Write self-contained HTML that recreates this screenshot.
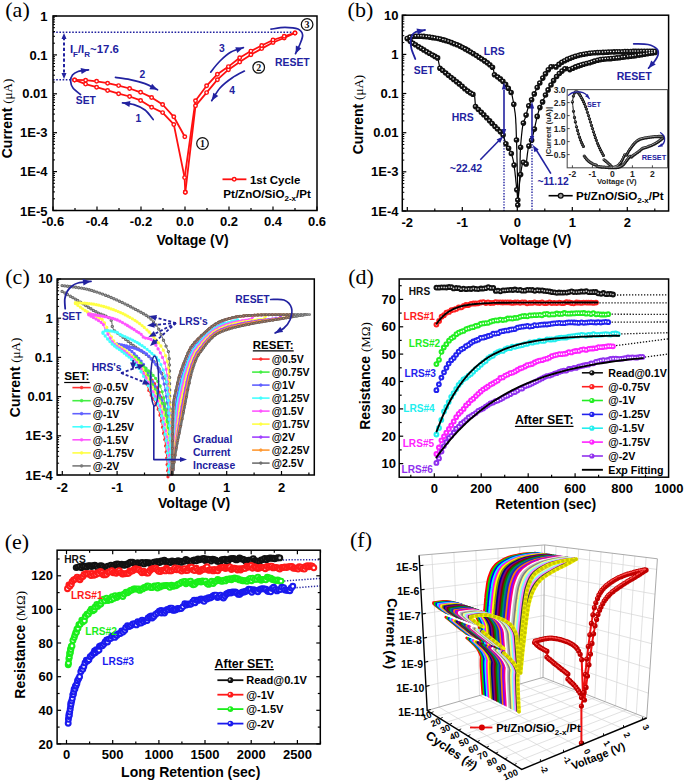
<!DOCTYPE html>
<html><head><meta charset="utf-8"><style>
html,body{margin:0;padding:0;background:#fff;width:685px;height:781px;overflow:hidden;}
svg{display:block;font-family:"Liberation Sans",sans-serif;}
</style></head><body>
<svg width="685" height="781" viewBox="0 0 685 781">
<rect x="0" y="0" width="685" height="781" fill="#fff"/>
<line x1="53" y1="32.3" x2="295" y2="32.3" stroke="#2222a0" stroke-width="1.5" stroke-dasharray="1.6,1.6"/>
<line x1="53" y1="79.7" x2="74" y2="79.7" stroke="#2222a0" stroke-width="1.5" stroke-dasharray="1.6,1.6"/>
<line x1="64" y1="37" x2="64" y2="75" stroke="#2222a0" stroke-width="2.0" stroke-dasharray="3.2,2.2"/>
<path d="M64,33 L66.5,39 L61.5,39 Z" fill="#2222a0"/>
<path d="M64,79 L61.5,73 L66.5,73 Z" fill="#2222a0"/>
<rect x="53" y="16" width="264" height="194.5" stroke="#000" stroke-width="1.5" fill="none"/>
<line x1="53" y1="210.5" x2="53" y2="206.5" stroke="#000" stroke-width="1.2"/>
<line x1="75" y1="210.5" x2="75" y2="208" stroke="#000" stroke-width="1.2"/>
<line x1="97" y1="210.5" x2="97" y2="206.5" stroke="#000" stroke-width="1.2"/>
<line x1="119" y1="210.5" x2="119" y2="208" stroke="#000" stroke-width="1.2"/>
<line x1="141" y1="210.5" x2="141" y2="206.5" stroke="#000" stroke-width="1.2"/>
<line x1="163" y1="210.5" x2="163" y2="208" stroke="#000" stroke-width="1.2"/>
<line x1="185" y1="210.5" x2="185" y2="206.5" stroke="#000" stroke-width="1.2"/>
<line x1="207" y1="210.5" x2="207" y2="208" stroke="#000" stroke-width="1.2"/>
<line x1="229" y1="210.5" x2="229" y2="206.5" stroke="#000" stroke-width="1.2"/>
<line x1="251" y1="210.5" x2="251" y2="208" stroke="#000" stroke-width="1.2"/>
<line x1="273" y1="210.5" x2="273" y2="206.5" stroke="#000" stroke-width="1.2"/>
<line x1="295" y1="210.5" x2="295" y2="208" stroke="#000" stroke-width="1.2"/>
<line x1="317" y1="210.5" x2="317" y2="206.5" stroke="#000" stroke-width="1.2"/>
<text x="53" y="226" style="font-family:'Liberation Sans'" font-size="13" font-weight="bold" fill="#000" text-anchor="middle">-0.6</text>
<text x="97" y="226" style="font-family:'Liberation Sans'" font-size="13" font-weight="bold" fill="#000" text-anchor="middle">-0.4</text>
<text x="141" y="226" style="font-family:'Liberation Sans'" font-size="13" font-weight="bold" fill="#000" text-anchor="middle">-0.2</text>
<text x="185" y="226" style="font-family:'Liberation Sans'" font-size="13" font-weight="bold" fill="#000" text-anchor="middle">0.0</text>
<text x="229" y="226" style="font-family:'Liberation Sans'" font-size="13" font-weight="bold" fill="#000" text-anchor="middle">0.2</text>
<text x="273" y="226" style="font-family:'Liberation Sans'" font-size="13" font-weight="bold" fill="#000" text-anchor="middle">0.4</text>
<text x="317" y="226" style="font-family:'Liberation Sans'" font-size="13" font-weight="bold" fill="#000" text-anchor="middle">0.6</text>
<line x1="53" y1="210.5" x2="57" y2="210.5" stroke="#000" stroke-width="1.2"/>
<line x1="53" y1="198.8" x2="55" y2="198.8" stroke="#000" stroke-width="1.0"/>
<line x1="53" y1="191.9" x2="55" y2="191.9" stroke="#000" stroke-width="1.0"/>
<line x1="53" y1="187.1" x2="55" y2="187.1" stroke="#000" stroke-width="1.0"/>
<line x1="53" y1="183.3" x2="55" y2="183.3" stroke="#000" stroke-width="1.0"/>
<line x1="53" y1="180.2" x2="55" y2="180.2" stroke="#000" stroke-width="1.0"/>
<line x1="53" y1="177.6" x2="55" y2="177.6" stroke="#000" stroke-width="1.0"/>
<line x1="53" y1="175.4" x2="55" y2="175.4" stroke="#000" stroke-width="1.0"/>
<line x1="53" y1="173.4" x2="55" y2="173.4" stroke="#000" stroke-width="1.0"/>
<line x1="53" y1="171.6" x2="57" y2="171.6" stroke="#000" stroke-width="1.2"/>
<line x1="53" y1="159.9" x2="55" y2="159.9" stroke="#000" stroke-width="1.0"/>
<line x1="53" y1="153" x2="55" y2="153" stroke="#000" stroke-width="1.0"/>
<line x1="53" y1="148.2" x2="55" y2="148.2" stroke="#000" stroke-width="1.0"/>
<line x1="53" y1="144.4" x2="55" y2="144.4" stroke="#000" stroke-width="1.0"/>
<line x1="53" y1="141.3" x2="55" y2="141.3" stroke="#000" stroke-width="1.0"/>
<line x1="53" y1="138.7" x2="55" y2="138.7" stroke="#000" stroke-width="1.0"/>
<line x1="53" y1="136.5" x2="55" y2="136.5" stroke="#000" stroke-width="1.0"/>
<line x1="53" y1="134.5" x2="55" y2="134.5" stroke="#000" stroke-width="1.0"/>
<line x1="53" y1="132.7" x2="57" y2="132.7" stroke="#000" stroke-width="1.2"/>
<line x1="53" y1="121" x2="55" y2="121" stroke="#000" stroke-width="1.0"/>
<line x1="53" y1="114.1" x2="55" y2="114.1" stroke="#000" stroke-width="1.0"/>
<line x1="53" y1="109.3" x2="55" y2="109.3" stroke="#000" stroke-width="1.0"/>
<line x1="53" y1="105.5" x2="55" y2="105.5" stroke="#000" stroke-width="1.0"/>
<line x1="53" y1="102.4" x2="55" y2="102.4" stroke="#000" stroke-width="1.0"/>
<line x1="53" y1="99.8" x2="55" y2="99.8" stroke="#000" stroke-width="1.0"/>
<line x1="53" y1="97.6" x2="55" y2="97.6" stroke="#000" stroke-width="1.0"/>
<line x1="53" y1="95.6" x2="55" y2="95.6" stroke="#000" stroke-width="1.0"/>
<line x1="53" y1="93.8" x2="57" y2="93.8" stroke="#000" stroke-width="1.2"/>
<line x1="53" y1="82.1" x2="55" y2="82.1" stroke="#000" stroke-width="1.0"/>
<line x1="53" y1="75.2" x2="55" y2="75.2" stroke="#000" stroke-width="1.0"/>
<line x1="53" y1="70.4" x2="55" y2="70.4" stroke="#000" stroke-width="1.0"/>
<line x1="53" y1="66.6" x2="55" y2="66.6" stroke="#000" stroke-width="1.0"/>
<line x1="53" y1="63.5" x2="55" y2="63.5" stroke="#000" stroke-width="1.0"/>
<line x1="53" y1="60.9" x2="55" y2="60.9" stroke="#000" stroke-width="1.0"/>
<line x1="53" y1="58.7" x2="55" y2="58.7" stroke="#000" stroke-width="1.0"/>
<line x1="53" y1="56.7" x2="55" y2="56.7" stroke="#000" stroke-width="1.0"/>
<line x1="53" y1="54.9" x2="57" y2="54.9" stroke="#000" stroke-width="1.2"/>
<line x1="53" y1="43.2" x2="55" y2="43.2" stroke="#000" stroke-width="1.0"/>
<line x1="53" y1="36.3" x2="55" y2="36.3" stroke="#000" stroke-width="1.0"/>
<line x1="53" y1="31.5" x2="55" y2="31.5" stroke="#000" stroke-width="1.0"/>
<line x1="53" y1="27.7" x2="55" y2="27.7" stroke="#000" stroke-width="1.0"/>
<line x1="53" y1="24.6" x2="55" y2="24.6" stroke="#000" stroke-width="1.0"/>
<line x1="53" y1="22" x2="55" y2="22" stroke="#000" stroke-width="1.0"/>
<line x1="53" y1="19.8" x2="55" y2="19.8" stroke="#000" stroke-width="1.0"/>
<line x1="53" y1="17.8" x2="55" y2="17.8" stroke="#000" stroke-width="1.0"/>
<line x1="53" y1="16" x2="57" y2="16" stroke="#000" stroke-width="1.2"/>
<text x="47.5" y="20.6" style="font-family:'Liberation Sans'" font-size="13" font-weight="bold" fill="#000" text-anchor="end">1</text>
<text x="47.5" y="59.5" style="font-family:'Liberation Sans'" font-size="13" font-weight="bold" fill="#000" text-anchor="end">0.1</text>
<text x="47.5" y="98.4" style="font-family:'Liberation Sans'" font-size="13" font-weight="bold" fill="#000" text-anchor="end">0.01</text>
<text x="47.5" y="137.3" style="font-family:'Liberation Sans'" font-size="13" font-weight="bold" fill="#000" text-anchor="end">1E-3</text>
<text x="47.5" y="176.2" style="font-family:'Liberation Sans'" font-size="13" font-weight="bold" fill="#000" text-anchor="end">1E-4</text>
<text x="47.5" y="216.3" style="font-family:'Liberation Sans'" font-size="13" font-weight="bold" fill="#000" text-anchor="end">1E-5</text>
<text x="192.6" y="244.5" style="font-family:'Liberation Sans'" font-size="14" font-weight="bold" fill="#000" text-anchor="middle">Voltage (V)</text>
<text x="11.6" y="118.5" font-family="Liberation Sans" font-size="14" font-weight="bold" text-anchor="middle" transform="rotate(-90 11.6 118.5)">Current <tspan font-family="Liberation Serif" font-weight="normal" font-size="13">(μA)</tspan></text>
<text x="5.3" y="17" style="font-family:'Liberation Serif'" font-size="22" font-weight="normal" fill="#000" text-anchor="start">(a)</text>
<path d="M74.6,79.9 L85.6,80.2 L96.6,81.3 L107.6,83.2 L118.6,85.6 L129.6,88.5 L140.6,92.3 L151.6,97.4 L162.6,104.5 L173.8,116.8 L184.8,136.8" stroke="#ff1010" stroke-width="1.8" fill="none" stroke-linejoin="round" stroke-linecap="round"/>
<path d="M74.6,79.9 L85.6,84.1 L96.6,87.2 L107.6,90.4 L118.6,93.7 L129.6,96.5 L140.6,100.4 L151.6,107.2 L162.6,112.6 L173.8,124.4 L184.6,177.6 L185.3,192.3" stroke="#ff1010" stroke-width="1.8" fill="none" stroke-linejoin="round" stroke-linecap="round"/>
<path d="M185.3,192.3 L195.5,105.8 L206.6,92.6 L217.4,79.7 L228.4,69.7 L239.7,61.9 L250.9,54.7 L261.7,48.6 L273,42.5 L284.2,38 L295,32.9" stroke="#ff1010" stroke-width="1.8" fill="none" stroke-linejoin="round" stroke-linecap="round"/>
<path d="M295,32.9 L284.2,36.3 L273,40 L261.7,45.5 L250.9,51.1 L239.7,57.8 L228.4,66.6 L217.4,74.2 L206.6,85.8 L195.5,100.7 L184.6,177.6" stroke="#ff1010" stroke-width="1.8" fill="none" stroke-linejoin="round" stroke-linecap="round"/>
<circle cx="74.6" cy="79.9" r="1.75" stroke="#ff1010" stroke-width="1.45" fill="#fff"/>
<circle cx="85.6" cy="80.2" r="1.75" stroke="#ff1010" stroke-width="1.45" fill="#fff"/>
<circle cx="96.6" cy="81.3" r="1.75" stroke="#ff1010" stroke-width="1.45" fill="#fff"/>
<circle cx="107.6" cy="83.2" r="1.75" stroke="#ff1010" stroke-width="1.45" fill="#fff"/>
<circle cx="118.6" cy="85.6" r="1.75" stroke="#ff1010" stroke-width="1.45" fill="#fff"/>
<circle cx="129.6" cy="88.5" r="1.75" stroke="#ff1010" stroke-width="1.45" fill="#fff"/>
<circle cx="140.6" cy="92.3" r="1.75" stroke="#ff1010" stroke-width="1.45" fill="#fff"/>
<circle cx="151.6" cy="97.4" r="1.75" stroke="#ff1010" stroke-width="1.45" fill="#fff"/>
<circle cx="162.6" cy="104.5" r="1.75" stroke="#ff1010" stroke-width="1.45" fill="#fff"/>
<circle cx="173.8" cy="116.8" r="1.75" stroke="#ff1010" stroke-width="1.45" fill="#fff"/>
<circle cx="184.8" cy="136.8" r="1.75" stroke="#ff1010" stroke-width="1.45" fill="#fff"/>
<circle cx="74.6" cy="79.9" r="1.75" stroke="#ff1010" stroke-width="1.45" fill="#fff"/>
<circle cx="85.6" cy="84.1" r="1.75" stroke="#ff1010" stroke-width="1.45" fill="#fff"/>
<circle cx="96.6" cy="87.2" r="1.75" stroke="#ff1010" stroke-width="1.45" fill="#fff"/>
<circle cx="107.6" cy="90.4" r="1.75" stroke="#ff1010" stroke-width="1.45" fill="#fff"/>
<circle cx="118.6" cy="93.7" r="1.75" stroke="#ff1010" stroke-width="1.45" fill="#fff"/>
<circle cx="129.6" cy="96.5" r="1.75" stroke="#ff1010" stroke-width="1.45" fill="#fff"/>
<circle cx="140.6" cy="100.4" r="1.75" stroke="#ff1010" stroke-width="1.45" fill="#fff"/>
<circle cx="151.6" cy="107.2" r="1.75" stroke="#ff1010" stroke-width="1.45" fill="#fff"/>
<circle cx="162.6" cy="112.6" r="1.75" stroke="#ff1010" stroke-width="1.45" fill="#fff"/>
<circle cx="173.8" cy="124.4" r="1.75" stroke="#ff1010" stroke-width="1.45" fill="#fff"/>
<circle cx="184.6" cy="177.6" r="1.75" stroke="#ff1010" stroke-width="1.45" fill="#fff"/>
<circle cx="185.3" cy="192.3" r="1.75" stroke="#ff1010" stroke-width="1.45" fill="#fff"/>
<circle cx="185.3" cy="192.3" r="1.75" stroke="#ff1010" stroke-width="1.45" fill="#fff"/>
<circle cx="195.5" cy="105.8" r="1.75" stroke="#ff1010" stroke-width="1.45" fill="#fff"/>
<circle cx="206.6" cy="92.6" r="1.75" stroke="#ff1010" stroke-width="1.45" fill="#fff"/>
<circle cx="217.4" cy="79.7" r="1.75" stroke="#ff1010" stroke-width="1.45" fill="#fff"/>
<circle cx="228.4" cy="69.7" r="1.75" stroke="#ff1010" stroke-width="1.45" fill="#fff"/>
<circle cx="239.7" cy="61.9" r="1.75" stroke="#ff1010" stroke-width="1.45" fill="#fff"/>
<circle cx="250.9" cy="54.7" r="1.75" stroke="#ff1010" stroke-width="1.45" fill="#fff"/>
<circle cx="261.7" cy="48.6" r="1.75" stroke="#ff1010" stroke-width="1.45" fill="#fff"/>
<circle cx="273" cy="42.5" r="1.75" stroke="#ff1010" stroke-width="1.45" fill="#fff"/>
<circle cx="284.2" cy="38" r="1.75" stroke="#ff1010" stroke-width="1.45" fill="#fff"/>
<circle cx="295" cy="32.9" r="1.75" stroke="#ff1010" stroke-width="1.45" fill="#fff"/>
<circle cx="295" cy="32.9" r="1.75" stroke="#ff1010" stroke-width="1.45" fill="#fff"/>
<circle cx="284.2" cy="36.3" r="1.75" stroke="#ff1010" stroke-width="1.45" fill="#fff"/>
<circle cx="273" cy="40" r="1.75" stroke="#ff1010" stroke-width="1.45" fill="#fff"/>
<circle cx="261.7" cy="45.5" r="1.75" stroke="#ff1010" stroke-width="1.45" fill="#fff"/>
<circle cx="250.9" cy="51.1" r="1.75" stroke="#ff1010" stroke-width="1.45" fill="#fff"/>
<circle cx="239.7" cy="57.8" r="1.75" stroke="#ff1010" stroke-width="1.45" fill="#fff"/>
<circle cx="228.4" cy="66.6" r="1.75" stroke="#ff1010" stroke-width="1.45" fill="#fff"/>
<circle cx="217.4" cy="74.2" r="1.75" stroke="#ff1010" stroke-width="1.45" fill="#fff"/>
<circle cx="206.6" cy="85.8" r="1.75" stroke="#ff1010" stroke-width="1.45" fill="#fff"/>
<circle cx="195.5" cy="100.7" r="1.75" stroke="#ff1010" stroke-width="1.45" fill="#fff"/>
<path d="M80.5,94.5 C79.2,93.4 74.7,90.2 73,88 C71.3,85.8 70.7,83.2 70.6,81 C70.5,78.8 71.3,76.6 72.5,75 C73.7,73.4 75.3,72.4 78,71.5 C80.7,70.6 86.8,70.1 88.5,69.8" stroke="#2222a0" stroke-width="1.7" fill="none" stroke-linejoin="round" stroke-linecap="round"/>
<path d="M88.5,69.8 L81.6,74 L80.6,68 Z" fill="#2222a0"/>
<text x="85.8" y="103.8" style="font-family:'Liberation Sans'" font-size="10.3" font-weight="bold" fill="#2222a0" text-anchor="middle">SET</text>
<path d="M115.5,77.4 C117.9,77.8 125.1,78.6 130,79.6 C134.9,80.6 140.4,81.9 145,83.6 C149.6,85.3 155.4,88.8 157.5,89.8" stroke="#2222a0" stroke-width="1.7" fill="none" stroke-linejoin="round" stroke-linecap="round"/>
<path d="M157.5,89.8 L149.4,89.2 L152.1,83.8 Z" fill="#2222a0"/>
<text x="142.4" y="78.4" style="font-family:'Liberation Sans'" font-size="10.3" font-weight="bold" fill="#2222a0" text-anchor="middle">2</text>
<path d="M153.2,119.5 C151.8,117.9 148.2,112.5 145,110 C141.8,107.5 137.8,105.8 134,104.6 C130.2,103.4 124.4,103.1 122.5,102.8" stroke="#2222a0" stroke-width="1.7" fill="none" stroke-linejoin="round" stroke-linecap="round"/>
<path d="M122.5,102.8 L130.4,101 L129.4,106.9 Z" fill="#2222a0"/>
<text x="138.3" y="121.9" style="font-family:'Liberation Sans'" font-size="10.3" font-weight="bold" fill="#2222a0" text-anchor="middle">1</text>
<path d="M210.7,72.1 C212.2,70.2 216.6,64.3 220,61 C223.4,57.6 227.1,54.2 231,52 C234.9,49.8 241.3,48.3 243.4,47.6" stroke="#2222a0" stroke-width="1.7" fill="none" stroke-linejoin="round" stroke-linecap="round"/>
<path d="M243.4,47.6 L237.3,52.9 L235.3,47.3 Z" fill="#2222a0"/>
<text x="221.9" y="52.3" style="font-family:'Liberation Sans'" font-size="10.3" font-weight="bold" fill="#2222a0" text-anchor="middle">3</text>
<path d="M244.4,71.1 C242.3,72.2 236.1,75.2 232,78 C227.9,80.8 223.4,84.2 220,88 C216.6,91.8 213.1,98.6 211.7,100.7" stroke="#2222a0" stroke-width="1.7" fill="none" stroke-linejoin="round" stroke-linecap="round"/>
<path d="M211.7,100.7 L213.3,92.8 L218.3,96.1 Z" fill="#2222a0"/>
<text x="232.1" y="94.2" style="font-family:'Liberation Sans'" font-size="10.3" font-weight="bold" fill="#2222a0" text-anchor="middle">4</text>
<path d="M271,29.2 C273.3,28.9 280.5,27.3 285,27.3 C289.5,27.3 295.1,27.7 298,29 C300.9,30.3 302.3,32.5 302.6,35 C302.9,37.5 301.2,40.9 300,44 C298.8,47.1 296.2,52.1 295.5,53.7" stroke="#2222a0" stroke-width="1.7" fill="none" stroke-linejoin="round" stroke-linecap="round"/>
<path d="M295.5,53.7 L295.9,45.6 L301.4,48.2 Z" fill="#2222a0"/>
<text x="292.4" y="65.6" style="font-family:'Liberation Sans'" font-size="10.4" font-weight="bold" fill="#2222a0" text-anchor="middle">RESET</text>
<text x="69.9" y="53" font-family="Liberation Sans" font-size="11.4" font-weight="bold" fill="#2222a0">I<tspan font-size="8" dy="3.5">F</tspan><tspan dy="-3.5">/I</tspan><tspan font-size="8" dy="3.5">R</tspan><tspan dy="-3.5">~17.6</tspan></text>
<circle cx="307.1" cy="24.5" r="5.8" stroke="#111" stroke-width="1.25" fill="none"/>
<text x="307.1" y="28" style="font-family:'Liberation Serif'" font-size="10" font-weight="bold" fill="#111" text-anchor="middle">3</text>
<circle cx="258.7" cy="67.4" r="5.8" stroke="#111" stroke-width="1.25" fill="none"/>
<text x="258.7" y="70.9" style="font-family:'Liberation Serif'" font-size="10" font-weight="bold" fill="#111" text-anchor="middle">2</text>
<circle cx="202.5" cy="143.5" r="5.8" stroke="#111" stroke-width="1.25" fill="none"/>
<text x="202.5" y="147" style="font-family:'Liberation Serif'" font-size="10" font-weight="bold" fill="#111" text-anchor="middle">1</text>
<line x1="222.5" y1="179.3" x2="246.4" y2="179.3" stroke="#ff1010" stroke-width="1.8"/>
<circle cx="234.2" cy="179.3" r="1.75" stroke="#ff1010" stroke-width="1.45" fill="#fff"/>
<text x="249.9" y="183.5" style="font-family:'Liberation Sans'" font-size="11.5" font-weight="bold" fill="#000" text-anchor="start">1st Cycle</text>
<text x="223.3" y="198" font-family="Liberation Sans" font-size="11.6" font-weight="bold">Pt/ZnO/SiO<tspan font-size="8" dy="3">2-x</tspan><tspan dy="-3">/Pt</tspan></text>
<line x1="504" y1="137" x2="504" y2="211" stroke="#2222a0" stroke-width="1.4" stroke-dasharray="1.4,1.4"/>
<line x1="532" y1="144" x2="532" y2="211" stroke="#2222a0" stroke-width="1.4" stroke-dasharray="1.4,1.4"/>
<path d="M493,67.6 L494.5,74.8" stroke="#000" stroke-width="1.2" fill="none" stroke-linejoin="round" stroke-linecap="round"/>
<path d="M437.8,58 L439.9,68.2" stroke="#000" stroke-width="1.2" fill="none" stroke-linejoin="round" stroke-linecap="round"/>
<path d="M474.6,95.2 L475.5,106.6" stroke="#000" stroke-width="1.2" fill="none" stroke-linejoin="round" stroke-linecap="round"/>
<path d="M553.4,65 L556,66.9" stroke="#000" stroke-width="1.2" fill="none" stroke-linejoin="round" stroke-linecap="round"/>
<path d="M567.2,66.9 L569.8,69.6" stroke="#000" stroke-width="1.2" fill="none" stroke-linejoin="round" stroke-linecap="round"/>
<path d="M407.2,38.6 L409.6,37.4 L412.9,36.5 L415.9,36.2 L419.3,36.2 L422.3,36.3 L425.3,36.6 L428.4,37 L431.4,37.4 L434.4,37.9 L437.4,38.4 L440.4,39.1 L443.4,39.9 L446.2,40.7 L449.1,41.7 L451.9,42.8 L454.7,43.9 L457.6,45.1 L460.4,46.3 L463.1,47.7 L465.7,49.1 L468.4,50.7 L471.1,52.2 L473.7,53.8 L476.4,55.5 L479,57.2 L481.3,58.8 L484.1,60.6 L486.5,62.3 L488.9,64.1 L491.5,66.3 L493,67.6" stroke="#000" stroke-width="1.2" fill="none" stroke-linejoin="round" stroke-linecap="round"/>
<path d="M494.5,74.8 L496.7,76.3 L499.5,78.3 L501.8,80.2 L504,82.5 L505.9,84.9 L507.8,87.5 L509.5,90 L511.1,92.5 L512,94.8 L512.7,98.5 L513.2,100.9 L513.7,103.7 L514.2,106.9 L514.7,110.3 L515.2,113.7 L515.5,116.7 L515.7,119.3 L515.8,122.1 L516,124.9 L516.1,127.9 L516.2,131.1 L516.3,134.5 L516.4,137.8 L516.5,140.5 L516.6,143.3 L516.7,146.2 L516.8,149.3 L516.9,152.4 L516.9,155.6 L517,158.7 L517.1,161.9 L517.2,165 L517.2,168.1 L517.3,171 L517.4,174.2 L517.4,177.7 L517.5,181.1 L517.5,184.6 L517.6,188.1 L517.6,191.3 L517.7,194.4 L517.7,197.2 L517.8,199.5 L517.8,201.5 L517.8,202" stroke="#000" stroke-width="1.2" fill="none" stroke-linejoin="round" stroke-linecap="round"/>
<path d="M407.2,38.6 L409,40.2 L411.8,42.3 L414.2,44 L416.8,45.6 L419.5,47.3 L422.1,48.8 L424.7,50.4 L427.3,52 L429.9,53.5 L432.9,55.3 L435.8,56.9 L437.8,58" stroke="#000" stroke-width="1.2" fill="none" stroke-linejoin="round" stroke-linecap="round"/>
<path d="M439.9,68.2 L441.5,69.6 L443.9,71.5 L446.6,73.7 L449.2,75.8 L451.6,77.8 L454.1,79.8 L456.6,81.7 L458.9,83.6 L461.3,85.6 L463.6,87.7 L465.9,89.7 L468,91.4 L471.1,93.3 L473.7,94.7 L474.6,95.2" stroke="#000" stroke-width="1.2" fill="none" stroke-linejoin="round" stroke-linecap="round"/>
<path d="M475.5,106.6 L477,108.1 L479.2,110.2 L481.7,112.7 L484.2,115.2 L486.4,117.4 L488.5,119.7 L490.7,122 L492.8,124.2 L494.7,126.2 L497.1,128.6 L499.4,130.8 L501.3,132.7 L503.1,135.1 L504,137.7 L504.9,140.5 L505.9,143.7 L507.2,146.4 L508.9,148.7 L510.3,151.2 L511.5,154 L512.3,156.7 L512.9,158.8 L513.5,161.6 L514.2,166 L514.5,168.8 L514.9,171.5 L515.2,174.6 L515.6,177.9 L515.9,181.4 L516.3,185 L516.6,188.5 L517,191.9 L517.3,195 L517.5,197.7 L517.7,199.9 L518,204.8 L517.8,205.2" stroke="#000" stroke-width="1.2" fill="none" stroke-linejoin="round" stroke-linecap="round"/>
<path d="M517.8,205 L517.9,203.2 L518.1,200.8 L518.3,198 L518.6,194.9 L518.8,191.6 L519.1,188.1 L519.3,184.6 L519.5,181.2 L519.7,178 L519.8,174.9 L520,171.8 L520,168.7 L520.1,165.6 L520.1,162.6 L520.1,159.6 L520.2,156.7 L520.2,153.8 L520.4,150.9 L520.5,147.8 L520.7,144.5 L521,141.2 L521.3,138 L521.6,135 L521.9,132.1 L522.2,129.4 L522.6,126.7 L523.4,123.1 L524.3,120.3 L525.3,117.9 L526.1,115.1 L526.9,112 L527.7,109.1 L528.6,106.4 L529.9,103.5 L531.2,100.7 L532.5,97.8 L533.9,94.8 L535.2,91.8 L536.5,88.9 L537.9,86.1 L539.6,83.4 L541.2,80.8 L542.8,78.1 L544.4,75.4 L546.1,72.8 L547.9,70.2 L549.8,67.9 L552.4,65.7 L553.4,65" stroke="#000" stroke-width="1.2" fill="none" stroke-linejoin="round" stroke-linecap="round"/>
<path d="M556,66.9 L558.1,65.1 L560.7,63.2 L563.2,61.5 L566,60 L568.7,58.8 L571.6,57.6 L574.5,56.6 L577.4,55.8 L580.3,55 L583.3,54.3 L586.4,53.8 L589.5,53.3 L592.5,53 L595.2,52.8 L598.1,52.6 L601.2,52.4 L603.9,52.3 L606.8,52.2 L610,52.1 L613.5,51.9 L616.5,51.8 L619.3,51.8 L622.3,51.7 L625.4,51.6 L628.6,51.5 L631.7,51.5 L634.8,51.4 L637.9,51.4 L641.4,51.3 L644.9,51.3 L648.3,51.3 L651.5,51.3 L654.1,51.3 L656,51.3" stroke="#000" stroke-width="1.2" fill="none" stroke-linejoin="round" stroke-linecap="round"/>
<path d="M517.8,200 L518,198.1 L518.3,195.4 L518.6,192.3 L518.9,188.8 L519.3,185.3 L519.7,181.8 L520.1,178.7 L520.4,176 L521,172 L521.5,168.5 L522,165.5 L522.6,163.4 L524.4,163.7 L526.1,163.5 L526.6,160.9 L527,157.5 L527.4,153.9 L527.9,150.5 L528.3,148 L529.6,145.3 L530.9,142.7 L531.6,140.2 L532.5,137.1 L533.3,133.7 L534.1,130.5 L534.8,127.5 L535.4,124.3 L536.1,121.3 L536.7,118.4 L537.5,115.3 L538.4,112.2 L539.2,109.4 L540.3,106.6 L541.7,104 L542.8,101.4 L544,98.4 L545.3,95.5 L546.6,92.7 L548.1,89.9 L549.6,87.2 L551.2,84.6 L552.9,82 L554.4,79.3 L556.2,76.9 L558.2,74.6 L560.4,72.4 L562.8,70.5 L565.4,68.4 L567.2,66.9" stroke="#000" stroke-width="1.2" fill="none" stroke-linejoin="round" stroke-linecap="round"/>
<path d="M569.8,69.6 L572.3,68.4 L575.7,66.9 L578.5,65.9 L581.6,64.9 L584.6,64 L587.5,63.2 L590.5,62.4 L593.3,61.5 L596,60.6 L599.3,59.8 L602.1,59.4 L604.8,59.1 L607.9,58.9 L611.1,58.6 L614.7,58.2 L617.4,57.9 L620.3,57.6 L623.3,57.2 L626.5,56.8 L629.7,56.4 L632.8,56 L635.8,55.6 L639.1,55.1 L642.6,54.6 L646.1,54 L649.4,53.4 L652.4,52.9 L654.8,52.5 L656,52.3" stroke="#000" stroke-width="1.2" fill="none" stroke-linejoin="round" stroke-linecap="round"/>
<path d="M407.2,38.6h0M410.1,37.1h0M412.9,36.5h0M415.9,36.2h0M418.7,36.2h0M421.4,36.2h0M423.8,36.4h0M426.8,36.8h0M429.5,37.1h0M432.4,37.6h0M434.9,38h0M437.9,38.5h0M440.4,39.1h0M443.4,39.9h0M445.7,40.6h0M448.6,41.5h0M451.5,42.6h0M454.3,43.7h0M457.1,44.8h0M459.9,46.1h0M462.6,47.5h0M465.3,48.9h0M468,50.4h0M470.6,52h0M473.2,53.6h0M476.4,55.5h0M479,57.2h0M481.7,59h0M484.6,60.9h0M487.3,62.8h0M489.8,64.8h0M492.5,67.2h0M494.5,74.8h0M497.7,77h0M500.3,78.9h0M502.9,81.3h0M505.6,84.4h0M508.3,88.3h0M511.1,92.5h0M513.8,104.2h0M516.5,140h0M407.2,38.6h0M410.3,41.2h0M413,43.2h0M415.5,44.8h0M418.6,46.7h0M421.2,48.3h0M423.8,49.9h0M426.8,51.7h0M429.4,53.3h0M432.4,55h0M434.9,56.4h0M437.6,57.9h0M439.9,68.2h0M442.7,70.5h0M445.7,73h0M448.4,75.2h0M451.2,77.5h0M453.7,79.4h0M456.6,81.7h0M459.3,83.9h0M462.1,86.3h0M464.8,88.7h0M467.7,91.1h0M470.5,93h0M472.9,94.3h0M475.5,106.6h0M478.4,109.5h0M481.3,112.3h0M483.8,114.8h0M486.7,117.8h0M489.6,120.8h0M492.1,123.5h0M495,126.5h0M497.5,129h0M500.4,131.8h0M503.1,135.1h0M505.9,143.7h0M508.6,148.3h0M511.3,153.5h0M514.1,165.1h0M516.8,189.7h0M517.8,205h0M520.6,147.3h0M523.4,123.1h0M526.1,115.1h0M528.8,105.8h0M531.6,99.7h0M534.3,93.9h0M537.2,87.5h0M539.8,83h0M542.8,78.1h0M545.5,73.7h0M548.3,69.8h0M551.1,66.7h0M556,66.9h0M559,64.4h0M561.9,62.3h0M564.7,60.7h0M567.3,59.4h0M570.1,58.2h0M572.6,57.3h0M575.4,56.3h0M578.4,55.5h0M580.8,54.8h0M583.8,54.2h0M586.4,53.8h0M589.5,53.3h0M592,53h0M594.7,52.8h0M597.6,52.6h0M600,52.5h0M603,52.4h0M605.8,52.2h0M608.4,52.1h0M611.1,52h0M614.1,51.9h0M616.9,51.8h0M619.3,51.8h0M622.3,51.7h0M624.9,51.6h0M627.5,51.6h0M630.7,51.5h0M633.3,51.4h0M635.8,51.4h0M638.5,51.4h0M641.4,51.3h0M644.3,51.3h0M647.2,51.3h0M649.9,51.3h0M652.4,51.3h0M655.1,51.3h0M517.8,200h0M520.6,174.6h0M523.4,162.2h0M526.1,163.9h0M528.9,146.1h0M531.6,140.2h0M534.4,129.1h0M537.2,116.4h0M539.9,107.6h0M542.6,101.9h0M545.5,95h0M548.1,89.9h0M551,85h0M553.6,80.6h0M556.6,76.5h0M559.3,73.5h0M562,71.1h0M564.9,68.8h0M569.8,69.6h0M572.8,68.2h0M575.7,66.9h0M578.5,65.9h0M581.1,65.1h0M583.6,64.3h0M586.5,63.5h0M589.5,62.7h0M592,62h0M594.6,61.1h0M597.6,60.2h0M600.4,59.6h0M603,59.3h0M605.8,59h0M608.4,58.8h0M611.1,58.6h0M614.1,58.3h0M616.9,57.9h0M619.3,57.7h0M622.3,57.3h0M624.9,57h0M628.1,56.6h0M630.7,56.3h0M633.3,55.9h0M635.8,55.6h0M639.1,55.1h0M641.4,54.7h0M644.3,54.3h0M647.2,53.8h0M649.9,53.3h0M652.4,52.9h0M655.1,52.4h0" fill="none" stroke="#111" stroke-width="5.6" stroke-linecap="round"/>
<path d="M406.7,38.1h0M409.6,36.6h0M412.4,36h0M415.4,35.7h0M418.2,35.7h0M420.9,35.7h0M423.3,35.9h0M426.3,36.3h0M429,36.6h0M431.9,37.1h0M434.4,37.5h0M437.4,38h0M439.9,38.6h0M442.9,39.4h0M445.2,40.1h0M448.1,41h0M451,42.1h0M453.8,43.2h0M456.6,44.3h0M459.4,45.6h0M462.1,47h0M464.8,48.4h0M467.5,49.9h0M470.1,51.5h0M472.7,53.1h0M475.9,55h0M478.5,56.7h0M481.2,58.5h0M484.1,60.4h0M486.8,62.3h0M489.3,64.3h0M492,66.7h0M494,74.3h0M497.2,76.5h0M499.8,78.4h0M502.4,80.8h0M505.1,83.9h0M507.8,87.8h0M510.6,92h0M513.3,103.7h0M516,139.5h0M406.7,38.1h0M409.8,40.7h0M412.5,42.7h0M415,44.3h0M418.1,46.2h0M420.7,47.8h0M423.3,49.4h0M426.3,51.2h0M428.9,52.8h0M431.9,54.5h0M434.4,55.9h0M437.1,57.4h0M439.4,67.7h0M442.2,70h0M445.2,72.5h0M447.9,74.7h0M450.7,77h0M453.2,78.9h0M456.1,81.2h0M458.8,83.4h0M461.6,85.8h0M464.3,88.2h0M467.2,90.6h0M470,92.5h0M472.4,93.8h0M475,106.1h0M477.9,109h0M480.8,111.8h0M483.3,114.3h0M486.2,117.3h0M489.1,120.3h0M491.6,123h0M494.5,126h0M497,128.5h0M499.9,131.3h0M502.6,134.6h0M505.4,143.2h0M508.1,147.8h0M510.8,153h0M513.6,164.6h0M516.3,189.2h0M517.3,204.5h0M520.1,146.8h0M522.9,122.6h0M525.6,114.6h0M528.3,105.3h0M531.1,99.2h0M533.8,93.4h0M536.7,87h0M539.3,82.5h0M542.3,77.6h0M545,73.2h0M547.8,69.3h0M550.6,66.2h0M555.5,66.4h0M558.5,63.9h0M561.4,61.8h0M564.2,60.2h0M566.8,58.9h0M569.6,57.7h0M572.1,56.8h0M574.9,55.8h0M577.9,55h0M580.3,54.3h0M583.3,53.7h0M585.9,53.3h0M589,52.8h0M591.5,52.5h0M594.2,52.3h0M597.1,52.1h0M599.5,52h0M602.5,51.9h0M605.3,51.7h0M607.9,51.6h0M610.6,51.5h0M613.6,51.4h0M616.4,51.3h0M618.8,51.3h0M621.8,51.2h0M624.4,51.1h0M627,51.1h0M630.2,51h0M632.8,50.9h0M635.3,50.9h0M638,50.9h0M640.9,50.8h0M643.8,50.8h0M646.7,50.8h0M649.4,50.8h0M651.9,50.8h0M654.6,50.8h0M517.3,199.5h0M520.1,174.1h0M522.9,161.7h0M525.6,163.4h0M528.4,145.6h0M531.1,139.7h0M533.9,128.6h0M536.7,115.9h0M539.4,107.1h0M542.1,101.4h0M545,94.5h0M547.6,89.4h0M550.5,84.5h0M553.1,80.1h0M556.1,76h0M558.8,73h0M561.5,70.6h0M564.4,68.3h0M569.3,69.1h0M572.3,67.7h0M575.2,66.4h0M578,65.4h0M580.6,64.6h0M583.1,63.8h0M586,63h0M589,62.2h0M591.5,61.5h0M594.1,60.6h0M597.1,59.7h0M599.9,59.1h0M602.5,58.8h0M605.3,58.5h0M607.9,58.3h0M610.6,58.1h0M613.6,57.8h0M616.4,57.4h0M618.8,57.2h0M621.8,56.8h0M624.4,56.5h0M627.6,56.1h0M630.2,55.8h0M632.8,55.4h0M635.3,55.1h0M638.6,54.6h0M640.9,54.2h0M643.8,53.8h0M646.7,53.3h0M649.4,52.8h0M651.9,52.4h0M654.6,51.9h0" fill="none" stroke="#fff" stroke-width="1.5" stroke-linecap="round"/>
<rect x="402.3" y="15.2" width="266.3" height="195.8" stroke="#000" stroke-width="1.5" fill="none"/>
<line x1="407.3" y1="211" x2="407.3" y2="207" stroke="#000" stroke-width="1.2"/>
<line x1="434.8" y1="211" x2="434.8" y2="208.5" stroke="#000" stroke-width="1.2"/>
<line x1="462.3" y1="211" x2="462.3" y2="207" stroke="#000" stroke-width="1.2"/>
<line x1="489.8" y1="211" x2="489.8" y2="208.5" stroke="#000" stroke-width="1.2"/>
<line x1="517.3" y1="211" x2="517.3" y2="207" stroke="#000" stroke-width="1.2"/>
<line x1="544.8" y1="211" x2="544.8" y2="208.5" stroke="#000" stroke-width="1.2"/>
<line x1="572.3" y1="211" x2="572.3" y2="207" stroke="#000" stroke-width="1.2"/>
<line x1="599.8" y1="211" x2="599.8" y2="208.5" stroke="#000" stroke-width="1.2"/>
<line x1="627.3" y1="211" x2="627.3" y2="207" stroke="#000" stroke-width="1.2"/>
<line x1="654.8" y1="211" x2="654.8" y2="208.5" stroke="#000" stroke-width="1.2"/>
<text x="407.3" y="227" style="font-family:'Liberation Sans'" font-size="13" font-weight="bold" fill="#000" text-anchor="middle">-2</text>
<text x="462.3" y="227" style="font-family:'Liberation Sans'" font-size="13" font-weight="bold" fill="#000" text-anchor="middle">-1</text>
<text x="517.3" y="227" style="font-family:'Liberation Sans'" font-size="13" font-weight="bold" fill="#000" text-anchor="middle">0</text>
<text x="572.3" y="227" style="font-family:'Liberation Sans'" font-size="13" font-weight="bold" fill="#000" text-anchor="middle">1</text>
<text x="627.3" y="227" style="font-family:'Liberation Sans'" font-size="13" font-weight="bold" fill="#000" text-anchor="middle">2</text>
<line x1="402.3" y1="211" x2="406.3" y2="211" stroke="#000" stroke-width="1.2"/>
<line x1="402.3" y1="199.2" x2="404.3" y2="199.2" stroke="#000" stroke-width="1.0"/>
<line x1="402.3" y1="192.3" x2="404.3" y2="192.3" stroke="#000" stroke-width="1.0"/>
<line x1="402.3" y1="187.4" x2="404.3" y2="187.4" stroke="#000" stroke-width="1.0"/>
<line x1="402.3" y1="183.6" x2="404.3" y2="183.6" stroke="#000" stroke-width="1.0"/>
<line x1="402.3" y1="180.5" x2="404.3" y2="180.5" stroke="#000" stroke-width="1.0"/>
<line x1="402.3" y1="177.9" x2="404.3" y2="177.9" stroke="#000" stroke-width="1.0"/>
<line x1="402.3" y1="175.6" x2="404.3" y2="175.6" stroke="#000" stroke-width="1.0"/>
<line x1="402.3" y1="173.6" x2="404.3" y2="173.6" stroke="#000" stroke-width="1.0"/>
<line x1="402.3" y1="171.8" x2="406.3" y2="171.8" stroke="#000" stroke-width="1.2"/>
<line x1="402.3" y1="160.1" x2="404.3" y2="160.1" stroke="#000" stroke-width="1.0"/>
<line x1="402.3" y1="153.2" x2="404.3" y2="153.2" stroke="#000" stroke-width="1.0"/>
<line x1="402.3" y1="148.3" x2="404.3" y2="148.3" stroke="#000" stroke-width="1.0"/>
<line x1="402.3" y1="144.5" x2="404.3" y2="144.5" stroke="#000" stroke-width="1.0"/>
<line x1="402.3" y1="141.4" x2="404.3" y2="141.4" stroke="#000" stroke-width="1.0"/>
<line x1="402.3" y1="138.7" x2="404.3" y2="138.7" stroke="#000" stroke-width="1.0"/>
<line x1="402.3" y1="136.5" x2="404.3" y2="136.5" stroke="#000" stroke-width="1.0"/>
<line x1="402.3" y1="134.5" x2="404.3" y2="134.5" stroke="#000" stroke-width="1.0"/>
<line x1="402.3" y1="132.7" x2="406.3" y2="132.7" stroke="#000" stroke-width="1.2"/>
<line x1="402.3" y1="120.9" x2="404.3" y2="120.9" stroke="#000" stroke-width="1.0"/>
<line x1="402.3" y1="114" x2="404.3" y2="114" stroke="#000" stroke-width="1.0"/>
<line x1="402.3" y1="109.1" x2="404.3" y2="109.1" stroke="#000" stroke-width="1.0"/>
<line x1="402.3" y1="105.3" x2="404.3" y2="105.3" stroke="#000" stroke-width="1.0"/>
<line x1="402.3" y1="102.2" x2="404.3" y2="102.2" stroke="#000" stroke-width="1.0"/>
<line x1="402.3" y1="99.6" x2="404.3" y2="99.6" stroke="#000" stroke-width="1.0"/>
<line x1="402.3" y1="97.3" x2="404.3" y2="97.3" stroke="#000" stroke-width="1.0"/>
<line x1="402.3" y1="95.3" x2="404.3" y2="95.3" stroke="#000" stroke-width="1.0"/>
<line x1="402.3" y1="93.5" x2="406.3" y2="93.5" stroke="#000" stroke-width="1.2"/>
<line x1="402.3" y1="81.7" x2="404.3" y2="81.7" stroke="#000" stroke-width="1.0"/>
<line x1="402.3" y1="74.8" x2="404.3" y2="74.8" stroke="#000" stroke-width="1.0"/>
<line x1="402.3" y1="69.9" x2="404.3" y2="69.9" stroke="#000" stroke-width="1.0"/>
<line x1="402.3" y1="66.1" x2="404.3" y2="66.1" stroke="#000" stroke-width="1.0"/>
<line x1="402.3" y1="63" x2="404.3" y2="63" stroke="#000" stroke-width="1.0"/>
<line x1="402.3" y1="60.4" x2="404.3" y2="60.4" stroke="#000" stroke-width="1.0"/>
<line x1="402.3" y1="58.2" x2="404.3" y2="58.2" stroke="#000" stroke-width="1.0"/>
<line x1="402.3" y1="56.2" x2="404.3" y2="56.2" stroke="#000" stroke-width="1.0"/>
<line x1="402.3" y1="54.4" x2="406.3" y2="54.4" stroke="#000" stroke-width="1.2"/>
<line x1="402.3" y1="42.6" x2="404.3" y2="42.6" stroke="#000" stroke-width="1.0"/>
<line x1="402.3" y1="35.7" x2="404.3" y2="35.7" stroke="#000" stroke-width="1.0"/>
<line x1="402.3" y1="30.8" x2="404.3" y2="30.8" stroke="#000" stroke-width="1.0"/>
<line x1="402.3" y1="27" x2="404.3" y2="27" stroke="#000" stroke-width="1.0"/>
<line x1="402.3" y1="23.9" x2="404.3" y2="23.9" stroke="#000" stroke-width="1.0"/>
<line x1="402.3" y1="21.3" x2="404.3" y2="21.3" stroke="#000" stroke-width="1.0"/>
<line x1="402.3" y1="19" x2="404.3" y2="19" stroke="#000" stroke-width="1.0"/>
<line x1="402.3" y1="17" x2="404.3" y2="17" stroke="#000" stroke-width="1.0"/>
<line x1="402.3" y1="15.2" x2="406.3" y2="15.2" stroke="#000" stroke-width="1.2"/>
<text x="398.5" y="19.8" style="font-family:'Liberation Sans'" font-size="13" font-weight="bold" fill="#000" text-anchor="end">10</text>
<text x="398.5" y="59" style="font-family:'Liberation Sans'" font-size="13" font-weight="bold" fill="#000" text-anchor="end">1</text>
<text x="398.5" y="98.1" style="font-family:'Liberation Sans'" font-size="13" font-weight="bold" fill="#000" text-anchor="end">0.1</text>
<text x="398.5" y="137.3" style="font-family:'Liberation Sans'" font-size="13" font-weight="bold" fill="#000" text-anchor="end">0.01</text>
<text x="398.5" y="176.4" style="font-family:'Liberation Sans'" font-size="13" font-weight="bold" fill="#000" text-anchor="end">1E-3</text>
<text x="398.5" y="215.6" style="font-family:'Liberation Sans'" font-size="13" font-weight="bold" fill="#000" text-anchor="end">1E-4</text>
<text x="535.5" y="245" style="font-family:'Liberation Sans'" font-size="14" font-weight="bold" fill="#000" text-anchor="middle">Voltage (V)</text>
<text x="362.9" y="114.6" font-size="14" font-weight="bold" text-anchor="middle" transform="rotate(-90 362.9 114.6)">Current <tspan style="font-family:'Liberation Serif'" font-weight="normal" font-size="13">(μA)</tspan></text>
<text x="347.6" y="17" style="font-family:'Liberation Serif'" font-size="22" font-weight="normal" fill="#000" text-anchor="start">(b)</text>
<path d="M415.3,59 C414.7,57.3 412.3,52 411.5,49 C410.7,46 410.5,43.3 410.6,41 C410.7,38.7 411.4,36.5 412.3,35 C413.2,33.5 413.9,32.6 416,31.8 C418.1,31 423.5,30.3 425,30" stroke="#2222a0" stroke-width="1.8" fill="none" stroke-linejoin="round" stroke-linecap="round"/>
<path d="M425,30 L417.8,34.8 L416.5,28.4 Z" fill="#2222a0"/>
<text x="423.8" y="73.6" style="font-family:'Liberation Sans'" font-size="10.3" font-weight="bold" fill="#2222a0" text-anchor="middle">SET</text>
<text x="494.2" y="54.6" style="font-family:'Liberation Sans'" font-size="10.4" font-weight="bold" fill="#2222a0" text-anchor="middle">LRS</text>
<text x="462.8" y="120.8" style="font-family:'Liberation Sans'" font-size="10.4" font-weight="bold" fill="#2222a0" text-anchor="middle">HRS</text>
<text x="634.3" y="79.8" style="font-family:'Liberation Sans'" font-size="10.5" font-weight="bold" fill="#2222a0" text-anchor="middle">RESET</text>
<path d="M633.7,43.9 C636.1,44 644.1,43.6 648,44.5 C651.9,45.4 655.3,47.2 657,49 C658.7,50.8 658.5,52.8 658,55 C657.5,57.2 655.6,59.8 654,62 C652.4,64.2 649.4,67.2 648.5,68.2" stroke="#2222a0" stroke-width="1.7" fill="none" stroke-linejoin="round" stroke-linecap="round"/>
<path d="M648.5,68.2 L651.2,60.6 L655.7,64.6 Z" fill="#2222a0"/>
<line x1="504" y1="90" x2="504" y2="129" stroke="#2222a0" stroke-width="1.6"/>
<path d="M504,82.5 L506.2,89.5 L501.8,89.5 Z" fill="#2222a0"/>
<path d="M504,136 L501.8,129 L506.2,129 Z" fill="#2222a0"/>
<line x1="532" y1="108" x2="532" y2="136" stroke="#2222a0" stroke-width="1.6"/>
<path d="M532,101.5 L534.2,108.5 L529.8,108.5 Z" fill="#2222a0"/>
<path d="M532,143 L529.8,136 L534.2,136 Z" fill="#2222a0"/>
<line x1="480.3" y1="159.7" x2="499" y2="140.5" stroke="#2222a0" stroke-width="1.6"/>
<path d="M503.3,136.3 L500.2,143 L496.6,139.5 Z" fill="#2222a0"/>
<line x1="550.9" y1="173.6" x2="536" y2="149.5" stroke="#2222a0" stroke-width="1.6"/>
<path d="M532.8,145 L538.7,149.6 L534.4,152.3 Z" fill="#2222a0"/>
<text x="466" y="171.6" style="font-family:'Liberation Sans'" font-size="10.5" font-weight="bold" fill="#2222a0" text-anchor="middle">~22.42</text>
<text x="553" y="184.6" style="font-family:'Liberation Sans'" font-size="10.3" font-weight="bold" fill="#2222a0" text-anchor="middle">~11.12</text>
<line x1="548.6" y1="195.7" x2="572.7" y2="195.7" stroke="#000" stroke-width="1.6"/>
<circle cx="560.7" cy="195.7" r="2.4" stroke="#111" stroke-width="1.3" fill="#999"/>
<text x="576" y="200" font-size="11.6" font-weight="bold">Pt/ZnO/SiO<tspan font-size="8" dy="3">2-x</tspan><tspan dy="-3">/Pt</tspan></text>
<rect x="567.2" y="89.6" width="100.39999999999998" height="78.20000000000002" fill="#fff" stroke="#555" stroke-width="1.1"/>
<path d="M572.4,101.9 L572.9,99 L573.6,95.1 L574.4,93.1 L575.1,92.3 L575.9,91.9 L576.8,91.8 L577.5,92.2 L578.2,92.8 L578.9,93.6 L579.7,94.7 L580.5,96 L581.2,97.2 L581.9,98.4 L582.6,99.8 L583.4,101.3 L584.1,102.9 L584.8,104.7 L585.5,106.6 L586.2,108.6 L586.9,110.7 L587.6,112.9 L588.3,115.1 L589,117.2 L589.6,119.4 L590.3,121.6 L591,123.8 L591.7,126 L592.4,128.1 L593,130.2 L593.7,132.3 L594.3,134.3 L594.9,136.3 L595.6,138.1 L596.2,139.9 L596.9,141.7 L597.5,143.3 L598.2,144.9 L598.8,146.3 L599.3,147.5 L600,149 L600.6,150.2 L601.2,151.3 L601.7,152.3 L602.4,153.6 L603,154.7 L603.5,155.5 L603.6,155.7" stroke="#111" stroke-width="1.0" fill="none" stroke-linejoin="round" stroke-linecap="round"/>
<path d="M604.1,159.8 L604.6,160.2 L605.3,160.7 L605.9,161.2 L606.5,161.7 L607,162.1 L607.6,162.6 L608,163.1 L608.5,163.5 L608.9,163.9 L609.3,164.2 L609.8,164.6 L610.1,164.8 L610.4,165.1 L610.6,165.3 L610.7,165.7 L610.8,165.8 L611,166 L611.1,166.2 L611.2,166.3 L611.3,166.5 L611.5,166.6 L611.6,166.8 L611.7,166.9 L611.7,166.9 L611.8,167 L611.8,167.1 L611.9,167.1 L611.9,167.2 L611.9,167.2 L612,167.3 L612,167.3 L612,167.3 L612,167.4 L612.1,167.4 L612.1,167.4 L612.1,167.4 L612.1,167.5 L612.2,167.5 L612.2,167.5 L612.2,167.5 L612.2,167.5 L612.2,167.5 L612.3,167.5 L612.3,167.5 L612.3,167.5 L612.3,167.6 L612.3,167.6 L612.4,167.6 L612.4,167.6 L612.4,167.6 L612.4,167.6 L612.4,167.6 L612.4,167.6 L612.4,167.6 L612.5,167.6 L612.5,167.6 L612.5,167.6 L612.5,167.6 L612.5,167.6 L612.5,167.6 L612.5,167.6 L612.5,167.6 L612.6,167.6 L612.6,167.6 L612.6,167.6 L612.6,167.6 L612.6,167.6" stroke="#111" stroke-width="1.0" fill="none" stroke-linejoin="round" stroke-linecap="round"/>
<path d="M572.4,101.9 L572.8,105.4 L573.3,110.1 L574,114.9 L574.6,118.2 L575.2,121.2 L575.9,124.1 L576.5,126.8 L577.2,129.4 L577.8,131.6 L578.4,133.8 L579,135.8 L579.7,137.7 L580.3,139.4 L581,141.2 L581.7,142.9 L582.4,144.5 L583.1,145.8 L583.5,146.6" stroke="#111" stroke-width="1.0" fill="none" stroke-linejoin="round" stroke-linecap="round"/>
<path d="M584.3,156.1 L584.6,156.6 L585.1,157.3 L585.7,158.1 L586.4,158.9 L587,159.6 L587.6,160.3 L588.2,160.8 L588.8,161.3 L589.4,161.8 L590,162.2 L590.6,162.6 L591.2,162.9 L591.7,163.3 L592.3,163.6 L592.9,163.9 L593.4,164.2 L594,164.5 L594.5,164.7 L595.2,164.9 L595.9,165.1 L596.6,165.2 L596.9,165.2" stroke="#111" stroke-width="1.0" fill="none" stroke-linejoin="round" stroke-linecap="round"/>
<path d="M597.2,166.4 L597.5,166.5 L598,166.5 L598.6,166.6 L599.2,166.7 L599.8,166.8 L600.4,166.9 L600.9,166.9 L601.4,167 L601.9,167 L602.5,167.1 L603,167.1 L603.5,167.2 L604,167.2 L604.4,167.2 L605.1,167.3 L605.6,167.3 L606.2,167.3 L606.6,167.3 L607,167.4 L607.3,167.4 L607.6,167.4 L607.8,167.4 L608,167.4 L608.2,167.5 L608.5,167.5 L608.9,167.5 L609.4,167.5 L609.7,167.5 L610,167.5 L610.3,167.5 L610.5,167.5 L610.7,167.5 L610.8,167.5 L610.9,167.5 L611.1,167.6 L611.3,167.6 L611.4,167.6 L611.4,167.6 L611.5,167.6 L611.6,167.6 L611.7,167.6 L611.8,167.6 L611.9,167.6 L611.9,167.6 L612,167.6 L612.1,167.6 L612.2,167.6 L612.3,167.6 L612.4,167.6 L612.4,167.6 L612.5,167.6 L612.5,167.6 L612.6,167.6 L612.7,167.6 L612.6,167.6 L612.6,167.6" stroke="#111" stroke-width="1.0" fill="none" stroke-linejoin="round" stroke-linecap="round"/>
<path d="M612.6,167.6 L612.6,167.6 L612.6,167.6 L612.7,167.6 L612.7,167.6 L612.8,167.6 L612.9,167.6 L612.9,167.6 L613,167.6 L613,167.6 L613.1,167.6 L613.2,167.6 L613.2,167.6 L613.3,167.6 L613.3,167.6 L613.3,167.6 L613.4,167.6 L613.4,167.6 L613.4,167.6 L613.4,167.6 L613.4,167.6 L613.4,167.6 L613.4,167.5 L613.4,167.5 L613.4,167.5 L613.5,167.5 L613.5,167.5 L613.5,167.5 L613.5,167.5 L613.6,167.5 L613.7,167.5 L613.7,167.5 L613.8,167.4 L613.8,167.4 L613.9,167.4 L614,167.4 L614.1,167.3 L614.1,167.3 L614.2,167.3 L614.3,167.2 L614.5,167.2 L614.7,167.1 L615,167.1 L615.2,167 L615.4,166.9 L615.6,166.9 L615.8,166.8 L616,166.7 L616.2,166.6 L616.4,166.5 L616.7,166.3 L617,166.2 L617.3,166 L617.6,165.8 L617.9,165.6 L618.3,165.3 L618.6,165.1 L618.9,164.7 L619.2,164.4 L619.5,164 L619.9,163.6 L620.3,163.1 L620.7,162.6 L621.1,162.1 L621.5,161.5 L621.9,160.8 L622.3,160.1 L622.7,159.3 L623.1,158.4 L623.5,157.4 L624,156.4 L624.5,155.3 L625.2,154.2 L625.5,153.7" stroke="#111" stroke-width="1.0" fill="none" stroke-linejoin="round" stroke-linecap="round"/>
<path d="M626.5,155.2 L626.9,154.4 L627.6,153.2 L628.2,152.1 L628.8,151.1 L629.4,150 L630.1,148.9 L630.7,148 L631.4,147.1 L632.1,146.2 L632.9,145.3 L633.5,144.5 L634.2,143.6 L635,142.9 L635.7,142.1 L636.4,141.5 L637.2,140.9 L637.9,140.4 L638.7,140 L639.4,139.6 L640.1,139.3 L640.7,139 L641.4,138.9 L642.2,138.7 L642.9,138.5 L643.6,138.3 L644.2,138.2 L645,138 L645.7,137.9 L646.5,137.8 L647.4,137.6 L648.1,137.5 L648.8,137.4 L649.5,137.3 L650.2,137.2 L651,137.1 L651.7,137 L652.5,136.9 L653.3,136.9 L654,136.8 L654.8,136.7 L655.5,136.7 L656.3,136.6 L657.1,136.6 L657.9,136.5 L658.8,136.5 L659.6,136.5 L660.4,136.5 L661.2,136.5 L661.8,136.5 L662.4,136.5 L662.8,136.5" stroke="#111" stroke-width="1.0" fill="none" stroke-linejoin="round" stroke-linecap="round"/>
<path d="M612.6,167.6 L612.6,167.6 L612.7,167.6 L612.8,167.6 L612.8,167.6 L612.9,167.6 L613,167.6 L613.1,167.6 L613.2,167.6 L613.3,167.6 L613.4,167.6 L613.4,167.6 L613.5,167.6 L613.7,167.6 L613.8,167.6 L613.9,167.6 L614.1,167.6 L614.2,167.6 L614.3,167.6 L614.6,167.6 L615.4,167.6 L615.6,167.6 L615.7,167.6 L615.8,167.5 L615.9,167.5 L616,167.5 L616.1,167.5 L616.2,167.5 L616.3,167.5 L616.6,167.5 L616.9,167.5 L617.2,167.5 L617.4,167.4 L617.6,167.4 L617.8,167.4 L618,167.4 L618.2,167.4 L618.4,167.3 L618.6,167.3 L618.8,167.2 L618.9,167.2 L619.1,167.1 L619.2,167.1 L619.4,167 L619.5,167 L619.7,166.9 L620,166.8 L620.2,166.7 L620.4,166.6 L620.6,166.5 L620.9,166.3 L621.3,166.2 L621.5,166.1 L621.8,165.9 L622.1,165.6 L622.4,165.4 L622.7,165.1 L623.1,164.9 L623.4,164.6 L623.8,164.2 L624.2,163.8 L624.6,163.4 L624.9,163 L625.3,162.5 L625.7,161.9 L626.1,161.3 L626.6,160.7 L627,160 L627.5,159.3 L628.1,158.6 L628.7,157.9 L629.2,157.2 L629.9,156.2 L630.5,155.3 L630.5,155.2" stroke="#111" stroke-width="1.0" fill="none" stroke-linejoin="round" stroke-linecap="round"/>
<path d="M631.5,157 L632,156.5 L632.8,155.9 L633.6,155.2 L634.3,154.7 L635,154.1 L635.8,153.6 L636.5,153.1 L637.2,152.6 L637.9,152.1 L638.6,151.6 L639.4,151.1 L640,150.5 L640.7,149.9 L641.4,149.3 L642.2,148.7 L642.9,148.4 L643.6,148.2 L644.2,147.9 L645,147.7 L645.7,147.5 L646.5,147.3 L647.4,147 L648.1,146.7 L648.8,146.5 L649.5,146.2 L650.2,145.9 L651,145.6 L651.7,145.3 L652.5,144.9 L653.3,144.6 L654,144.2 L654.8,143.8 L655.5,143.4 L656.3,143 L657.1,142.5 L657.9,141.9 L658.8,141.3 L659.6,140.7 L660.4,140.1 L661.2,139.6 L661.8,139 L662.4,138.6 L662.8,138.3" stroke="#111" stroke-width="1.0" fill="none" stroke-linejoin="round" stroke-linecap="round"/>
<path d="M572.4,101.9h0M573.4,96.1h0M574.4,93.1h0M575.5,92h0M576.5,91.8h0M577.5,92.2h0M578.4,93h0M579.5,94.4h0M580.5,96h0M581.5,97.8h0M582.4,99.5h0M583.5,101.7h0M584.4,103.8h0M585.5,106.6h0M586.4,109.1h0M587.4,112.3h0M588.5,115.6h0M589.5,118.8h0M590.5,122.1h0M591.5,125.4h0M592.5,128.6h0M593.5,131.8h0M594.5,134.8h0M595.4,137.7h0M596.4,140.3h0M597.5,143.3h0M598.5,145.6h0M599.5,147.8h0M600.5,149.9h0M601.5,151.8h0M602.4,153.6h0M603.4,155.4h0M604.1,159.8h0M605.3,160.7h0M606.2,161.5h0M607.2,162.3h0M608.1,163.2h0M609.1,164.1h0M610.1,164.8h0M611.1,166.2h0M612.1,167.4h0M572.4,101.9h0M573.5,111.3h0M574.5,117.5h0M575.4,121.9h0M576.5,126.8h0M577.5,130.5h0M578.4,133.8h0M579.5,137.2h0M580.5,139.9h0M581.5,142.5h0M582.4,144.5h0M583.4,146.4h0M584.3,156.1h0M585.3,157.5h0M586.4,158.9h0M587.3,159.9h0M588.4,160.9h0M589.3,161.7h0M590.3,162.4h0M591.3,163h0M592.3,163.6h0M593.3,164.2h0M594.3,164.6h0M595.4,164.9h0M596.3,165.1h0M597.2,166.4h0M598.3,166.6h0M599.3,166.7h0M600.2,166.9h0M601.3,167h0M602.3,167.1h0M603.2,167.2h0M604.3,167.2h0M605.2,167.3h0M606.3,167.3h0M607.2,167.4h0M608.2,167.5h0M609.3,167.5h0M610.2,167.5h0M611.2,167.6h0M612.2,167.6h0M612.6,167.6h0M613.6,167.5h0M614.6,167.1h0M615.6,166.9h0M616.6,166.3h0M617.6,165.8h0M618.6,165.1h0M619.6,163.9h0M620.6,162.8h0M621.7,161.2h0M622.7,159.3h0M623.7,157.1h0M624.7,155h0M626.5,155.2h0M627.6,153.2h0M628.6,151.3h0M629.6,149.7h0M630.6,148.3h0M631.6,146.9h0M632.5,145.7h0M633.5,144.5h0M634.6,143.2h0M635.5,142.3h0M636.6,141.3h0M637.5,140.7h0M638.7,140h0M639.6,139.5h0M640.6,139.1h0M641.6,138.8h0M642.5,138.6h0M643.6,138.3h0M644.6,138.1h0M645.5,137.9h0M646.5,137.8h0M647.6,137.6h0M648.6,137.4h0M649.5,137.3h0M650.6,137.2h0M651.5,137.1h0M652.5,136.9h0M653.6,136.8h0M654.6,136.7h0M655.5,136.7h0M656.5,136.6h0M657.5,136.6h0M658.6,136.5h0M659.6,136.5h0M660.6,136.5h0M661.5,136.5h0M662.5,136.5h0M612.6,167.6h0M613.6,167.6h0M614.6,167.6h0M615.6,167.6h0M616.6,167.5h0M617.6,167.4h0M618.6,167.3h0M619.6,166.9h0M620.6,166.5h0M621.6,166h0M622.7,165.2h0M623.6,164.4h0M624.6,163.3h0M625.6,162.1h0M626.7,160.5h0M627.7,159.2h0M628.7,157.9h0M629.7,156.5h0M631.5,157h0M632.6,156h0M633.6,155.2h0M634.7,154.4h0M635.6,153.8h0M636.5,153.1h0M637.6,152.4h0M638.6,151.6h0M639.6,151h0M640.5,150.1h0M641.6,149.2h0M642.6,148.5h0M643.6,148.2h0M644.6,147.8h0M645.5,147.6h0M646.5,147.3h0M647.6,146.9h0M648.6,146.5h0M649.5,146.2h0M650.6,145.8h0M651.5,145.4h0M652.7,144.8h0M653.6,144.4h0M654.6,143.9h0M655.5,143.4h0M656.7,142.7h0M657.5,142.2h0M658.6,141.5h0M659.6,140.7h0M660.6,140h0M661.5,139.3h0M662.5,138.5h0" fill="none" stroke="#1a1a1a" stroke-width="3.3" stroke-linecap="round"/>
<path d="M572.1,101.6h0M573.1,95.8h0M574.1,92.8h0M575.2,91.7h0M576.2,91.5h0M577.2,91.9h0M578.1,92.7h0M579.2,94.1h0M580.2,95.7h0M581.2,97.5h0M582.1,99.2h0M583.2,101.4h0M584.1,103.5h0M585.2,106.3h0M586.1,108.8h0M587.1,112h0M588.2,115.3h0M589.2,118.5h0M590.2,121.8h0M591.2,125.1h0M592.2,128.3h0M593.2,131.5h0M594.2,134.5h0M595.1,137.4h0M596.1,140h0M597.2,143h0M598.2,145.3h0M599.2,147.5h0M600.2,149.6h0M601.2,151.5h0M602.1,153.3h0M603.1,155.1h0M603.8,159.5h0M605,160.4h0M605.9,161.2h0M606.9,162h0M607.8,162.9h0M608.8,163.8h0M609.8,164.5h0M610.8,165.9h0M611.8,167.1h0M572.1,101.6h0M573.2,111h0M574.2,117.2h0M575.1,121.6h0M576.2,126.5h0M577.2,130.2h0M578.1,133.5h0M579.2,136.9h0M580.2,139.6h0M581.2,142.2h0M582.1,144.2h0M583.1,146.1h0M584,155.8h0M585,157.2h0M586.1,158.6h0M587,159.6h0M588.1,160.6h0M589,161.4h0M590,162.1h0M591,162.7h0M592,163.3h0M593,163.9h0M594,164.3h0M595.1,164.6h0M596,164.8h0M596.9,166.1h0M598,166.3h0M599,166.4h0M599.9,166.6h0M601,166.7h0M602,166.8h0M602.9,166.9h0M604,166.9h0M604.9,167h0M606,167h0M606.9,167.1h0M607.9,167.2h0M609,167.2h0M609.9,167.2h0M610.9,167.3h0M611.9,167.3h0M612.3,167.3h0M613.3,167.2h0M614.3,166.8h0M615.3,166.6h0M616.3,166h0M617.3,165.5h0M618.3,164.8h0M619.3,163.6h0M620.3,162.5h0M621.4,160.9h0M622.4,159h0M623.4,156.8h0M624.4,154.7h0M626.2,154.9h0M627.3,152.9h0M628.3,151h0M629.3,149.4h0M630.3,148h0M631.3,146.6h0M632.2,145.4h0M633.2,144.2h0M634.3,142.9h0M635.2,142h0M636.3,141h0M637.2,140.4h0M638.4,139.7h0M639.3,139.2h0M640.3,138.8h0M641.3,138.5h0M642.2,138.3h0M643.3,138h0M644.3,137.8h0M645.2,137.6h0M646.2,137.5h0M647.3,137.3h0M648.3,137.1h0M649.2,137h0M650.3,136.9h0M651.2,136.8h0M652.2,136.6h0M653.3,136.5h0M654.3,136.4h0M655.2,136.4h0M656.2,136.3h0M657.2,136.3h0M658.3,136.2h0M659.3,136.2h0M660.3,136.2h0M661.2,136.2h0M662.2,136.2h0M612.3,167.3h0M613.3,167.3h0M614.3,167.3h0M615.3,167.3h0M616.3,167.2h0M617.3,167.1h0M618.3,167h0M619.3,166.6h0M620.3,166.2h0M621.3,165.7h0M622.4,164.9h0M623.3,164.1h0M624.3,163h0M625.3,161.8h0M626.4,160.2h0M627.4,158.9h0M628.4,157.6h0M629.4,156.2h0M631.2,156.7h0M632.3,155.7h0M633.3,154.9h0M634.4,154.1h0M635.3,153.5h0M636.2,152.8h0M637.3,152.1h0M638.3,151.3h0M639.3,150.7h0M640.2,149.8h0M641.3,148.9h0M642.3,148.2h0M643.3,147.9h0M644.3,147.5h0M645.2,147.3h0M646.2,147h0M647.3,146.6h0M648.3,146.2h0M649.2,145.9h0M650.3,145.5h0M651.2,145.1h0M652.4,144.5h0M653.3,144.1h0M654.3,143.6h0M655.2,143.1h0M656.4,142.4h0M657.2,141.9h0M658.3,141.2h0M659.3,140.4h0M660.3,139.7h0M661.2,139h0M662.2,138.2h0" fill="none" stroke="#bbb" stroke-width="1.0" stroke-linecap="round"/>
<line x1="572.4" y1="167.8" x2="572.4" y2="165.3" stroke="#333" stroke-width="0.9"/>
<text x="572.4" y="176.5" style="font-family:'Liberation Sans'" font-size="8.5" font-weight="bold" fill="#222" text-anchor="middle">-2</text>
<line x1="592.4" y1="167.8" x2="592.4" y2="165.3" stroke="#333" stroke-width="0.9"/>
<text x="592.4" y="176.5" style="font-family:'Liberation Sans'" font-size="8.5" font-weight="bold" fill="#222" text-anchor="middle">-1</text>
<line x1="612.4" y1="167.8" x2="612.4" y2="165.3" stroke="#333" stroke-width="0.9"/>
<text x="612.4" y="176.5" style="font-family:'Liberation Sans'" font-size="8.5" font-weight="bold" fill="#222" text-anchor="middle">0</text>
<line x1="632.4" y1="167.8" x2="632.4" y2="165.3" stroke="#333" stroke-width="0.9"/>
<text x="632.4" y="176.5" style="font-family:'Liberation Sans'" font-size="8.5" font-weight="bold" fill="#222" text-anchor="middle">1</text>
<line x1="652.4" y1="167.8" x2="652.4" y2="165.3" stroke="#333" stroke-width="0.9"/>
<text x="652.4" y="176.5" style="font-family:'Liberation Sans'" font-size="8.5" font-weight="bold" fill="#222" text-anchor="middle">2</text>
<line x1="567.2" y1="154.6" x2="569.7" y2="154.6" stroke="#333" stroke-width="0.9"/>
<text x="565.5" y="157.7" style="font-family:'Liberation Sans'" font-size="8.5" font-weight="bold" fill="#222" text-anchor="end">0.5</text>
<line x1="567.2" y1="141.6" x2="569.7" y2="141.6" stroke="#333" stroke-width="0.9"/>
<text x="565.5" y="144.7" style="font-family:'Liberation Sans'" font-size="8.5" font-weight="bold" fill="#222" text-anchor="end">1.0</text>
<line x1="567.2" y1="128.6" x2="569.7" y2="128.6" stroke="#333" stroke-width="0.9"/>
<text x="565.5" y="131.7" style="font-family:'Liberation Sans'" font-size="8.5" font-weight="bold" fill="#222" text-anchor="end">1.5</text>
<line x1="567.2" y1="115.6" x2="569.7" y2="115.6" stroke="#333" stroke-width="0.9"/>
<text x="565.5" y="118.7" style="font-family:'Liberation Sans'" font-size="8.5" font-weight="bold" fill="#222" text-anchor="end">2.0</text>
<line x1="567.2" y1="102.6" x2="569.7" y2="102.6" stroke="#333" stroke-width="0.9"/>
<text x="565.5" y="105.7" style="font-family:'Liberation Sans'" font-size="8.5" font-weight="bold" fill="#222" text-anchor="end">2.5</text>
<text x="565.5" y="92.7" style="font-family:'Liberation Sans'" font-size="8.5" font-weight="bold" fill="#222" text-anchor="end">3.0</text>
<text x="616.8" y="184.3" style="font-family:'Liberation Sans'" font-size="7.7" font-weight="bold" fill="#222" text-anchor="middle">Voltage (V)</text>
<text x="551.5" y="131.7" style="font-family:'Liberation Sans'" font-size="7.7" font-weight="bold" fill="#222" text-anchor="middle" transform="rotate(-90 551.5 131.7)">|Current (uA)|</text>
<path d="M568.6,95.3 C569.3,94.8 571.1,93 573,92.5 C574.9,92 577.9,91.8 580,92 C582.1,92.2 584,92.9 585.5,94 C587,95.1 588.7,97.8 589.3,98.6" stroke="#2222a0" stroke-width="1.3" fill="none" stroke-linejoin="round" stroke-linecap="round"/>
<path d="M589.3,98.6 L585,96.3 L587.9,93.9 Z" fill="#2222a0"/>
<text x="594" y="106.8" style="font-family:'Liberation Sans'" font-size="7.2" font-weight="bold" fill="#2222a0" text-anchor="middle">SET</text>
<path d="M660.5,132.6 C661.1,133.2 663.3,134.6 664,136 C664.7,137.4 664.8,139.5 664.5,141 C664.2,142.5 663,144.1 662,145 C661,145.9 659.1,146.2 658.5,146.5" stroke="#2222a0" stroke-width="1.3" fill="none" stroke-linejoin="round" stroke-linecap="round"/>
<path d="M658.5,146.5 L661.5,143.3 L662.9,146.5 Z" fill="#2222a0"/>
<text x="654" y="159.9" style="font-family:'Liberation Sans'" font-size="7.4" font-weight="bold" fill="#2222a0" text-anchor="middle">RESET</text>
<path d="M144.5,372 L144.9,374 L145.5,376.9 L146.1,380.3 L146.9,383.7 L147.6,386.9 L148.6,389.9 L149.9,392.9 L151.4,395.6 L152.8,398 L154.2,400.7 L155.7,403.4 L156.9,406.1 L158,408.9 L158.9,411.6 L159.8,414.7 L160.7,418 L161.3,420.8 L161.8,423.7 L162.4,426.8 L162.9,429.9 L163.5,433 L164,435.8 L164.5,438.3 L165,441 L165.4,444.1 L165.9,448 L166.1,450.6 L166.4,453.6 L166.6,456.9 L166.9,460.5 L167.1,464 L167.3,467.5 L167.6,470.7 L167.7,473.6 L167.9,475.9 L168,477" stroke="#ff3030" stroke-width="1.0" fill="none" stroke-linejoin="round" stroke-linecap="round"/>
<path d="M144.5,372h0M145.7,378h0M147,384.3h0M148.8,390.4h0M151.2,395.2h0M153.5,399.2h0M155.9,403.8h0M158.2,409.3h0M160,415.2h0M161.4,421.2h0M162.5,427.3h0M163.6,433.5h0M164.7,439.6h0M165.6,445.9h0M166.2,452h0M166.7,458.1h0M167.1,464.6h0M167.6,470.7h0M168,476.8h0" fill="none" stroke="#ff3030" stroke-width="3.3" stroke-linecap="round"/>
<path d="M144.5,372 L146.3,373.7 L148.8,376.1 L150.9,378.6 L152.7,381 L154.6,383.7 L156.2,386.4 L157.7,389 L159,391.6 L160.2,394.5 L161.3,397.3 L162.2,399.8 L163,402.5 L163.8,405.5 L164.6,409 L165.1,411.4 L165.5,413.7 L166,416.2 L166.4,419 L166.9,422.1 L167.3,425.7 L167.8,430 L168,432.4 L168.3,435.2 L168.6,438.2 L168.8,441.5 L169.1,445 L169.4,448.5 L169.7,452.1 L169.9,455.7 L170.2,459.1 L170.4,462.5 L170.7,465.6 L170.9,468.4 L171.1,470.8 L171.2,472.9 L171.3,474" stroke="#ff3030" stroke-width="1.0" fill="none" stroke-linejoin="round" stroke-linecap="round"/>
<path d="M144.5,372h0M147.1,374.4h0M149.6,377h0M152.1,380.2h0M154.6,383.7h0M157,387.7h0M159.2,392.1h0M161.4,397.7h0M163.3,403.5h0M164.7,409.4h0M165.8,415.4h0M166.8,421.5h0M167.6,427.8h0M168.2,433.8h0M168.7,439.9h0M169.2,446.2h0M169.7,452.7h0M170.2,459.1h0M170.7,465.6h0M171.1,471.6h0" fill="none" stroke="#ff3030" stroke-width="3.3" stroke-linecap="round"/>
<path d="M62.1,291.4 L63.8,292.4 L66.1,293.7 L68.8,295.3 L71.8,297 L74.8,298.8 L77.7,300.5 L80.4,302.1 L83.1,303.8 L85.7,305.5 L88.3,307.2 L90.9,308.8 L93.4,310.4 L95.9,311.8 L99,313.3 L102.1,314.6 L105.1,315.9 L107.8,317.1 L109.9,318.6 L111.6,321.2 L112.1,324.3 L112.5,327.4 L113.8,330 L115.8,331.9 L118.3,333.6 L121.3,335.8 L123.4,337.5 L125.7,339.4 L128.2,341.4 L130.7,343.4 L133.2,345.4 L135.7,347.2 L138.3,349 L140.9,350.8 L143.5,352.5 L145.8,354.1 L148.1,355.9 L150.5,358 L152.6,360 L154.4,362.2 L156.3,364.6 L158.1,367.2 L159.7,369.9 L161.3,372.6 L162.8,375.3 L164.3,377.7 L165.6,380.3 L166.7,383.5 L167.3,385.9 L167.8,388.4 L168.2,391.2 L168.6,394.4 L169,398 L169.3,401.2 L169.5,403.7 L169.7,406.3 L169.8,409 L170,411.8 L170.1,414.8 L170.2,417.9 L170.3,421.2 L170.4,424.6 L170.5,428.2 L170.6,431.3 L170.7,434.1 L170.8,437.2 L170.8,440.5 L170.9,443.9 L170.9,447.4 L171,450.9 L171,454.5 L171.1,457.9 L171.1,461.2 L171.2,464.3 L171.2,467.2 L171.2,469.7 L171.3,471.9 L171.3,473.7 L171.3,474" stroke="#666" stroke-width="1.0" fill="none" stroke-linejoin="round" stroke-linecap="round"/>
<path d="M62.1,291.4h0M64.9,293h0M67.4,294.5h0M70.3,296.2h0M72.8,297.6h0M75.3,299.1h0M77.7,300.5h0M80.4,302.1h0M83.1,303.8h0M85.7,305.5h0M88.3,307.2h0M90.9,308.8h0M93.4,310.4h0M95.9,311.8h0M98.4,313.1h0M101.1,314.2h0M103.6,315.2h0M106,316.3h0M108.6,317.6h0M111.2,320.2h0M112.3,326.4h0M114.7,331h0M117.5,333.1h0M120.3,335h0M123,337.2h0M125.7,339.4h0M128.2,341.4h0M130.7,343.4h0M133.2,345.4h0M135.7,347.2h0M138.3,349h0M140.9,350.8h0M143.5,352.5h0M146.2,354.4h0M148.9,356.6h0M151.6,359h0M154.1,361.8h0M156.6,365h0M159.2,369h0M161.8,373.5h0M164.3,377.7h0M166.7,383.5h0M168,389.8h0M168.8,396.1h0M169.4,402.4h0M169.8,408.5h0M170.1,414.8h0M170.3,421.2h0M170.5,427.6h0M170.7,433.6h0M170.8,439.9h0M170.9,446.2h0M171,452.7h0M171.1,459h0M171.2,465.3h0M171.3,471.6h0" fill="none" stroke="#6a6a6a" stroke-width="3.4" stroke-linecap="round"/>
<path d="M62.1,291.4h0M64.9,293h0M67.4,294.5h0M70.3,296.2h0M72.8,297.6h0M75.3,299.1h0M77.7,300.5h0M80.4,302.1h0M83.1,303.8h0M85.7,305.5h0M88.3,307.2h0M90.9,308.8h0M93.4,310.4h0M95.9,311.8h0M98.4,313.1h0M101.1,314.2h0M103.6,315.2h0M106,316.3h0M108.6,317.6h0M111.2,320.2h0M112.3,326.4h0M114.7,331h0M117.5,333.1h0M120.3,335h0M123,337.2h0M125.7,339.4h0M128.2,341.4h0M130.7,343.4h0M133.2,345.4h0M135.7,347.2h0M138.3,349h0M140.9,350.8h0M143.5,352.5h0M146.2,354.4h0M148.9,356.6h0M151.6,359h0M154.1,361.8h0M156.6,365h0M159.2,369h0M161.8,373.5h0M164.3,377.7h0M166.7,383.5h0M168,389.8h0M168.8,396.1h0M169.4,402.4h0M169.8,408.5h0M170.1,414.8h0M170.3,421.2h0M170.5,427.6h0M170.7,433.6h0M170.8,439.9h0M170.9,446.2h0M171,452.7h0M171.1,459h0M171.2,465.3h0M171.3,471.6h0" fill="none" stroke="#b0b0b0" stroke-width="1.3" stroke-linecap="round"/>
<path d="M62.1,285.6 L64,285.8 L66.5,286.1 L69.5,286.5 L72.9,286.9 L76.3,287.3 L79.8,287.8 L83.1,288.4 L86.1,289 L89.2,289.8 L92.1,290.6 L95,291.5 L97.9,292.4 L100.7,293.4 L103.6,294.5 L106.5,295.6 L109.2,296.7 L112,297.9 L114.8,299.1 L117.6,300.3 L120.4,301.6 L123.1,303 L125.9,304.4 L128.7,305.8 L131.6,307.3 L134.6,308.9 L137.6,310.5 L140.5,312.1 L143.1,313.6 L145.4,314.9 L147.8,316.4 L150.7,318.7 L152.2,320.6 L154.2,322.7 L156.1,325 L158.1,327.9 L159.4,330.5 L160.7,333.5 L162,336.5 L163.1,339.3 L164.4,342.2 L165.6,344.7 L166.6,347.6 L167.4,349.3 L168.2,350.8 L168.9,354.3 L169.2,359.4 L169.3,361.4 L169.4,363.7 L169.4,366.1 L169.5,368.7 L169.5,371.5 L169.6,374.4 L169.6,377.4 L169.6,380.6 L169.6,383.8 L169.7,387.1 L169.7,390.5 L169.7,393.9 L169.7,397.4 L169.8,400.8 L169.8,404.3 L169.9,407.7 L169.9,410.9 L170,413.8 L170,416.8 L170.1,419.9 L170.2,423.2 L170.2,426.6 L170.3,430 L170.4,433.5 L170.5,437 L170.5,440.6 L170.6,444 L170.7,447.5 L170.8,450.9 L170.8,454.1 L170.9,457.3 L171,460.3 L171.1,463.1 L171.1,465.8 L171.2,468.2 L171.2,470.4 L171.3,472.3 L171.3,474" stroke="#666" stroke-width="1.0" fill="none" stroke-linejoin="round" stroke-linecap="round"/>
<path d="M62.1,285.6h0M64.8,285.9h0M67.5,286.2h0M70.1,286.5h0M72.9,286.9h0M75.8,287.3h0M78.7,287.7h0M81.5,288.1h0M84.1,288.6h0M86.6,289.1h0M89.2,289.8h0M91.7,290.4h0M94.1,291.2h0M96.9,292.1h0M99.8,293.1h0M102.6,294.1h0M105.5,295.2h0M108.3,296.3h0M111.1,297.5h0M113.9,298.7h0M116.7,299.9h0M119.4,301.2h0M122.2,302.5h0M125,303.9h0M127.8,305.3h0M130.6,306.8h0M133.1,308.1h0M135.6,309.4h0M138.1,310.8h0M140.9,312.3h0M143.5,313.8h0M146.1,315.3h0M148.5,316.9h0M151,319h0M153.5,322h0M156.1,325h0M158.7,329.1h0M161.1,334.5h0M163.5,340.3h0M166.1,346.1h0M168.4,351.6h0M169.2,358.8h0M169.4,364.9h0M169.5,371h0M169.6,377.4h0M169.6,383.8h0M169.7,389.9h0M169.7,396.2h0M169.8,402.6h0M169.9,408.9h0M170,415.3h0M170.1,421.6h0M170.3,427.7h0M170.4,434.1h0M170.5,440.6h0M170.7,446.9h0M170.8,453h0M171,459.3h0M171.1,465.4h0M171.2,471.4h0" fill="none" stroke="#6a6a6a" stroke-width="3.4" stroke-linecap="round"/>
<path d="M62.1,285.6h0M64.8,285.9h0M67.5,286.2h0M70.1,286.5h0M72.9,286.9h0M75.8,287.3h0M78.7,287.7h0M81.5,288.1h0M84.1,288.6h0M86.6,289.1h0M89.2,289.8h0M91.7,290.4h0M94.1,291.2h0M96.9,292.1h0M99.8,293.1h0M102.6,294.1h0M105.5,295.2h0M108.3,296.3h0M111.1,297.5h0M113.9,298.7h0M116.7,299.9h0M119.4,301.2h0M122.2,302.5h0M125,303.9h0M127.8,305.3h0M130.6,306.8h0M133.1,308.1h0M135.6,309.4h0M138.1,310.8h0M140.9,312.3h0M143.5,313.8h0M146.1,315.3h0M148.5,316.9h0M151,319h0M153.5,322h0M156.1,325h0M158.7,329.1h0M161.1,334.5h0M163.5,340.3h0M166.1,346.1h0M168.4,351.6h0M169.2,358.8h0M169.4,364.9h0M169.5,371h0M169.6,377.4h0M169.6,383.8h0M169.7,389.9h0M169.7,396.2h0M169.8,402.6h0M169.9,408.9h0M170,415.3h0M170.1,421.6h0M170.3,427.7h0M170.4,434.1h0M170.5,440.6h0M170.7,446.9h0M170.8,453h0M171,459.3h0M171.1,465.4h0M171.2,471.4h0" fill="none" stroke="#b0b0b0" stroke-width="1.3" stroke-linecap="round"/>
<path d="M117,344.3 L119.1,345 L122.2,345.9 L125.5,347.2 L128.2,348.7 L130.7,350.5 L133,352.6 L135.3,354.7 L137.4,356.9 L139.5,359.2 L141.4,361.5 L143.2,364 L144.8,366.5 L146.3,369.1 L147.7,371.8 L149.1,374.5 L150.5,377.2 L151.9,380 L153.3,382.8 L154.7,385.5 L156.1,388.4 L157.5,391.2 L158.8,393.8 L160.3,396.6 L161.6,399.2 L162.9,402.1 L163.9,404.7 L164.8,407.6 L165.7,410.7 L166.4,413.9 L167,416.7 L167.6,419.7 L168.1,422.8 L168.7,426 L169.2,429 L169.7,431.6 L170.2,434.2 L170.7,437 L171.1,440.3 L171.5,443.8 L171.7,446.5 L172,449.7 L172.2,453.1 L172.5,456.6 L172.7,460.2 L173,463.6 L173.2,466.7 L173.3,469.4 L173.5,471.4 L173.5,472" stroke="#6060ff" stroke-width="1.0" fill="none" stroke-linejoin="round" stroke-linecap="round"/>
<path d="M117,344.3h0M119.6,345.1h0M122.2,345.9h0M124.4,346.7h0M127,347.9h0M129.5,349.6h0M131.9,351.5h0M134.2,353.7h0M136.6,356.1h0M138.8,358.4h0M141.1,361.1h0M143.5,364.4h0M145.8,368.2h0M148.2,372.7h0M150.5,377.2h0M152.8,381.8h0M155.1,386.5h0M157.5,391.2h0M159.8,395.7h0M162.1,400.1h0M164.3,406.1h0M166.1,412.4h0M167.4,418.7h0M168.5,424.9h0M169.6,431.2h0M170.7,437.5h0M171.5,443.8h0M172,450.2h0M172.5,456.6h0M172.9,463h0M173.3,469.4h0" fill="none" stroke="#6060ff" stroke-width="3.3" stroke-linecap="round"/>
<path d="M117,344 L119.3,344.3 L123,345.1 L125.6,345.7 L128.7,346.5 L131.9,347.4 L134.9,348.4 L137.9,349.4 L140.9,350.6 L143.6,352 L146.1,353.7 L148.4,355.7 L150.5,358 L152.5,360.3 L154.4,362.7 L156.4,365.1 L158.1,367.7 L159.6,370.3 L160.9,372.8 L161.9,375.4 L162.8,378.5 L163.6,381.6 L164.2,384.1 L164.7,386.8 L165.3,389.7 L165.8,392.9 L166.3,396.3 L166.8,400 L167.1,402.5 L167.4,405.1 L167.7,407.8 L168,410.6 L168.3,413.5 L168.5,416.5 L168.8,419.6 L169,422.9 L169.3,426.4 L169.5,430 L169.7,432.7 L169.8,435.6 L170,438.8 L170.1,442.2 L170.2,445.6 L170.4,449.2 L170.5,452.7 L170.7,456.2 L170.8,459.6 L170.9,462.8 L171,465.8 L171.1,468.5 L171.2,470.9 L171.3,472.9 L171.3,474" stroke="#6060ff" stroke-width="1.0" fill="none" stroke-linejoin="round" stroke-linecap="round"/>
<path d="M117,344h0M119.3,344.3h0M121.8,344.8h0M124.2,345.4h0M126.6,346h0M129.3,346.7h0M131.9,347.4h0M134.4,348.2h0M136.9,349.1h0M139.4,350h0M141.8,351h0M144,352.3h0M146.5,354h0M148.7,356.1h0M151.1,358.8h0M153.5,361.5h0M155.7,364.3h0M158.1,367.7h0M160.5,372h0M162.7,377.9h0M164.2,384.1h0M165.4,390.2h0M166.3,396.3h0M167.1,402.5h0M167.8,408.7h0M168.4,415h0M168.9,421.3h0M169.3,427.6h0M169.7,433.6h0M170,439.9h0M170.3,446.2h0M170.5,452.7h0M170.8,459h0M171,465.3h0M171.2,471.6h0" fill="none" stroke="#6060ff" stroke-width="3.3" stroke-linecap="round"/>
<path d="M131,356.5 L133.7,356.3 L136.4,357.9 L138.4,360.1 L140.5,362.8 L142.4,365.4 L143.9,367.9 L145.4,370.5 L146.8,373.3 L148.2,375.9 L149.6,378.7 L151,381.5 L152.4,384.2 L153.8,387 L155.2,389.9 L156.6,392.6 L157.9,395.2 L159.4,398.1 L160.7,400.6 L162,403.5 L162.9,406.2 L163.8,409.1 L164.7,412.3 L165.4,415.3 L166,418.2 L166.6,421.2 L167.1,424.4 L167.6,427.5 L168.2,430.4 L168.7,433.1 L169.2,435.6 L169.6,438.5 L170.1,441.9 L170.4,445.2 L170.7,448 L170.9,451.2 L171.2,454.7 L171.4,458.2 L171.7,461.8 L171.9,465.1 L172.1,468.2 L172.3,470.8 L172.4,472.7 L172.4,473" stroke="#44ee44" stroke-width="1.0" fill="none" stroke-linejoin="round" stroke-linecap="round"/>
<path d="M131,356.5h0M133.7,356.3h0M136.1,357.6h0M138.4,360.1h0M140.8,363.2h0M143.2,366.6h0M145.6,371h0M148,375.5h0M150.3,380.1h0M152.6,384.7h0M155,389.4h0M157.3,394h0M159.6,398.5h0M162,403.5h0M164,409.6h0M165.5,415.8h0M166.7,421.8h0M167.7,428h0M168.8,433.9h0M169.9,440.1h0M170.5,446.1h0M171,452.4h0M171.5,458.8h0M171.9,465.1h0M172.3,471.1h0" fill="none" stroke="#44ee44" stroke-width="3.3" stroke-linecap="round"/>
<path d="M131,357 L133.1,357.7 L136.3,359.9 L138.4,361.6 L140.9,363.8 L143.5,366.1 L145.9,368.3 L148.1,370.4 L150.6,372.7 L152.5,374.7 L154.4,376.9 L156.2,379.1 L157.8,381.4 L159.4,384.4 L160.4,386.8 L161.4,389.4 L162.3,392.3 L163.2,395.6 L164,398.8 L164.5,401.1 L164.9,403.3 L165.4,405.6 L165.8,408.3 L166.2,411.5 L166.7,415.3 L167.2,420 L167.4,422.3 L167.6,424.9 L167.9,427.8 L168.1,430.9 L168.4,434.2 L168.7,437.6 L168.9,441.2 L169.2,444.8 L169.5,448.4 L169.7,451.9 L170,455.4 L170.2,458.8 L170.4,462 L170.7,465 L170.8,467.8 L171,470.2 L171.2,472.3 L171.3,474" stroke="#44ee44" stroke-width="1.0" fill="none" stroke-linejoin="round" stroke-linecap="round"/>
<path d="M131,357h0M133.6,358h0M136,359.6h0M138.4,361.6h0M140.9,363.8h0M143.5,366.1h0M145.9,368.3h0M148.6,370.8h0M150.9,373h0M153.1,375.4h0M155.6,378.3h0M157.8,381.4h0M160.1,386h0M162.2,391.8h0M163.8,398h0M165.1,404h0M166.1,410.3h0M166.9,416.8h0M167.5,423.1h0M168,429.3h0M168.5,435.3h0M169,441.8h0M169.4,447.8h0M169.9,454.3h0M170.3,460.4h0M170.8,466.9h0M171.2,472.9h0" fill="none" stroke="#44ee44" stroke-width="3.3" stroke-linecap="round"/>
<path d="M75.4,303.6 L77.1,304.8 L79.5,306.5 L82.2,308.5 L85.1,310.5 L87.9,312.3 L90.7,313.9 L93.7,315.4 L96.7,316.8 L99.3,318 L101.8,319.3 L103.3,320.8 L104.9,323.6 L106.1,326 L107.5,329 L109,332.1 L110.6,335.3 L112.2,338.3 L113.7,340.9 L115.5,343.3 L118,345.6 L120.5,347.3 L122.9,348.6 L125.2,350.2 L127.7,352.2 L130,354.2 L132.3,356.1 L134.4,358.1 L136.6,360.4 L138.6,362.7 L140.4,365.2 L142.1,367.7 L143.6,370.2 L145,372.9 L146.4,375.6 L147.8,378.3 L149.2,381.1 L150.6,383.9 L152,386.6 L153.4,389.5 L154.8,392.3 L156.2,395 L157.6,397.7 L159,400.3 L160.3,403 L161.3,405.8 L162.3,408.6 L163.2,411.7 L164,415 L164.6,417.7 L165.2,420.7 L165.7,423.8 L166.3,426.9 L166.8,430 L167.3,432.8 L167.8,435.3 L168.3,438 L168.7,441.1 L169.2,445 L169.4,447.6 L169.7,450.6 L169.9,453.9 L170.2,457.5 L170.4,461 L170.7,464.5 L170.9,467.7 L171.1,470.5 L171.2,472.8 L171.3,474" stroke="#ffff44" stroke-width="1.0" fill="none" stroke-linejoin="round" stroke-linecap="round"/>
<path d="M75.4,303.6h0M77.8,305.3h0M80.4,307.2h0M82.7,308.8h0M85.1,310.5h0M87.4,312h0M89.7,313.4h0M92.2,314.7h0M94.7,315.9h0M97.2,317h0M99.7,318.2h0M102.2,319.5h0M104.5,322.9h0M106.8,327.5h0M109,332.1h0M111.4,336.8h0M113.7,340.9h0M116.3,344.2h0M118.8,346.2h0M121.3,347.7h0M123.7,349.1h0M126,350.9h0M128.5,352.8h0M130.8,354.8h0M133,356.8h0M135.5,359.3h0M137.9,362h0M140.4,365.2h0M142.8,368.9h0M145.2,373.3h0M147.6,377.8h0M149.9,382.5h0M152.2,387.1h0M154.6,391.8h0M156.8,396.2h0M159.2,400.8h0M161.5,406.3h0M163.3,412.2h0M164.7,418.2h0M165.8,424.3h0M166.9,430.5h0M168,436.6h0M169,442.9h0M169.6,449h0M170,455.1h0M170.5,461.6h0M170.9,467.7h0M171.3,473.7h0" fill="none" stroke="#ffff44" stroke-width="3.3" stroke-linecap="round"/>
<path d="M75.4,302.6 L77.3,302.7 L79.9,302.9 L83,303.1 L86.4,303.4 L89.9,303.7 L93.3,304.1 L96.4,304.7 L99.3,305.4 L102.3,306.1 L105.3,307 L108.2,307.9 L111.1,308.9 L114,309.9 L116.8,311 L119.7,312.2 L122.5,313.5 L125.3,314.9 L128.1,316.3 L130.7,317.8 L133.2,319.3 L135.8,320.9 L138.4,322.7 L140.9,324.6 L143.2,326.5 L145.4,328.5 L147.6,330.5 L149.9,332.8 L152.1,335.2 L154.2,337.6 L156.1,339.9 L157.8,342 L160,344.7 L161.7,347.2 L163.1,349.7 L164.3,352.4 L165.4,355.2 L166.3,358.3 L167,360.9 L167.5,362.6 L167.9,364.9 L168.3,368.6 L168.6,373.3 L168.8,375.4 L168.9,377.8 L169,380.3 L169.1,383.1 L169.2,386 L169.3,389 L169.5,392.1 L169.6,395.4 L169.7,398.7 L169.8,402.1 L169.9,405.5 L170,408.9 L170.1,412.3 L170.2,415.6 L170.3,418.9 L170.3,421.9 L170.4,425 L170.5,428.2 L170.6,431.5 L170.6,434.9 L170.7,438.3 L170.8,441.8 L170.8,445.3 L170.9,448.8 L170.9,452.2 L171,455.5 L171.1,458.7 L171.1,461.8 L171.1,464.6 L171.2,467.2 L171.2,469.6 L171.3,471.7 L171.3,473.5 L171.3,474" stroke="#ffff44" stroke-width="1.0" fill="none" stroke-linejoin="round" stroke-linecap="round"/>
<path d="M75.4,302.6h0M77.7,302.8h0M79.9,302.9h0M82.4,303.1h0M84.7,303.2h0M87,303.4h0M89.3,303.6h0M91.6,303.9h0M93.8,304.2h0M96.4,304.7h0M98.8,305.2h0M101.3,305.8h0M103.8,306.5h0M106.2,307.2h0M108.7,308h0M111.1,308.9h0M113.5,309.7h0M115.8,310.6h0M118.2,311.6h0M120.6,312.6h0M123,313.7h0M125.3,314.9h0M127.6,316.1h0M129.8,317.3h0M132.4,318.8h0M134.9,320.3h0M137.1,321.8h0M139.7,323.7h0M142.1,325.6h0M144.3,327.5h0M146.9,329.8h0M149.1,332h0M151.4,334.3h0M153.9,337.2h0M156.1,339.9h0M158.5,342.8h0M160.9,346h0M163.3,350.2h0M165.6,355.7h0M167.2,361.5h0M168.3,367.9h0M168.7,373.9h0M169,380.3h0M169.2,386.4h0M169.5,392.7h0M169.7,398.7h0M169.9,404.9h0M170.1,411.1h0M170.2,417.3h0M170.4,423.4h0M170.5,429.8h0M170.7,436h0M170.8,442.4h0M170.9,448.8h0M171,455h0M171.1,461.3h0M171.2,467.6h0M171.3,473.7h0" fill="none" stroke="#ffff44" stroke-width="3.3" stroke-linecap="round"/>
<path d="M88.7,314.8 L90.6,315.9 L93.4,317.5 L96.5,319.4 L99.5,321.2 L101.7,322.8 L103.5,324.9 L104.5,328 L105.7,330.1 L107.1,332.8 L108.7,335.7 L110.4,338.7 L112.2,341.4 L114,343.7 L116.3,346 L118.8,347.7 L121.3,349.3 L123.7,350.9 L126.1,352.9 L128.5,354.8 L130.8,356.8 L133,358.8 L135.2,361 L137.2,363.4 L139,365.7 L140.7,368.2 L142.2,370.8 L143.6,373.4 L145.1,376.2 L146.5,378.9 L147.8,381.6 L149.2,384.4 L150.6,387.2 L152,390 L153.5,392.8 L154.9,395.5 L156.2,398.2 L157.7,400.9 L159,403.6 L160.1,406.4 L161,409.1 L161.9,412.1 L162.8,415.4 L163.4,418.3 L164,421.2 L164.5,424.3 L165.1,427.4 L165.6,430.5 L166.1,433.3 L166.6,435.9 L167.1,438.5 L167.6,441.5 L168,445.3 L168.3,448.1 L168.5,451.1 L168.8,454.4 L169,457.9 L169.3,461.4 L169.5,464.9 L169.7,468.2 L169.9,471.1 L170.1,473.5 L170.2,475" stroke="#ff55ff" stroke-width="1.0" fill="none" stroke-linejoin="round" stroke-linecap="round"/>
<path d="M88.7,314.8h0M91,316.2h0M93.4,317.5h0M96,319.1h0M98.5,320.6h0M101.1,322.3h0M103.4,324.6h0M105.7,330.1h0M107.9,334.2h0M110.1,338.2h0M112.4,341.8h0M114.7,344.6h0M117.2,346.6h0M119.7,348.2h0M122.1,349.8h0M124.5,351.5h0M126.9,353.5h0M129.3,355.5h0M131.6,357.5h0M134.1,359.9h0M136.5,362.6h0M139,365.7h0M141.2,369.1h0M143.6,373.4h0M146,378h0M148.3,382.5h0M150.6,387.2h0M153,391.9h0M155.3,396.4h0M157.7,400.9h0M159.9,406h0M161.9,412.1h0M163.4,418.3h0M164.5,424.3h0M165.6,430.5h0M166.8,436.8h0M167.7,442.7h0M168.4,449h0M168.9,455.5h0M169.3,462h0M169.7,468.2h0M170.2,474.5h0" fill="none" stroke="#ff55ff" stroke-width="3.3" stroke-linecap="round"/>
<path d="M88.7,313.8 L90.7,314.1 L93.6,314.6 L96.9,315.2 L100.4,315.8 L103.7,316.4 L106.6,317 L109.9,317.7 L112.7,318.4 L115.4,319.3 L118.2,320.4 L120.7,321.6 L123.4,323.1 L126,324.7 L128.7,326.3 L131.4,327.9 L134.2,329.7 L137.1,331.6 L139.7,333.3 L141.8,334.7 L143.1,337.3 L145.6,338.1 L148.9,338.6 L151.8,340 L153.7,342 L155.6,344.7 L157.3,347.5 L158.9,350.2 L160.3,352.8 L161.7,355.5 L162.9,358.4 L163.9,361 L164.7,363 L165.4,365.4 L166.1,368.6 L166.6,372.9 L166.9,375.1 L167.1,377.4 L167.4,379.8 L167.6,382.4 L167.8,385.2 L168,388.1 L168.2,391.2 L168.5,394.5 L168.7,397.9 L168.9,401.5 L169.1,405.3 L169.3,409.3 L169.4,412.1 L169.5,414.8 L169.6,417.7 L169.7,420.7 L169.8,424 L170,427.3 L170.1,430.8 L170.2,434.3 L170.3,437.8 L170.4,441.4 L170.5,444.9 L170.6,448.4 L170.7,451.8 L170.8,455.2 L170.9,458.4 L170.9,461.4 L171,464.2 L171.1,466.9 L171.2,469.3 L171.2,471.4 L171.3,473.2 L171.3,474" stroke="#ff55ff" stroke-width="1.0" fill="none" stroke-linejoin="round" stroke-linecap="round"/>
<path d="M88.7,313.8h0M91.1,314.2h0M93.6,314.6h0M95.8,315h0M98.1,315.4h0M100.4,315.8h0M102.6,316.2h0M105.1,316.7h0M107.8,317.3h0M110.4,317.8h0M112.7,318.4h0M114.9,319.1h0M117.3,320h0M119.9,321.2h0M122.5,322.6h0M125.1,324.1h0M127.4,325.5h0M129.6,326.8h0M131.8,328.2h0M134.2,329.7h0M136.6,331.3h0M138.9,332.7h0M141.2,334.3h0M143.2,337h0M145.6,338.1h0M148.3,338.4h0M151,339.4h0M153.4,341.7h0M155.9,345.2h0M158.1,348.9h0M160.3,352.8h0M162.5,357.4h0M164.7,363h0M166.2,369.3h0M166.9,375.5h0M167.5,381.6h0M168,387.6h0M168.4,393.9h0M168.8,400.3h0M169.1,406.6h0M169.4,412.9h0M169.7,419.2h0M169.9,425.6h0M170.1,431.9h0M170.3,438.4h0M170.5,444.9h0M170.7,451.3h0M170.8,457.3h0M171,463.3h0M171.2,469.6h0" fill="none" stroke="#ff55ff" stroke-width="3.3" stroke-linecap="round"/>
<path d="M103,333.3 L104.3,334.9 L106.2,337.2 L108.4,339.9 L110.7,342.5 L112.9,344.7 L115.3,346.7 L117.7,348.5 L120.2,350.2 L122.6,351.9 L125,353.9 L127.4,355.8 L129.7,357.8 L131.8,359.8 L134,362.1 L136.1,364.4 L137.9,366.8 L139.6,369.2 L141.1,371.8 L142.5,374.4 L144,377.2 L145.4,379.9 L146.7,382.6 L148.1,385.4 L149.5,388.2 L150.9,391 L152.4,393.8 L153.7,396.5 L155.1,399.2 L156.5,401.9 L157.8,404.6 L159,407.4 L159.9,410.2 L160.8,413.1 L161.6,416.4 L162.3,419.3 L162.9,422.2 L163.4,425.3 L164,428.4 L164.5,431.5 L165,434.3 L165.5,436.9 L166,439.5 L166.4,442.5 L166.9,446.3 L167.2,449.1 L167.4,452.1 L167.7,455.4 L167.9,458.9 L168.2,462.4 L168.4,465.9 L168.6,469.2 L168.8,472.1 L169,474.5 L169.1,476" stroke="#44ffff" stroke-width="1.0" fill="none" stroke-linejoin="round" stroke-linecap="round"/>
<path d="M103,333.3h0M105.2,336h0M107.6,339h0M109.9,341.6h0M112.1,344h0M114.5,346h0M116.9,347.9h0M119.4,349.6h0M121.8,351.3h0M124.2,353.2h0M126.6,355.2h0M129,357.1h0M131.5,359.5h0M134,362.1h0M136.4,364.8h0M138.8,368h0M141.1,371.8h0M143.5,376.3h0M145.8,380.8h0M148.1,385.4h0M150.5,390h0M152.8,394.8h0M155.1,399.2h0M157.4,403.6h0M159.7,409.7h0M161.5,415.9h0M162.9,422.2h0M164,428.4h0M165,434.3h0M166.1,440.5h0M167,447h0M167.5,453.1h0M168,459.5h0M168.4,465.9h0M168.8,472.1h0" fill="none" stroke="#44ffff" stroke-width="3.3" stroke-linecap="round"/>
<path d="M103,332.2 L105.4,330.7 L108.5,330.6 L111.8,331.1 L115,331.8 L117.8,332.8 L120,334.4 L122.8,335.8 L125.5,337 L128.5,338.3 L131.6,339.6 L134.4,341 L137.3,342.6 L140,344.3 L142.5,345.9 L144.9,347.6 L147.5,349.6 L150,351.7 L152.1,353.6 L154.5,355.7 L156.8,357.8 L158.6,360.2 L160,362.7 L161.3,365.6 L162.5,368.5 L163.5,370.6 L164.6,373.1 L165.6,376.7 L166.2,380.1 L166.5,382.3 L166.8,384.5 L167,386.9 L167.3,389.5 L167.6,392.2 L167.8,395.3 L168.1,398.6 L168.3,402.3 L168.6,406.3 L168.8,410.4 L168.9,412.8 L169.1,415.4 L169.2,418.3 L169.3,421.4 L169.5,424.6 L169.6,428 L169.8,431.4 L169.9,435 L170,438.6 L170.2,442.1 L170.3,445.7 L170.4,449.2 L170.5,452.7 L170.7,456 L170.8,459.2 L170.9,462.2 L171,465 L171.1,467.6 L171.1,470 L171.2,472 L171.3,473.7 L171.3,474" stroke="#44ffff" stroke-width="1.0" fill="none" stroke-linejoin="round" stroke-linecap="round"/>
<path d="M103,332.2h0M105.4,330.7h0M107.6,330.5h0M110.1,330.8h0M112.3,331.2h0M115,331.8h0M117.4,332.6h0M120,334.4h0M122.4,335.6h0M125,336.7h0M127.5,337.8h0M130.1,338.9h0M132.6,340.1h0M134.9,341.3h0M137.3,342.6h0M139.5,344h0M142.1,345.7h0M144.5,347.3h0M147.1,349.3h0M149.6,351.3h0M151.8,353.3h0M154.1,355.4h0M156.4,357.4h0M158.6,360.2h0M160.9,364.6h0M163.2,369.9h0M165.4,376h0M166.4,381.9h0M167.2,388.2h0M167.8,394.2h0M168.2,400.4h0M168.6,407h0M169,413.2h0M169.3,419.3h0M169.5,425.7h0M169.8,432h0M170,438.6h0M170.3,445.1h0M170.5,451.5h0M170.7,457.6h0M170.9,463.7h0M171.1,470h0" fill="none" stroke="#44ffff" stroke-width="3.3" stroke-linecap="round"/>
<path d="M171.8,474 L171.9,470.4 L172,467.5 L172.1,464.7 L172.2,461.1 L172.3,457.4 L172.4,454.6 L172.5,451.8 L172.6,448.1 L172.7,444.5 L172.8,441.7 L172.8,438.9 L172.9,435.2 L173,431.6 L173.1,428.8 L173.1,425.9 L173.2,422.3 L173.3,418.7 L173.4,415.8 L173.5,413 L173.6,409.4 L173.8,405.7 L174.1,402.9 L174.5,400.1 L175.1,396.5 L176,393 L176.6,390.3 L177.2,387.5 L178,383.9 L178.8,380.4 L179.6,377.7 L180.3,374.9 L181.4,371.5 L182.6,368 L183.6,365.4 L184.6,362.7 L185.9,359.3 L187.3,356 L188.4,353.4 L189.6,350.8 L191.4,347.6 L193.5,344.7 L195.4,342.6 L196.9,341" stroke="#ff3030" stroke-width="2.4" fill="none" stroke-linejoin="round" stroke-linecap="round"/>
<path d="M171.8,474h0M172,467.5h0M172.2,461.3h0M172.4,454.6h0M172.6,448.3h0M172.8,441.7h0M172.9,435.4h0M173.1,428.8h0M173.2,422.5h0M173.4,415.8h0M173.6,409.6h0M174.1,402.9h0M175.1,396.7h0M176.6,390.3h0M178,384.1h0M179.6,377.7h0M181.4,371.6h0M183.6,365.4h0M185.8,359.5h0M188.4,353.4h0M191.3,347.8h0M194.9,343.2h0" fill="none" stroke="#ff3030" stroke-width="2.8" stroke-linecap="round"/>
<path d="M171.9,474 L172,470.4 L172.1,467.6 L172.2,464.7 L172.3,461.1 L172.4,457.5 L172.5,454.7 L172.6,451.8 L172.7,448.2 L172.8,444.6 L172.9,441.8 L173,438.9 L173.2,435.3 L173.3,431.7 L173.4,428.9 L173.4,426.1 L173.5,422.4 L173.6,418.8 L173.7,416 L173.8,413.2 L174,409.5 L174.3,405.9 L174.6,403.1 L174.9,400.3 L175.6,396.8 L176.5,393.2 L177.1,390.5 L177.7,387.7 L178.4,384.2 L179.3,380.6 L180,377.9 L180.7,375.2 L181.8,371.7 L183,368.3 L184,365.6 L184.9,363 L186.3,359.6 L187.6,356.2 L188.8,353.6 L189.9,351.1 L191.7,347.9 L193.8,345 L195.7,342.9 L196.9,341" stroke="#ff3030" stroke-width="2.4" fill="none" stroke-linejoin="round" stroke-linecap="round"/>
<path d="M171.9,474h0M172.1,467.6h0M172.3,461.3h0M172.5,454.7h0M172.7,448.4h0M172.9,441.8h0M173.2,435.5h0M173.4,428.9h0M173.5,422.6h0M173.7,416h0M174,409.7h0M174.6,403.1h0M175.5,396.9h0M177.1,390.5h0M178.4,384.3h0M180,377.9h0M181.8,371.9h0M184,365.6h0M186.2,359.8h0M188.8,353.6h0M191.6,348.1h0M195.2,343.4h0" fill="none" stroke="#ff3030" stroke-width="2.8" stroke-linecap="round"/>
<path d="M171.8,474 L171.9,470.4 L172,467.5 L172.1,464.7 L172.2,461.1 L172.3,457.4 L172.4,454.6 L172.4,451.8 L172.5,448.1 L172.6,444.5 L172.7,441.7 L172.8,438.8 L172.9,435.2 L173,431.6 L173,428.7 L173.1,425.9 L173.1,422.3 L173.2,418.6 L173.3,415.8 L173.4,413 L173.5,409.3 L173.8,405.7 L174,402.9 L174.4,400.1 L175,396.5 L175.9,393 L176.6,390.2 L177.2,387.4 L177.9,383.9 L178.8,380.3 L179.5,377.6 L180.3,374.9 L181.4,371.4 L182.6,368 L183.5,365.3 L184.5,362.7 L185.9,359.3 L187.2,355.9 L188.4,353.3 L189.6,350.8 L191.3,347.6 L193.5,344.6 L195.4,342.5 L197.3,340.5 L199.8,337.9 L202.5,335.3 L204.5,333.4 L206.6,331.5 L209.3,329.1 L212.2,326.8 L212.7,326.4" stroke="#44ee44" stroke-width="2.4" fill="none" stroke-linejoin="round" stroke-linecap="round"/>
<path d="M171.8,474h0M172,467.5h0M172.2,461.2h0M172.4,454.6h0M172.5,448.3h0M172.7,441.7h0M172.9,435.4h0M173,428.7h0M173.1,422.5h0M173.3,415.8h0M173.5,409.5h0M174,402.9h0M175,396.7h0M176.6,390.2h0M177.9,384.1h0M179.5,377.6h0M181.3,371.6h0M183.5,365.3h0M185.8,359.4h0M188.4,353.3h0M191.2,347.7h0M194.8,343.1h0M198.3,339.4h0M202,335.8h0M205.6,332.4h0M208.8,329.5h0M212.2,326.8h0" fill="none" stroke="#44ee44" stroke-width="2.8" stroke-linecap="round"/>
<path d="M171.9,474 L172,470.4 L172.1,467.6 L172.3,464.8 L172.4,461.1 L172.5,457.5 L172.6,454.7 L172.7,451.9 L172.9,448.3 L173,444.7 L173.2,441.9 L173.3,439.1 L173.5,435.4 L173.6,431.8 L173.7,429 L173.8,426.2 L173.9,422.6 L174.1,419 L174.2,416.2 L174.3,413.4 L174.5,409.8 L174.8,406.2 L175.1,403.4 L175.5,400.6 L176.1,397 L177,393.5 L177.6,390.8 L178.2,388 L179,384.5 L179.8,380.9 L180.5,378.2 L181.2,375.5 L182.3,372 L183.5,368.6 L184.4,365.9 L185.4,363.3 L186.7,359.9 L188,356.6 L189.2,354 L190.3,351.4 L192.1,348.3 L194.2,345.4 L196.1,343.2 L198,341.2 L200.5,338.5 L203.1,336 L205.1,334.1 L207.2,332.2 L209.9,329.7 L212.3,326.9 L212.7,326.4" stroke="#44ee44" stroke-width="2.4" fill="none" stroke-linejoin="round" stroke-linecap="round"/>
<path d="M171.9,474h0M172.1,467.6h0M172.4,461.3h0M172.6,454.7h0M172.9,448.5h0M173.2,441.9h0M173.4,435.6h0M173.7,429h0M173.9,422.8h0M174.2,416.2h0M174.5,410h0M175.1,403.4h0M176.1,397.2h0M177.6,390.8h0M178.9,384.6h0M180.5,378.2h0M182.2,372.2h0M184.4,365.9h0M186.6,360.1h0M189.2,354h0M192,348.4h0M195.5,343.8h0M199,340.1h0M202.6,336.5h0M206.2,333.1h0M209.7,329.9h0" fill="none" stroke="#44ee44" stroke-width="2.8" stroke-linecap="round"/>
<path d="M171.8,474 L171.9,470.4 L172,467.5 L172.1,464.7 L172.2,461.1 L172.3,457.4 L172.3,454.6 L172.4,451.8 L172.5,448.1 L172.6,444.5 L172.7,441.6 L172.8,438.8 L172.8,435.2 L172.9,431.5 L173,428.7 L173,425.9 L173.1,422.2 L173.2,418.6 L173.2,415.8 L173.3,412.9 L173.5,409.3 L173.7,405.7 L174,402.9 L174.3,400 L175,396.5 L175.9,392.9 L176.5,390.2 L177.1,387.4 L177.8,383.8 L178.7,380.3 L179.4,377.6 L180.2,374.8 L181.3,371.4 L182.5,367.9 L183.5,365.3 L184.5,362.6 L185.8,359.2 L187.2,355.9 L188.3,353.3 L189.5,350.7 L191.2,347.5 L193.4,344.6 L195.3,342.5 L197.2,340.4 L199.8,337.8 L202.4,335.3 L204.5,333.4 L206.6,331.5 L209.3,329 L212.1,326.7 L214.5,325.2 L216.9,323.7 L220.1,322 L223.5,320.6 L224.1,320.4" stroke="#6060ff" stroke-width="2.4" fill="none" stroke-linejoin="round" stroke-linecap="round"/>
<path d="M171.8,474h0M172,467.5h0M172.2,461.2h0M172.3,454.6h0M172.5,448.3h0M172.7,441.6h0M172.8,435.4h0M173,428.7h0M173.1,422.4h0M173.2,415.8h0M173.4,409.5h0M174,402.9h0M174.9,396.6h0M176.5,390.2h0M177.8,384h0M179.4,377.6h0M181.2,371.5h0M183.5,365.3h0M185.7,359.4h0M188.3,353.3h0M191.2,347.7h0M194.8,343h0M198.3,339.4h0M201.9,335.8h0M205.6,332.4h0M208.8,329.5h0M212.1,326.7h0M215.7,324.4h0M219.5,322.3h0M222.8,320.9h0" fill="none" stroke="#6060ff" stroke-width="2.8" stroke-linecap="round"/>
<path d="M172,474 L172.1,470.4 L172.2,467.6 L172.4,464.8 L172.5,461.2 L172.7,457.6 L172.8,454.8 L173,452 L173.2,448.4 L173.3,444.8 L173.5,442 L173.7,439.2 L173.9,435.6 L174.1,432 L174.2,429.2 L174.3,426.4 L174.5,422.9 L174.7,419.3 L174.8,416.5 L175,413.7 L175.2,410.1 L175.6,406.5 L175.9,403.7 L176.3,400.9 L176.9,397.4 L177.8,393.9 L178.4,391.1 L179,388.4 L179.7,384.9 L180.5,381.3 L181.2,378.6 L181.9,375.9 L183,372.5 L184.1,369 L185,366.4 L186,363.8 L187.3,360.4 L188.6,357 L189.7,354.5 L190.9,351.9 L192.6,348.8 L194.8,345.9 L196.6,343.7 L198.5,341.7 L200.9,339 L203.5,336.5 L205.5,334.6 L207.6,332.6 L210.3,330.2 L213.1,328 L215.4,326.5 L217.9,325.1 L221.1,323.5 L224.4,322.2 L224.1,320.4" stroke="#6060ff" stroke-width="2.4" fill="none" stroke-linejoin="round" stroke-linecap="round"/>
<path d="M172,474h0M172.2,467.6h0M172.5,461.4h0M172.8,454.8h0M173.1,448.6h0M173.5,442h0M173.9,435.8h0M174.2,429.2h0M174.5,423h0M174.8,416.5h0M175.2,410.3h0M175.9,403.7h0M176.9,397.6h0M178.4,391.1h0M179.7,385h0M181.2,378.6h0M182.9,372.6h0M185,366.4h0M187.2,360.6h0M189.7,354.5h0M192.5,348.9h0M196.1,344.3h0M199.5,340.6h0M203,337h0M206.6,333.6h0M210.1,330.4h0M213.5,327.7h0M216.7,325.7h0M220.5,323.8h0M223.8,322.4h0" fill="none" stroke="#6060ff" stroke-width="2.8" stroke-linecap="round"/>
<path d="M171.8,474 L171.9,470.4 L172,467.5 L172.1,464.7 L172.1,461.1 L172.2,457.4 L172.3,454.6 L172.4,451.7 L172.5,448.1 L172.6,444.5 L172.6,441.6 L172.7,438.8 L172.8,435.2 L172.9,431.5 L172.9,428.7 L173,425.9 L173,422.2 L173.1,418.6 L173.2,415.7 L173.2,412.9 L173.4,409.3 L173.6,405.6 L173.9,402.8 L174.2,400 L174.9,396.4 L175.8,392.9 L176.4,390.1 L177,387.4 L177.8,383.8 L178.6,380.3 L179.3,377.5 L180.1,374.8 L181.2,371.3 L182.4,367.9 L183.4,365.2 L184.4,362.6 L185.7,359.2 L187.1,355.8 L188.2,353.2 L189.5,350.6 L191.2,347.4 L193.4,344.5 L195.2,342.4 L197.2,340.4 L199.7,337.8 L202.4,335.2 L204.5,333.3 L206.6,331.4 L209.3,329 L212.1,326.7 L214.4,325.1 L216.8,323.6 L220.1,321.9 L223.4,320.5 L226.1,319.7 L228.9,318.9 L232.4,318 L235.9,317.2 L236.6,317.1" stroke="#44ffff" stroke-width="2.4" fill="none" stroke-linejoin="round" stroke-linecap="round"/>
<path d="M171.8,474h0M172,467.5h0M172.1,461.2h0M172.3,454.6h0M172.5,448.3h0M172.6,441.6h0M172.8,435.3h0M172.9,428.7h0M173,422.4h0M173.2,415.7h0M173.4,409.5h0M173.9,402.8h0M174.8,396.6h0M176.4,390.1h0M177.7,384h0M179.3,377.5h0M181.2,371.5h0M183.4,365.2h0M185.7,359.3h0M188.2,353.2h0M191.1,347.6h0M194.7,343h0M198.2,339.3h0M201.9,335.7h0M205.6,332.3h0M208.8,329.4h0M212.1,326.7h0M215.7,324.3h0M219.5,322.3h0M222.8,320.8h0M226.1,319.7h0M229.5,318.7h0M233.1,317.9h0M236.4,317.1h0" fill="none" stroke="#44ffff" stroke-width="2.8" stroke-linecap="round"/>
<path d="M172.1,474 L172.3,470.4 L172.4,467.7 L172.6,464.9 L172.8,461.3 L173.1,457.7 L173.2,455 L173.4,452.2 L173.7,448.6 L173.9,445.1 L174.2,442.3 L174.4,439.5 L174.7,436 L175,432.4 L175.2,429.7 L175.4,426.9 L175.6,423.3 L175.9,419.8 L176.1,417 L176.4,414.3 L176.7,410.7 L177,407.1 L177.4,404.4 L177.8,401.6 L178.5,398.1 L179.3,394.6 L179.9,391.9 L180.4,389.2 L181.2,385.7 L182,382.2 L182.6,379.5 L183.3,376.8 L184.3,373.4 L185.4,369.9 L186.3,367.3 L187.2,364.7 L188.4,361.3 L189.8,358 L190.9,355.4 L192,352.9 L193.7,349.8 L195.9,346.9 L197.7,344.8 L199.5,342.7 L201.8,340 L204.3,337.4 L206.3,335.5 L208.4,333.6 L211,331.2 L213.9,329 L216.2,327.6 L218.7,326.2 L221.9,324.7 L225.2,323.4 L227.9,322.6 L230.5,321.8 L234,321 L237.5,320.2 L237,317.8 L236.6,317.1" stroke="#44ffff" stroke-width="2.4" fill="none" stroke-linejoin="round" stroke-linecap="round"/>
<path d="M172.1,474h0M172.4,467.7h0M172.8,461.5h0M173.2,455h0M173.7,448.8h0M174.2,442.3h0M174.7,436.2h0M175.2,429.7h0M175.6,423.5h0M176.1,417h0M176.7,410.9h0M177.4,404.4h0M178.4,398.3h0M179.9,391.9h0M181.1,385.9h0M182.6,379.5h0M184.3,373.5h0M186.3,367.3h0M188.4,361.5h0M190.9,355.4h0M193.6,349.9h0M197.1,345.4h0M200.4,341.6h0M203.9,337.9h0M207.4,334.5h0M210.9,331.3h0M214.2,328.7h0M217.5,326.8h0M221.3,325h0M224.6,323.7h0M227.9,322.6h0M231.2,321.7h0M234.7,320.8h0M238,320.1h0" fill="none" stroke="#44ffff" stroke-width="2.8" stroke-linecap="round"/>
<path d="M171.8,474 L171.9,470.4 L172,467.5 L172,464.7 L172.1,461 L172.2,457.4 L172.3,454.6 L172.4,451.7 L172.4,448.1 L172.5,444.4 L172.6,441.6 L172.7,438.8 L172.8,435.1 L172.8,431.5 L172.9,428.7 L172.9,425.8 L173,422.2 L173,418.5 L173.1,415.7 L173.2,412.9 L173.3,409.2 L173.5,405.6 L173.8,402.8 L174.1,400 L174.8,396.4 L175.7,392.9 L176.3,390.1 L176.9,387.3 L177.7,383.8 L178.5,380.2 L179.3,377.5 L180,374.7 L181.1,371.3 L182.3,367.8 L183.3,365.2 L184.3,362.5 L185.7,359.1 L187,355.8 L188.2,353.2 L189.4,350.6 L191.1,347.4 L193.3,344.5 L195.2,342.4 L197.1,340.3 L199.7,337.7 L202.3,335.2 L204.4,333.3 L206.5,331.4 L209.2,328.9 L212.1,326.6 L214.4,325 L216.8,323.6 L220,321.9 L223.4,320.5 L226.1,319.6 L228.8,318.8 L232.4,318 L235.9,317.1 L238.7,316.7 L241.5,316.4 L245.1,316 L248.8,315.7 L251.6,315.5 L253.8,315.4" stroke="#ff55ff" stroke-width="2.4" fill="none" stroke-linejoin="round" stroke-linecap="round"/>
<path d="M171.8,474h0M172,467.5h0M172.1,461.2h0M172.3,454.6h0M172.4,448.3h0M172.6,441.6h0M172.8,435.3h0M172.9,428.7h0M173,422.4h0M173.1,415.7h0M173.3,409.4h0M173.8,402.8h0M174.8,396.6h0M176.3,390.1h0M177.6,383.9h0M179.3,377.5h0M181.1,371.4h0M183.3,365.2h0M185.6,359.3h0M188.2,353.2h0M191,347.6h0M194.6,342.9h0M198.2,339.2h0M201.8,335.7h0M205.5,332.3h0M208.7,329.4h0M212.1,326.6h0M215.6,324.2h0M219.4,322.2h0M222.8,320.7h0M226.1,319.6h0M229.5,318.7h0M233,317.8h0M236.4,317h0M240.2,316.5h0M243.8,316.1h0M247.3,315.8h0M250.8,315.6h0" fill="none" stroke="#ff55ff" stroke-width="2.8" stroke-linecap="round"/>
<path d="M172.2,474 L172.4,470.5 L172.6,467.7 L172.9,465 L173.1,461.4 L173.4,457.9 L173.6,455.1 L173.9,452.4 L174.2,448.9 L174.5,445.3 L174.8,442.6 L175.1,439.9 L175.5,436.3 L175.9,432.8 L176.2,430.1 L176.4,427.4 L176.8,423.8 L177.1,420.3 L177.4,417.6 L177.7,414.8 L178.1,411.3 L178.5,407.8 L178.9,405.1 L179.4,402.3 L180,398.9 L180.8,395.4 L181.4,392.7 L181.9,390 L182.7,386.5 L183.4,383 L184.1,380.3 L184.7,377.7 L185.7,374.2 L186.7,370.8 L187.6,368.2 L188.4,365.6 L189.6,362.3 L190.9,358.9 L192,356.4 L193.1,353.9 L194.8,350.8 L197,347.9 L198.7,345.8 L200.5,343.7 L202.8,341 L205.2,338.4 L207.1,336.4 L209.1,334.5 L211.8,332.2 L214.6,330 L217,328.6 L219.4,327.4 L222.7,325.9 L226,324.6 L228.6,323.8 L231.3,323.1 L234.7,322.2 L238.2,321.5 L240.9,321 L243.6,320.5 L247.1,320 L250.7,319.5 L252.3,317.7 L253.8,315.4" stroke="#ff55ff" stroke-width="2.4" fill="none" stroke-linejoin="round" stroke-linecap="round"/>
<path d="M172.2,474h0M172.6,467.7h0M173.1,461.6h0M173.6,455.1h0M174.2,449h0M174.8,442.6h0M175.5,436.5h0M176.2,430.1h0M176.8,424h0M177.4,417.6h0M178.1,411.5h0M178.9,405.1h0M180,399h0M181.4,392.7h0M182.6,386.7h0M184.1,380.3h0M185.6,374.4h0M187.6,368.2h0M189.6,362.4h0M192,356.4h0M194.7,350.9h0M198.2,346.4h0M201.9,342h0M205.2,338.4h0M208.5,335.1h0M211.8,332.2h0M215,329.8h0M218.3,327.9h0M222.1,326.2h0M225.4,324.9h0M228.6,323.8h0M231.9,322.9h0M235.4,322.1h0M238.7,321.3h0M242.3,320.7h0M245.8,320.2h0M249.2,319.7h0M252.7,317.1h0" fill="none" stroke="#ff55ff" stroke-width="2.8" stroke-linecap="round"/>
<path d="M171.8,474 L171.9,470.4 L172,467.5 L172,464.7 L172.1,461 L172.2,457.4 L172.3,454.6 L172.3,451.7 L172.4,448.1 L172.5,444.4 L172.6,441.6 L172.6,438.8 L172.7,435.1 L172.8,431.5 L172.8,428.6 L172.8,425.8 L172.9,422.2 L173,418.5 L173,415.7 L173.1,412.8 L173.2,409.2 L173.4,405.6 L173.7,402.7 L174.1,399.9 L174.7,396.3 L175.6,392.8 L176.2,390 L176.8,387.3 L177.6,383.7 L178.4,380.2 L179.2,377.4 L180,374.7 L181.1,371.2 L182.3,367.8 L183.3,365.1 L184.3,362.5 L185.6,359.1 L187,355.7 L188.1,353.1 L189.3,350.5 L191.1,347.3 L193.2,344.4 L195.1,342.3 L197.1,340.3 L199.6,337.6 L202.3,335.1 L204.4,333.2 L206.5,331.3 L209.2,328.9 L212,326.6 L214.4,325 L216.8,323.5 L220,321.8 L223.4,320.4 L226.1,319.6 L228.8,318.8 L232.3,317.9 L235.9,317.1 L238.7,316.6 L241.5,316.3 L245.1,315.9 L248.8,315.6 L251.6,315.5 L254.4,315.3 L258.1,315.1 L261.7,315 L264.5,315 L266.7,315" stroke="#ffff44" stroke-width="2.4" fill="none" stroke-linejoin="round" stroke-linecap="round"/>
<path d="M171.8,474h0M172,467.5h0M172.1,461.2h0M172.3,454.6h0M172.4,448.3h0M172.6,441.6h0M172.7,435.3h0M172.8,428.6h0M172.9,422.3h0M173,415.7h0M173.2,409.4h0M173.7,402.7h0M174.7,396.5h0M176.2,390h0M177.6,383.9h0M179.2,377.4h0M181,371.4h0M183.3,365.1h0M185.5,359.2h0M188.1,353.1h0M191,347.5h0M194.6,342.9h0M198.1,339.2h0M201.8,335.6h0M205.5,332.2h0M208.7,329.3h0M212,326.6h0M215.6,324.2h0M219.4,322.1h0M222.7,320.7h0M226.1,319.6h0M229.5,318.6h0M233,317.7h0M236.4,317h0M240.1,316.4h0M243.8,316.1h0M247.3,315.8h0M250.8,315.5h0M254.4,315.3h0M257.9,315.1h0M261.7,315h0M265.3,315h0" fill="none" stroke="#ffff44" stroke-width="2.8" stroke-linecap="round"/>
<path d="M172.2,474 L172.6,470.5 L172.8,467.8 L173.1,465 L173.4,461.5 L173.8,458 L174.1,455.3 L174.3,452.6 L174.7,449.1 L175.1,445.6 L175.5,442.9 L175.8,440.2 L176.3,436.7 L176.8,433.2 L177.1,430.5 L177.5,427.8 L177.9,424.3 L178.4,420.8 L178.7,418.1 L179.1,415.4 L179.5,411.9 L180,408.5 L180.5,405.8 L180.9,403.1 L181.6,399.6 L182.3,396.1 L182.9,393.5 L183.4,390.8 L184.1,387.3 L184.9,383.9 L185.5,381.2 L186.1,378.5 L187,375.1 L188,371.7 L188.8,369.1 L189.7,366.5 L190.8,363.2 L192.1,359.9 L193.1,357.4 L194.3,354.9 L195.9,351.8 L198,349 L199.7,346.8 L201.5,344.7 L203.7,341.9 L206,339.3 L208,337.4 L209.9,335.5 L212.5,333.1 L215.4,331.1 L217.8,329.7 L220.2,328.5 L223.5,327.1 L226.8,325.9 L229.4,325.1 L232,324.3 L235.4,323.5 L238.9,322.7 L241.6,322.2 L244.3,321.7 L247.7,321.2 L251.2,320.6 L253.9,320.3 L256.6,319.9 L260.1,319.5 L263.6,319.1 L265.3,317.3 L266.7,315" stroke="#ffff44" stroke-width="2.4" fill="none" stroke-linejoin="round" stroke-linecap="round"/>
<path d="M172.2,474h0M172.8,467.8h0M173.4,461.7h0M174.1,455.3h0M174.7,449.3h0M175.5,442.9h0M176.3,436.9h0M177.1,430.5h0M177.9,424.5h0M178.7,418.1h0M179.5,412.1h0M180.5,405.8h0M181.6,399.8h0M182.9,393.5h0M184.1,387.5h0M185.5,381.2h0M187,375.3h0M188.8,369.1h0M190.8,363.4h0M193.1,357.4h0M195.9,351.9h0M199.3,347.4h0M202.8,343h0M206.4,339h0M209.6,335.8h0M213.1,332.7h0M216.5,330.4h0M219.8,328.7h0M223.3,327.2h0M226.8,325.9h0M230.1,324.9h0M233.4,324h0M236.7,323.2h0M240.2,322.5h0M243.4,321.9h0M247.1,321.3h0M250.6,320.7h0M253.9,320.3h0M257.3,319.8h0M260.8,319.4h0M264.1,319h0" fill="none" stroke="#ffff44" stroke-width="2.8" stroke-linecap="round"/>
<path d="M171.8,474 L171.9,470.4 L172,467.5 L172,464.7 L172.1,461 L172.2,457.4 L172.2,454.6 L172.3,451.7 L172.4,448.1 L172.5,444.4 L172.5,441.6 L172.6,438.7 L172.7,435.1 L172.7,431.5 L172.8,428.6 L172.8,425.8 L172.8,422.1 L172.9,418.5 L173,415.7 L173,412.8 L173.1,409.2 L173.4,405.5 L173.6,402.7 L174,399.9 L174.6,396.3 L175.5,392.8 L176.2,390 L176.8,387.2 L177.5,383.7 L178.4,380.1 L179.1,377.4 L179.9,374.6 L181,371.2 L182.2,367.7 L183.2,365.1 L184.2,362.4 L185.5,359 L186.9,355.7 L188.1,353.1 L189.3,350.5 L191,347.3 L193.2,344.4 L195.1,342.2 L197,340.2 L199.6,337.6 L202.2,335.1 L204.3,333.2 L206.4,331.3 L209.1,328.8 L212,326.5 L214.3,324.9 L216.7,323.4 L219.9,321.7 L223.3,320.3 L226,319.5 L228.7,318.7 L232.3,317.8 L235.8,317 L238.6,316.6 L241.5,316.2 L245.1,315.9 L248.7,315.6 L251.6,315.4 L254.4,315.2 L258,315.1 L261.7,315 L264.5,314.9 L267.3,314.9 L271,314.9 L274.6,314.9 L277.5,314.9 L279.6,314.8" stroke="#a040ff" stroke-width="2.4" fill="none" stroke-linejoin="round" stroke-linecap="round"/>
<path d="M171.8,474h0M172,467.5h0M172.1,461.2h0M172.2,454.6h0M172.4,448.3h0M172.5,441.6h0M172.7,435.3h0M172.8,428.6h0M172.8,422.3h0M173,415.7h0M173.1,409.4h0M173.6,402.7h0M174.6,396.5h0M176.2,390h0M177.5,383.8h0M179.1,377.4h0M180.9,371.4h0M183.2,365.1h0M185.5,359.2h0M188.1,353.1h0M190.9,347.4h0M194.5,342.8h0M198.1,339.1h0M201.7,335.6h0M205.4,332.2h0M208.6,329.3h0M212,326.5h0M215.6,324.1h0M219.4,322.1h0M222.7,320.6h0M226,319.5h0M229.4,318.5h0M232.9,317.7h0M236.3,316.9h0M240.1,316.4h0M243.7,316h0M247.2,315.7h0M250.8,315.4h0M254.4,315.2h0M257.8,315.1h0M261.7,315h0M265.3,314.9h0M268.8,314.9h0M272.4,314.9h0M276,314.9h0M279.5,314.8h0" fill="none" stroke="#a040ff" stroke-width="2.8" stroke-linecap="round"/>
<path d="M172.3,474 L172.7,470.5 L173,467.8 L173.3,465.1 L173.7,461.7 L174.1,458.2 L174.5,455.5 L174.8,452.8 L175.2,449.3 L175.7,445.9 L176.1,443.2 L176.6,440.5 L177.1,437.1 L177.7,433.6 L178.1,430.9 L178.5,428.3 L179.1,424.8 L179.6,421.4 L180,418.7 L180.4,416 L181,412.6 L181.5,409.1 L182,406.4 L182.5,403.8 L183.2,400.3 L183.9,396.9 L184.4,394.2 L184.9,391.6 L185.6,388.1 L186.3,384.7 L186.9,382.1 L187.5,379.4 L188.4,376 L189.3,372.6 L190.1,370 L190.9,367.4 L192,364.1 L193.2,360.8 L194.3,358.3 L195.4,355.9 L197,352.8 L199.1,350 L200.8,347.8 L202.5,345.7 L204.6,342.9 L206.9,340.3 L208.8,338.3 L210.7,336.4 L213.3,334.1 L216.2,332.1 L218.5,330.8 L221,329.6 L224.2,328.3 L227.5,327.1 L230.1,326.3 L232.7,325.6 L236.1,324.8 L239.6,324 L242.2,323.5 L244.9,323 L248.3,322.4 L251.8,321.8 L254.5,321.4 L257.2,320.9 L260.6,320.4 L264.1,320 L266.8,319.7 L269.5,319.4 L272.9,318.9 L276.4,318.5 L279.1,318.2 L280.8,317.1 L279.6,314.8" stroke="#a040ff" stroke-width="2.4" fill="none" stroke-linejoin="round" stroke-linecap="round"/>
<path d="M172.3,474h0M173,467.8h0M173.7,461.8h0M174.5,455.5h0M175.2,449.5h0M176.1,443.2h0M177.1,437.2h0M178.1,430.9h0M179,425h0M180,418.7h0M180.9,412.7h0M182,406.4h0M183.1,400.5h0M184.4,394.2h0M185.6,388.3h0M186.9,382.1h0M188.3,376.2h0M190.1,370h0M191.9,364.3h0M194.3,358.3h0M197,352.9h0M200.3,348.4h0M203.8,344h0M207.2,340h0M210.7,336.4h0M214.4,333.3h0M217.9,331.1h0M221.6,329.4h0M224.8,328.1h0M228.1,326.9h0M231.5,325.9h0M234.9,325.1h0M238.2,324.3h0M241.5,323.6h0M244.9,323h0M248.2,322.4h0M251.8,321.8h0M255.2,321.2h0M258.6,320.7h0M261.9,320.3h0M265.4,319.8h0M268.6,319.4h0M272.3,319h0M275.7,318.6h0M279.1,318.2h0M279.8,315.1h0" fill="none" stroke="#a040ff" stroke-width="2.8" stroke-linecap="round"/>
<path d="M171.8,474 L171.9,470.4 L171.9,467.5 L172,464.7 L172.1,461 L172.2,457.4 L172.2,454.5 L172.3,451.7 L172.4,448.1 L172.4,444.4 L172.5,441.6 L172.6,438.7 L172.6,435.1 L172.7,431.4 L172.7,428.6 L172.7,425.8 L172.8,422.1 L172.8,418.5 L172.9,415.6 L173,412.8 L173.1,409.1 L173.3,405.5 L173.5,402.7 L173.9,399.9 L174.5,396.3 L175.4,392.7 L176.1,390 L176.7,387.2 L177.4,383.6 L178.3,380.1 L179,377.3 L179.8,374.6 L180.9,371.1 L182.1,367.7 L183.1,365 L184.1,362.4 L185.5,359 L186.9,355.6 L188,353 L189.2,350.4 L191,347.2 L193.1,344.3 L195,342.2 L197,340.1 L199.5,337.5 L202.2,335 L204.3,333.1 L206.4,331.2 L209.1,328.8 L211.9,326.5 L214.3,324.9 L216.7,323.4 L219.9,321.7 L223.3,320.3 L226,319.4 L228.7,318.6 L232.2,317.8 L235.8,316.9 L238.6,316.5 L241.4,316.2 L245.1,315.8 L248.7,315.5 L251.5,315.3 L254.4,315.2 L258,315 L261.7,314.9 L264.5,314.9 L267.3,314.9 L271,314.9 L274.6,314.8 L277.5,314.8 L280.3,314.8 L284,314.8 L287.6,314.8 L290.4,314.7 L292.6,314.7" stroke="#ff9933" stroke-width="2.4" fill="none" stroke-linejoin="round" stroke-linecap="round"/>
<path d="M171.8,474h0M171.9,467.5h0M172.1,461.2h0M172.2,454.5h0M172.4,448.2h0M172.5,441.6h0M172.6,435.3h0M172.7,428.6h0M172.8,422.3h0M172.9,415.6h0M173.1,409.3h0M173.5,402.7h0M174.5,396.4h0M176.1,390h0M177.4,383.8h0M179,377.3h0M180.9,371.3h0M183.1,365h0M185.4,359.1h0M188,353h0M190.9,347.4h0M194.5,342.8h0M198,339.1h0M201.7,335.5h0M205.4,332.1h0M208.6,329.2h0M211.9,326.5h0M215.5,324.1h0M219.3,322h0M222.6,320.5h0M226,319.4h0M229.4,318.5h0M232.9,317.6h0M236.3,316.8h0M240.1,316.3h0M243.7,315.9h0M247.2,315.6h0M250.7,315.4h0M254.4,315.2h0M257.8,315h0M261.7,314.9h0M265.3,314.9h0M268.8,314.9h0M272.3,314.9h0M276,314.8h0M279.4,314.8h0M283.3,314.8h0M286.9,314.8h0M290.4,314.7h0" fill="none" stroke="#ff9933" stroke-width="2.8" stroke-linecap="round"/>
<path d="M172.4,474 L172.9,470.6 L173.2,467.9 L173.5,465.2 L174,461.8 L174.4,458.3 L174.8,455.6 L175.2,453 L175.7,449.5 L176.2,446.1 L176.7,443.4 L177.2,440.8 L177.8,437.4 L178.5,434 L179,431.3 L179.4,428.7 L180.1,425.2 L180.7,421.8 L181.1,419.2 L181.6,416.5 L182.2,413.1 L182.8,409.7 L183.3,407 L183.8,404.4 L184.5,401 L185.2,397.6 L185.7,394.9 L186.2,392.2 L186.9,388.8 L187.6,385.4 L188.1,382.8 L188.7,380.1 L189.5,376.8 L190.4,373.4 L191.1,370.8 L191.9,368.2 L193,364.9 L194.2,361.7 L195.2,359.2 L196.3,356.7 L198,353.6 L200.1,350.9 L201.7,348.7 L203.3,346.5 L205.4,343.8 L207.6,341.1 L209.5,339.2 L211.4,337.2 L214,334.9 L216.8,332.9 L219.2,331.7 L221.7,330.6 L224.9,329.4 L228.2,328.2 L230.8,327.4 L233.4,326.7 L236.8,325.9 L240.1,325.1 L242.8,324.6 L245.4,324 L248.8,323.4 L252.3,322.8 L254.9,322.3 L257.6,321.8 L261,321.3 L264.5,320.8 L267.1,320.4 L269.8,320 L273.2,319.6 L276.7,319.1 L279.3,318.7 L282,318.3 L285.4,317.7 L288.9,317.2 L291.5,316.8 L292.9,315.2 L292.6,314.7" stroke="#ff9933" stroke-width="2.4" fill="none" stroke-linejoin="round" stroke-linecap="round"/>
<path d="M172.4,474h0M173.2,467.9h0M174,461.8h0M174.8,455.6h0M175.7,449.5h0M176.7,443.4h0M177.8,437.4h0M179,431.3h0M180.1,425.2h0M181.1,419.2h0M182.2,413.1h0M183.3,407h0M184.5,401h0M185.7,394.9h0M186.9,389h0M188.1,382.8h0M189.5,376.8h0M191.1,370.8h0M193,364.9h0M195.2,359.2h0M198,353.6h0M201.2,349.3h0M204.6,344.8h0M207.9,340.8h0M211.4,337.2h0M215,334.2h0M218.5,332h0M222.3,330.4h0M225.5,329.1h0M228.8,328h0M232.1,327h0M235.5,326.2h0M238.8,325.4h0M242,324.7h0M245.4,324h0M248.7,323.4h0M252.3,322.8h0M255.7,322.2h0M259,321.6h0M262.3,321.1h0M265.7,320.6h0M269,320.2h0M272.6,319.7h0M276,319.2h0M279.3,318.7h0M282.7,318.2h0M286.1,317.6h0M289.3,317.1h0M292.9,316.5h0" fill="none" stroke="#ff9933" stroke-width="2.8" stroke-linecap="round"/>
<path d="M171.8,474 L171.9,470.3 L171.9,467.5 L172,464.7 L172.1,461 L172.1,457.4 L172.2,454.5 L172.3,451.7 L172.3,448 L172.4,444.4 L172.5,441.6 L172.5,438.7 L172.6,435.1 L172.6,431.4 L172.6,428.6 L172.7,425.7 L172.7,422.1 L172.8,418.4 L172.8,415.6 L172.9,412.8 L173,409.1 L173.2,405.5 L173.5,402.6 L173.8,399.8 L174.5,396.2 L175.4,392.7 L176,389.9 L176.6,387.1 L177.4,383.6 L178.2,380 L178.9,377.3 L179.7,374.6 L180.9,371.1 L182.1,367.6 L183.1,365 L184.1,362.3 L185.4,358.9 L186.8,355.6 L187.9,353 L189.2,350.4 L190.9,347.2 L193.1,344.2 L195,342.1 L196.9,340.1 L199.5,337.5 L202.1,335 L204.2,333.1 L206.3,331.2 L209.1,328.7 L211.9,326.4 L214.2,324.8 L216.6,323.3 L219.9,321.6 L223.2,320.2 L225.9,319.3 L228.7,318.6 L232.2,317.7 L235.8,316.9 L238.6,316.4 L241.4,316.1 L245,315.7 L248.7,315.5 L251.5,315.3 L254.3,315.1 L258,315 L261.6,314.9 L264.5,314.8 L267.3,314.8 L271,314.8 L274.6,314.8 L277.4,314.8 L280.3,314.8 L283.9,314.8 L287.6,314.7 L290.4,314.7 L293.3,314.7 L296.9,314.7 L300.6,314.7 L303.4,314.6 L305.6,314.6" stroke="#707070" stroke-width="2.4" fill="none" stroke-linejoin="round" stroke-linecap="round"/>
<path d="M171.8,474h0M171.9,467.5h0M172.1,461.2h0M172.2,454.5h0M172.3,448.2h0M172.5,441.6h0M172.6,435.2h0M172.6,428.6h0M172.7,422.3h0M172.8,415.6h0M173,409.3h0M173.5,402.6h0M174.4,396.4h0M176,389.9h0M177.3,383.8h0M178.9,377.3h0M180.8,371.3h0M183.1,365h0M185.3,359.1h0M187.9,353h0M190.8,347.3h0M194.4,342.7h0M198,339h0M201.6,335.5h0M205.3,332.1h0M208.6,329.2h0M211.9,326.4h0M215.5,324h0M219.3,321.9h0M222.6,320.5h0M225.9,319.3h0M229.3,318.4h0M232.9,317.5h0M236.2,316.8h0M240,316.2h0M243.7,315.9h0M247.2,315.6h0M250.7,315.3h0M254.3,315.1h0M257.8,315h0M261.6,314.9h0M265.3,314.8h0M268.8,314.8h0M272.3,314.8h0M276,314.8h0M279.4,314.8h0M283.3,314.8h0M286.9,314.7h0M290.4,314.7h0M294,314.7h0M297.6,314.7h0M301.1,314.7h0M304.9,314.6h0" fill="none" stroke="#707070" stroke-width="2.8" stroke-linecap="round"/>
<path d="M172.5,474 L173,470.6 L173.3,467.9 L173.7,465.3 L174.2,461.8 L174.7,458.4 L175.1,455.8 L175.5,453.1 L176.1,449.7 L176.7,446.3 L177.2,443.6 L177.7,441 L178.4,437.6 L179.1,434.3 L179.7,431.6 L180.2,429 L180.9,425.6 L181.5,422.2 L182,419.6 L182.6,416.9 L183.2,413.5 L183.9,410.1 L184.4,407.5 L184.9,404.9 L185.6,401.5 L186.3,398.1 L186.8,395.5 L187.3,392.8 L187.9,389.4 L188.6,386 L189.2,383.4 L189.7,380.8 L190.5,377.4 L191.3,374.1 L192,371.5 L192.8,368.9 L193.9,365.6 L195,362.3 L196,359.8 L197.1,357.4 L198.8,354.4 L200.9,351.6 L202.4,349.4 L204,347.3 L206,344.5 L208.2,341.8 L210.1,339.8 L212,337.9 L214.5,335.6 L217.4,333.7 L219.8,332.5 L222.2,331.4 L225.5,330.2 L228.7,329.1 L231.3,328.3 L233.9,327.6 L237.3,326.8 L240.6,326 L243.3,325.5 L245.9,324.9 L249.3,324.2 L252.7,323.6 L255.3,323.1 L257.9,322.6 L261.4,322 L264.8,321.4 L267.4,321 L270.1,320.6 L273.5,320.1 L276.9,319.5 L279.6,319.1 L282.2,318.6 L285.6,318 L289,317.5 L291.7,317 L294.3,316.5 L297.7,316 L301.1,315.5 L303.8,315.1 L305.6,314.6" stroke="#707070" stroke-width="2.4" fill="none" stroke-linejoin="round" stroke-linecap="round"/>
<path d="M172.5,474h0M173.3,467.9h0M174.2,461.8h0M175.1,455.8h0M176.1,449.7h0M177.2,443.6h0M178.4,437.6h0M179.7,431.6h0M180.9,425.6h0M182,419.6h0M183.2,413.5h0M184.4,407.5h0M185.6,401.5h0M186.8,395.5h0M187.9,389.4h0M189.2,383.4h0M190.5,377.4h0M192,371.5h0M193.9,365.6h0M196,359.8h0M198.8,354.4h0M202,350h0M205.3,345.5h0M208.5,341.4h0M212,337.9h0M215.6,334.9h0M219.1,332.8h0M222.8,331.2h0M226.1,330h0M229.3,328.9h0M232.7,327.9h0M236,327.1h0M239.3,326.3h0M242.5,325.6h0M245.9,324.9h0M249.1,324.3h0M252.7,323.6h0M256,322.9h0M259.3,322.3h0M262.6,321.8h0M266,321.2h0M269.3,320.8h0M272.9,320.2h0M276.3,319.7h0M279.6,319.1h0M282.8,318.5h0M286.2,317.9h0M289.5,317.4h0M293,316.8h0M296.4,316.2h0M299.7,315.7h0M303.1,315.2h0" fill="none" stroke="#707070" stroke-width="2.8" stroke-linecap="round"/>
<path d="M171.9,469.7h0M172,462.4h0M172.2,455.3h0M172.3,448.2h0M172.5,440.8h0M172.6,433.7h0M172.7,426.6h0M172.8,419.1h0M172.9,412.1h0M173.2,405h0M174.2,397.6h0M175.8,390.7h0M177.3,383.8h0M179.2,376.5h0M181.3,369.8h0M183.8,363.1h0M186.5,356.2h0M189.2,350.4h0M192.2,345.4h0M195,342.1h0M198,339h0M201.1,336h0M204.2,333.1h0M206.9,330.7h0M209.6,328.3h0M212.3,326.1h0M214.9,324.4h0M218,322.6h0M221.1,321.1h0M223.9,320h0M226.7,319.1h0M229.3,318.4h0M232,317.7h0M235.1,317h0M237.8,316.5h0M240.5,316.2h0M243.7,315.9h0M246.4,315.6h0M249.1,315.4h0M252.3,315.2h0M255,315.1h0M257.8,315h0M260.9,314.9h0M263.7,314.9h0M266.4,314.8h0M269.6,314.8h0M272.3,314.8h0M275.1,314.8h0M278.2,314.8h0M281,314.8h0M283.8,314.8h0M286.9,314.7h0M289.6,314.7h0M292.4,314.7h0" fill="none" stroke="#765646" stroke-width="2.6" stroke-linecap="round"/>
<path d="M171.9,469.7h0M172,462.4h0M172.2,455.3h0M172.3,448.2h0M172.5,440.8h0M172.6,433.7h0M172.7,426.6h0M172.8,419.1h0M172.9,412.1h0M173.2,405h0M174.2,397.6h0M175.8,390.7h0M177.3,383.8h0M179.2,376.5h0M181.3,369.8h0M183.8,363.1h0M186.5,356.2h0M189.2,350.4h0M192.2,345.4h0M195,342.1h0M198,339h0M201.1,336h0M204.2,333.1h0M206.9,330.7h0M209.6,328.3h0M212.3,326.1h0M214.9,324.4h0M218,322.6h0M221.1,321.1h0M223.9,320h0M226.7,319.1h0M229.3,318.4h0M232,317.7h0M235.1,317h0M237.8,316.5h0M240.5,316.2h0M243.7,315.9h0M246.4,315.6h0M249.1,315.4h0M252.3,315.2h0M255,315.1h0M257.8,315h0M260.9,314.9h0M263.7,314.9h0M266.4,314.8h0M269.6,314.8h0M272.3,314.8h0M275.1,314.8h0M278.2,314.8h0M281,314.8h0M283.8,314.8h0M286.9,314.7h0M289.6,314.7h0M292.4,314.7h0" fill="none" stroke="#b89888" stroke-width="1.1" stroke-linecap="round"/>
<path d="M295.5,314.7h0M298.3,314.7h0M301.1,314.7h0M304.2,314.6h0M306.9,314.6h0M309.7,314.6h0" fill="none" stroke="#707070" stroke-width="2.6" stroke-linecap="round"/>
<path d="M295.5,314.7h0M298.3,314.7h0M301.1,314.7h0M304.2,314.6h0M306.9,314.6h0M309.7,314.6h0" fill="none" stroke="#b0b0b0" stroke-width="1.1" stroke-linecap="round"/>
<path d="M173.1,469.9h0M174.1,462.5h0M175.2,455h0M176.4,447.7h0M177.9,440.4h0M179.3,433.5h0M180.7,426.2h0M182.2,418.8h0M183.6,411.5h0M185.1,404.2h0M186.4,397.3h0M187.8,390h0M189.3,382.7h0M191,375.4h0M193,368.3h0M195.3,361.6h0M198.2,355.5h0M200.9,351.6h0M203.5,347.9h0M206.4,344h0M209.1,340.9h0M212,337.9h0M214.7,335.5h0M217.4,333.7h0M220.4,332.2h0M223.5,330.9h0M226.7,329.8h0M229.3,328.9h0M232,328.1h0M235.3,327.3h0M237.9,326.6h0M240.6,326h0M243.3,325.5h0M245.9,324.9h0M248.6,324.4h0M251.3,323.8h0M253.9,323.3h0M256.7,322.8h0M259.3,322.3h0M262,321.9h0M264.8,321.4h0M267.4,321h0M270.1,320.6h0M272.9,320.2h0M275.5,319.8h0M278.2,319.3h0M280.9,318.9h0M283.6,318.4h0M286.2,317.9h0M289,317.5h0M291.7,317h0" fill="none" stroke="#765646" stroke-width="2.6" stroke-linecap="round"/>
<path d="M173.1,469.9h0M174.1,462.5h0M175.2,455h0M176.4,447.7h0M177.9,440.4h0M179.3,433.5h0M180.7,426.2h0M182.2,418.8h0M183.6,411.5h0M185.1,404.2h0M186.4,397.3h0M187.8,390h0M189.3,382.7h0M191,375.4h0M193,368.3h0M195.3,361.6h0M198.2,355.5h0M200.9,351.6h0M203.5,347.9h0M206.4,344h0M209.1,340.9h0M212,337.9h0M214.7,335.5h0M217.4,333.7h0M220.4,332.2h0M223.5,330.9h0M226.7,329.8h0M229.3,328.9h0M232,328.1h0M235.3,327.3h0M237.9,326.6h0M240.6,326h0M243.3,325.5h0M245.9,324.9h0M248.6,324.4h0M251.3,323.8h0M253.9,323.3h0M256.7,322.8h0M259.3,322.3h0M262,321.9h0M264.8,321.4h0M267.4,321h0M270.1,320.6h0M272.9,320.2h0M275.5,319.8h0M278.2,319.3h0M280.9,318.9h0M283.6,318.4h0M286.2,317.9h0M289,317.5h0M291.7,317h0" fill="none" stroke="#b89888" stroke-width="1.1" stroke-linecap="round"/>
<path d="M294.3,316.5h0M297.1,316.1h0M299.7,315.7h0M302.4,315.3h0M305.2,315h0M307.9,314.6h0" fill="none" stroke="#707070" stroke-width="2.6" stroke-linecap="round"/>
<path d="M294.3,316.5h0M297.1,316.1h0M299.7,315.7h0M302.4,315.3h0M305.2,315h0M307.9,314.6h0" fill="none" stroke="#b0b0b0" stroke-width="1.1" stroke-linecap="round"/>
<rect x="57.1" y="279" width="257.2" height="196" stroke="#000" stroke-width="1.5" fill="none"/>
<line x1="62.3" y1="475" x2="62.3" y2="471" stroke="#000" stroke-width="1.2"/>
<line x1="89.7" y1="475" x2="89.7" y2="472.5" stroke="#000" stroke-width="1.2"/>
<line x1="117.1" y1="475" x2="117.1" y2="471" stroke="#000" stroke-width="1.2"/>
<line x1="144.5" y1="475" x2="144.5" y2="472.5" stroke="#000" stroke-width="1.2"/>
<line x1="171.9" y1="475" x2="171.9" y2="471" stroke="#000" stroke-width="1.2"/>
<line x1="199.3" y1="475" x2="199.3" y2="472.5" stroke="#000" stroke-width="1.2"/>
<line x1="226.7" y1="475" x2="226.7" y2="471" stroke="#000" stroke-width="1.2"/>
<line x1="254.1" y1="475" x2="254.1" y2="472.5" stroke="#000" stroke-width="1.2"/>
<line x1="281.5" y1="475" x2="281.5" y2="471" stroke="#000" stroke-width="1.2"/>
<line x1="308.9" y1="475" x2="308.9" y2="472.5" stroke="#000" stroke-width="1.2"/>
<text x="62.3" y="491.5" style="font-family:'Liberation Sans'" font-size="13" font-weight="bold" fill="#000" text-anchor="middle">-2</text>
<text x="117.1" y="491.5" style="font-family:'Liberation Sans'" font-size="13" font-weight="bold" fill="#000" text-anchor="middle">-1</text>
<text x="171.9" y="491.5" style="font-family:'Liberation Sans'" font-size="13" font-weight="bold" fill="#000" text-anchor="middle">0</text>
<text x="226.7" y="491.5" style="font-family:'Liberation Sans'" font-size="13" font-weight="bold" fill="#000" text-anchor="middle">1</text>
<text x="281.5" y="491.5" style="font-family:'Liberation Sans'" font-size="13" font-weight="bold" fill="#000" text-anchor="middle">2</text>
<line x1="57.1" y1="475" x2="61.1" y2="475" stroke="#000" stroke-width="1.2"/>
<line x1="57.1" y1="463.2" x2="59.1" y2="463.2" stroke="#000" stroke-width="1.0"/>
<line x1="57.1" y1="456.3" x2="59.1" y2="456.3" stroke="#000" stroke-width="1.0"/>
<line x1="57.1" y1="451.4" x2="59.1" y2="451.4" stroke="#000" stroke-width="1.0"/>
<line x1="57.1" y1="447.6" x2="59.1" y2="447.6" stroke="#000" stroke-width="1.0"/>
<line x1="57.1" y1="444.5" x2="59.1" y2="444.5" stroke="#000" stroke-width="1.0"/>
<line x1="57.1" y1="441.9" x2="59.1" y2="441.9" stroke="#000" stroke-width="1.0"/>
<line x1="57.1" y1="439.6" x2="59.1" y2="439.6" stroke="#000" stroke-width="1.0"/>
<line x1="57.1" y1="437.6" x2="59.1" y2="437.6" stroke="#000" stroke-width="1.0"/>
<line x1="57.1" y1="435.8" x2="61.1" y2="435.8" stroke="#000" stroke-width="1.2"/>
<line x1="57.1" y1="424" x2="59.1" y2="424" stroke="#000" stroke-width="1.0"/>
<line x1="57.1" y1="417.1" x2="59.1" y2="417.1" stroke="#000" stroke-width="1.0"/>
<line x1="57.1" y1="412.2" x2="59.1" y2="412.2" stroke="#000" stroke-width="1.0"/>
<line x1="57.1" y1="408.4" x2="59.1" y2="408.4" stroke="#000" stroke-width="1.0"/>
<line x1="57.1" y1="405.3" x2="59.1" y2="405.3" stroke="#000" stroke-width="1.0"/>
<line x1="57.1" y1="402.7" x2="59.1" y2="402.7" stroke="#000" stroke-width="1.0"/>
<line x1="57.1" y1="400.4" x2="59.1" y2="400.4" stroke="#000" stroke-width="1.0"/>
<line x1="57.1" y1="398.4" x2="59.1" y2="398.4" stroke="#000" stroke-width="1.0"/>
<line x1="57.1" y1="396.6" x2="61.1" y2="396.6" stroke="#000" stroke-width="1.2"/>
<line x1="57.1" y1="384.8" x2="59.1" y2="384.8" stroke="#000" stroke-width="1.0"/>
<line x1="57.1" y1="377.9" x2="59.1" y2="377.9" stroke="#000" stroke-width="1.0"/>
<line x1="57.1" y1="373" x2="59.1" y2="373" stroke="#000" stroke-width="1.0"/>
<line x1="57.1" y1="369.2" x2="59.1" y2="369.2" stroke="#000" stroke-width="1.0"/>
<line x1="57.1" y1="366.1" x2="59.1" y2="366.1" stroke="#000" stroke-width="1.0"/>
<line x1="57.1" y1="363.5" x2="59.1" y2="363.5" stroke="#000" stroke-width="1.0"/>
<line x1="57.1" y1="361.2" x2="59.1" y2="361.2" stroke="#000" stroke-width="1.0"/>
<line x1="57.1" y1="359.2" x2="59.1" y2="359.2" stroke="#000" stroke-width="1.0"/>
<line x1="57.1" y1="357.4" x2="61.1" y2="357.4" stroke="#000" stroke-width="1.2"/>
<line x1="57.1" y1="345.6" x2="59.1" y2="345.6" stroke="#000" stroke-width="1.0"/>
<line x1="57.1" y1="338.7" x2="59.1" y2="338.7" stroke="#000" stroke-width="1.0"/>
<line x1="57.1" y1="333.8" x2="59.1" y2="333.8" stroke="#000" stroke-width="1.0"/>
<line x1="57.1" y1="330" x2="59.1" y2="330" stroke="#000" stroke-width="1.0"/>
<line x1="57.1" y1="326.9" x2="59.1" y2="326.9" stroke="#000" stroke-width="1.0"/>
<line x1="57.1" y1="324.3" x2="59.1" y2="324.3" stroke="#000" stroke-width="1.0"/>
<line x1="57.1" y1="322" x2="59.1" y2="322" stroke="#000" stroke-width="1.0"/>
<line x1="57.1" y1="320" x2="59.1" y2="320" stroke="#000" stroke-width="1.0"/>
<line x1="57.1" y1="318.2" x2="61.1" y2="318.2" stroke="#000" stroke-width="1.2"/>
<line x1="57.1" y1="306.4" x2="59.1" y2="306.4" stroke="#000" stroke-width="1.0"/>
<line x1="57.1" y1="299.5" x2="59.1" y2="299.5" stroke="#000" stroke-width="1.0"/>
<line x1="57.1" y1="294.6" x2="59.1" y2="294.6" stroke="#000" stroke-width="1.0"/>
<line x1="57.1" y1="290.8" x2="59.1" y2="290.8" stroke="#000" stroke-width="1.0"/>
<line x1="57.1" y1="287.7" x2="59.1" y2="287.7" stroke="#000" stroke-width="1.0"/>
<line x1="57.1" y1="285.1" x2="59.1" y2="285.1" stroke="#000" stroke-width="1.0"/>
<line x1="57.1" y1="282.8" x2="59.1" y2="282.8" stroke="#000" stroke-width="1.0"/>
<line x1="57.1" y1="280.8" x2="59.1" y2="280.8" stroke="#000" stroke-width="1.0"/>
<line x1="57.1" y1="279" x2="61.1" y2="279" stroke="#000" stroke-width="1.2"/>
<text x="52.8" y="282.6" style="font-family:'Liberation Sans'" font-size="13" font-weight="bold" fill="#000" text-anchor="end">10</text>
<text x="52.8" y="322.8" style="font-family:'Liberation Sans'" font-size="13" font-weight="bold" fill="#000" text-anchor="end">1</text>
<text x="52.8" y="362" style="font-family:'Liberation Sans'" font-size="13" font-weight="bold" fill="#000" text-anchor="end">0.1</text>
<text x="52.8" y="401.2" style="font-family:'Liberation Sans'" font-size="13" font-weight="bold" fill="#000" text-anchor="end">0.01</text>
<text x="52.8" y="440.4" style="font-family:'Liberation Sans'" font-size="13" font-weight="bold" fill="#000" text-anchor="end">1E-3</text>
<text x="52.8" y="479.6" style="font-family:'Liberation Sans'" font-size="13" font-weight="bold" fill="#000" text-anchor="end">1E-4</text>
<text x="194.1" y="508" style="font-family:'Liberation Sans'" font-size="14" font-weight="bold" fill="#000" text-anchor="middle">Voltage (V)</text>
<text x="19.5" y="377.5" font-size="14" font-weight="bold" text-anchor="middle" transform="rotate(-90 19.5 377.5)">Current <tspan style="font-family:'Liberation Serif'" font-weight="normal" font-size="13">(μA)</tspan></text>
<text x="5.3" y="284.3" style="font-family:'Liberation Serif'" font-size="22" font-weight="normal" fill="#000" text-anchor="start">(c)</text>
<path d="M65.2,308.7 C65.1,307.1 64.5,301.9 64.8,299 C65.1,296.1 66.1,293.5 67.3,291.3 C68.5,289.1 70.2,287.4 72,286 C73.8,284.6 74.8,283.8 78,283 C81.2,282.2 88.8,281.6 91,281.3" stroke="#2222a0" stroke-width="1.8" fill="none" stroke-linejoin="round" stroke-linecap="round"/>
<path d="M91,281.3 L83.5,285.6 L82.6,279.1 Z" fill="#2222a0"/>
<text x="71.7" y="319.6" style="font-family:'Liberation Sans'" font-size="10.1" font-weight="bold" fill="#2222a0" text-anchor="middle">SET</text>
<text x="252.5" y="302.8" style="font-family:'Liberation Sans'" font-size="10.3" font-weight="bold" fill="#2222a0" text-anchor="middle">RESET</text>
<path d="M270.7,299.5 C272.9,299.6 280.5,298.6 284,300 C287.5,301.4 290.5,304.7 291.5,308 C292.5,311.3 291.3,316.6 290,320 C288.7,323.4 286,326.3 283.5,328.5 C281,330.7 276.5,332.2 275.1,333" stroke="#2222a0" stroke-width="1.7" fill="none" stroke-linejoin="round" stroke-linecap="round"/>
<path d="M275.1,333 L280.3,326.8 L283.1,332.1 Z" fill="#2222a0"/>
<text x="193.3" y="324.8" style="font-family:'Liberation Sans'" font-size="10.3" font-weight="bold" fill="#2222a0" text-anchor="middle">LRS's</text>
<line x1="176" y1="323" x2="154" y2="317.3" stroke="#2222a0" stroke-width="1.8" stroke-dasharray="3,2"/>
<path d="M149,316 L157,315 L155.5,320.8 Z" fill="#2222a0"/>
<line x1="176" y1="323" x2="152" y2="325.1" stroke="#2222a0" stroke-width="1.8" stroke-dasharray="3,2"/>
<path d="M147,325.5 L154.2,321.9 L154.7,327.8 Z" fill="#2222a0"/>
<line x1="176" y1="323" x2="153.5" y2="334.5" stroke="#2222a0" stroke-width="1.8" stroke-dasharray="3,2"/>
<path d="M148.5,337 L153.8,330.9 L156.5,336.3 Z" fill="#2222a0"/>
<line x1="176" y1="323" x2="155" y2="341.9" stroke="#2222a0" stroke-width="1.8" stroke-dasharray="3,2"/>
<path d="M150,346 L153.6,338.8 L157.6,343.3 Z" fill="#2222a0"/>
<text x="106.6" y="371" style="font-family:'Liberation Sans'" font-size="10.3" font-weight="bold" fill="#2222a0" text-anchor="middle">HRS's</text>
<line x1="121" y1="373" x2="140.3" y2="366.2" stroke="#2222a0" stroke-width="1.8" stroke-dasharray="3,2"/>
<path d="M145,364.5 L138.9,369.8 L136.9,364.2 Z" fill="#2222a0"/>
<line x1="121" y1="373" x2="145.5" y2="382.6" stroke="#2222a0" stroke-width="1.8" stroke-dasharray="3,2"/>
<path d="M150.2,384.4 L142.1,384.5 L144.3,378.9 Z" fill="#2222a0"/>
<line x1="133.1" y1="360" x2="133.1" y2="365" stroke="#2222a0" stroke-width="1.8" stroke-dasharray="3,2"/>
<path d="M133.1,370 L130.1,362.5 L136.1,362.5 Z" fill="#2222a0"/>
<ellipse cx="154.6" cy="381" rx="4" ry="25" stroke="#2222a0" stroke-width="1.5" fill="none"/>
<path d="M153.8,406 L153.8,459.6 L181,459.6" stroke="#2222a0" stroke-width="1.6" fill="none" stroke-linejoin="round" stroke-linecap="round"/>
<path d="M187,459.6 L180,462.1 L180,457.1 Z" fill="#2222a0"/>
<text x="193" y="443.4" style="font-family:'Liberation Sans'" font-size="10.4" font-weight="bold" fill="#2222a0" text-anchor="start">Gradual</text>
<text x="193" y="456.3" style="font-family:'Liberation Sans'" font-size="10.4" font-weight="bold" fill="#2222a0" text-anchor="start">Current</text>
<text x="193" y="469" style="font-family:'Liberation Sans'" font-size="10.4" font-weight="bold" fill="#2222a0" text-anchor="start">Increase</text>
<text x="64.2" y="380.4" style="font-family:'Liberation Sans'" font-size="11.7" font-weight="bold" fill="#000" text-anchor="start">SET:</text>
<line x1="64.2" y1="382.5" x2="89.7" y2="382.5" stroke="#000" stroke-width="1.2"/>
<line x1="72.4" y1="387.6" x2="90.8" y2="387.6" stroke="#ff3030" stroke-width="1.6"/>
<circle cx="81.6" cy="387.6" r="1.4" stroke="#ff3030" stroke-width="0.6" fill="#ff3030"/>
<text x="92.8" y="391.4" style="font-family:'Liberation Sans'" font-size="10.5" font-weight="bold" fill="#000" text-anchor="start">@-0.5V</text>
<line x1="72.4" y1="400.7" x2="90.8" y2="400.7" stroke="#44ee44" stroke-width="1.6"/>
<circle cx="81.6" cy="400.7" r="1.4" stroke="#44ee44" stroke-width="0.6" fill="#44ee44"/>
<text x="92.8" y="404.5" style="font-family:'Liberation Sans'" font-size="10.5" font-weight="bold" fill="#000" text-anchor="start">@-0.75V</text>
<line x1="72.4" y1="413.7" x2="90.8" y2="413.7" stroke="#6060ff" stroke-width="1.6"/>
<circle cx="81.6" cy="413.7" r="1.4" stroke="#6060ff" stroke-width="0.6" fill="#6060ff"/>
<text x="92.8" y="417.5" style="font-family:'Liberation Sans'" font-size="10.5" font-weight="bold" fill="#000" text-anchor="start">@-1V</text>
<line x1="72.4" y1="426.8" x2="90.8" y2="426.8" stroke="#44ffff" stroke-width="1.6"/>
<circle cx="81.6" cy="426.8" r="1.4" stroke="#44ffff" stroke-width="0.6" fill="#44ffff"/>
<text x="92.8" y="430.6" style="font-family:'Liberation Sans'" font-size="10.5" font-weight="bold" fill="#000" text-anchor="start">@-1.25V</text>
<line x1="72.4" y1="439.8" x2="90.8" y2="439.8" stroke="#ff55ff" stroke-width="1.6"/>
<circle cx="81.6" cy="439.8" r="1.4" stroke="#ff55ff" stroke-width="0.6" fill="#ff55ff"/>
<text x="92.8" y="443.6" style="font-family:'Liberation Sans'" font-size="10.5" font-weight="bold" fill="#000" text-anchor="start">@-1.5V</text>
<line x1="72.4" y1="452.9" x2="90.8" y2="452.9" stroke="#ffff44" stroke-width="1.6"/>
<circle cx="81.6" cy="452.9" r="1.4" stroke="#ffff44" stroke-width="0.6" fill="#ffff44"/>
<text x="92.8" y="456.7" style="font-family:'Liberation Sans'" font-size="10.5" font-weight="bold" fill="#000" text-anchor="start">@-1.75V</text>
<line x1="72.4" y1="465.9" x2="90.8" y2="465.9" stroke="#7a7a7a" stroke-width="1.6"/>
<circle cx="81.6" cy="465.9" r="1.4" stroke="#7a7a7a" stroke-width="0.6" fill="#7a7a7a"/>
<text x="92.8" y="469.7" style="font-family:'Liberation Sans'" font-size="10.5" font-weight="bold" fill="#000" text-anchor="start">@-2V</text>
<text x="252.8" y="348.7" style="font-family:'Liberation Sans'" font-size="11.5" font-weight="bold" fill="#000" text-anchor="start">RESET:</text>
<line x1="252.8" y1="350.8" x2="293.7" y2="350.8" stroke="#000" stroke-width="1.2"/>
<line x1="252.1" y1="359.1" x2="269.6" y2="359.1" stroke="#ff3030" stroke-width="1.6"/>
<circle cx="260.8" cy="359.1" r="1.4" stroke="#ff3030" stroke-width="0.6" fill="#ff3030"/>
<text x="271.8" y="362.9" style="font-family:'Liberation Sans'" font-size="10.5" font-weight="bold" fill="#000" text-anchor="start">@0.5V</text>
<line x1="252.1" y1="372.1" x2="269.6" y2="372.1" stroke="#44ee44" stroke-width="1.6"/>
<circle cx="260.8" cy="372.1" r="1.4" stroke="#44ee44" stroke-width="0.6" fill="#44ee44"/>
<text x="271.8" y="375.9" style="font-family:'Liberation Sans'" font-size="10.5" font-weight="bold" fill="#000" text-anchor="start">@0.75V</text>
<line x1="252.1" y1="385.1" x2="269.6" y2="385.1" stroke="#6060ff" stroke-width="1.6"/>
<circle cx="260.8" cy="385.1" r="1.4" stroke="#6060ff" stroke-width="0.6" fill="#6060ff"/>
<text x="271.8" y="388.9" style="font-family:'Liberation Sans'" font-size="10.5" font-weight="bold" fill="#000" text-anchor="start">@1V</text>
<line x1="252.1" y1="398.1" x2="269.6" y2="398.1" stroke="#44ffff" stroke-width="1.6"/>
<circle cx="260.8" cy="398.1" r="1.4" stroke="#44ffff" stroke-width="0.6" fill="#44ffff"/>
<text x="271.8" y="401.9" style="font-family:'Liberation Sans'" font-size="10.5" font-weight="bold" fill="#000" text-anchor="start">@1.25V</text>
<line x1="252.1" y1="411.1" x2="269.6" y2="411.1" stroke="#ff55ff" stroke-width="1.6"/>
<circle cx="260.8" cy="411.1" r="1.4" stroke="#ff55ff" stroke-width="0.6" fill="#ff55ff"/>
<text x="271.8" y="414.9" style="font-family:'Liberation Sans'" font-size="10.5" font-weight="bold" fill="#000" text-anchor="start">@1.5V</text>
<line x1="252.1" y1="424.1" x2="269.6" y2="424.1" stroke="#ffff44" stroke-width="1.6"/>
<circle cx="260.8" cy="424.1" r="1.4" stroke="#ffff44" stroke-width="0.6" fill="#ffff44"/>
<text x="271.8" y="427.9" style="font-family:'Liberation Sans'" font-size="10.5" font-weight="bold" fill="#000" text-anchor="start">@1.75V</text>
<line x1="252.1" y1="437.1" x2="269.6" y2="437.1" stroke="#a040ff" stroke-width="1.6"/>
<circle cx="260.8" cy="437.1" r="1.4" stroke="#a040ff" stroke-width="0.6" fill="#a040ff"/>
<text x="271.8" y="440.9" style="font-family:'Liberation Sans'" font-size="10.5" font-weight="bold" fill="#000" text-anchor="start">@2V</text>
<line x1="252.1" y1="450.1" x2="269.6" y2="450.1" stroke="#ff9933" stroke-width="1.6"/>
<circle cx="260.8" cy="450.1" r="1.4" stroke="#ff9933" stroke-width="0.6" fill="#ff9933"/>
<text x="271.8" y="453.9" style="font-family:'Liberation Sans'" font-size="10.5" font-weight="bold" fill="#000" text-anchor="start">@2.25V</text>
<line x1="252.1" y1="463.1" x2="269.6" y2="463.1" stroke="#707070" stroke-width="1.6"/>
<circle cx="260.8" cy="463.1" r="1.4" stroke="#707070" stroke-width="0.6" fill="#707070"/>
<text x="271.8" y="466.9" style="font-family:'Liberation Sans'" font-size="10.5" font-weight="bold" fill="#000" text-anchor="start">@2.5V</text>
<line x1="617" y1="295" x2="668.6" y2="294.8" stroke="#111" stroke-width="1.3" stroke-dasharray="1.3,1.7"/>
<line x1="599.4" y1="302.8" x2="668.6" y2="302.9" stroke="#111" stroke-width="1.3" stroke-dasharray="1.3,1.7"/>
<line x1="611.6" y1="314.2" x2="668.6" y2="314.4" stroke="#111" stroke-width="1.3" stroke-dasharray="1.3,1.7"/>
<line x1="611.6" y1="322.1" x2="668.6" y2="322" stroke="#111" stroke-width="1.3" stroke-dasharray="1.3,1.7"/>
<line x1="621.2" y1="333.9" x2="668.6" y2="332.7" stroke="#111" stroke-width="1.3" stroke-dasharray="1.3,1.7"/>
<line x1="616.1" y1="345.6" x2="668.6" y2="338.8" stroke="#111" stroke-width="1.3" stroke-dasharray="1.3,1.7"/>
<line x1="644.9" y1="357.1" x2="668.6" y2="354" stroke="#111" stroke-width="1.3" stroke-dasharray="1.3,1.7"/>
<path d="M436.4,287.6 L439,287.7 L441.6,287.3 L444.1,287.4 L446.4,287.5 L449.1,287 L451.5,287.2 L453.6,288.4 L456.2,288 L458.9,288.2 L461,289.2 L463.5,288.7 L466.1,289.2 L468.6,288.8 L471.2,289 L473.3,288.4 L475.8,288.9 L478.2,289.1 L481,288.5 L483.3,288.6 L485.6,288.2 L488.3,287.2 L490.6,287.9 L493.3,287.9 L495.8,290.9 L498,290.6 L500.4,291.3 L503.1,290.4 L505.3,290.3 L507.6,290.2 L510.3,289.8 L512.9,290 L514.9,289.5 L517.6,290.1 L520.2,289.9 L522.3,290.7 L524.8,290.7 L527.4,289.9 L529.9,289.9 L532.4,290 L534.8,290.8 L537.3,290.2 L539.4,290.5 L542.2,290.3 L544.4,290.9 L547.1,291.2 L549.5,291.5 L551.6,292 L554.5,292.3 L556.8,292.8 L559,292.5 L561.4,292.7 L564,292.6 L566.7,292.6 L568.9,292.1 L571.6,291.4 L573.8,292.1 L576.5,292.1 L579,291.9 L581.3,291.5 L583.9,291.7 L586.3,291.2 L588.5,292.1 L591,292.1 L593.5,292 L595.8,292 L598.1,293.3 L601.1,293.8 L603.4,293 L605.7,294.1 L608,294 L610.7,294 L613,294.5" stroke="#111111" stroke-width="1.2" fill="none" stroke-linejoin="round" stroke-linecap="round"/>
<path d="M436.4,287.6h0M439,287.7h0M441.6,287.3h0M444.1,287.4h0M446.4,287.5h0M449.1,287h0M451.5,287.2h0M453.6,288.4h0M456.2,288h0M458.9,288.2h0M461,289.2h0M463.5,288.7h0M466.1,289.2h0M468.6,288.8h0M471.2,289h0M473.3,288.4h0M475.8,288.9h0M478.2,289.1h0M481,288.5h0M483.3,288.6h0M485.6,288.2h0M488.3,287.2h0M490.6,287.9h0M493.3,287.9h0M495.8,290.9h0M498,290.6h0M500.4,291.3h0M503.1,290.4h0M505.3,290.3h0M507.6,290.2h0M510.3,289.8h0M512.9,290h0M514.9,289.5h0M517.6,290.1h0M520.2,289.9h0M522.3,290.7h0M524.8,290.7h0M527.4,289.9h0M529.9,289.9h0M532.4,290h0M534.8,290.8h0M537.3,290.2h0M539.4,290.5h0M542.2,290.3h0M544.4,290.9h0M547.1,291.2h0M549.5,291.5h0M551.6,292h0M554.5,292.3h0M556.8,292.8h0M559,292.5h0M561.4,292.7h0M564,292.6h0M566.7,292.6h0M568.9,292.1h0M571.6,291.4h0M573.8,292.1h0M576.5,292.1h0M579,291.9h0M581.3,291.5h0M583.9,291.7h0M586.3,291.2h0M588.5,292.1h0M591,292.1h0M593.5,292h0M595.8,292h0M598.1,293.3h0M601.1,293.8h0M603.4,293h0M605.7,294.1h0M608,294h0M610.7,294h0M613,294.5h0" fill="none" stroke="#111111" stroke-width="5.8" stroke-linecap="round"/>
<path d="M436.4,287.6h0M439,287.7h0M441.6,287.3h0M444.1,287.4h0M446.4,287.5h0M449.1,287h0M451.5,287.2h0M453.6,288.4h0M456.2,288h0M458.9,288.2h0M461,289.2h0M463.5,288.7h0M466.1,289.2h0M468.6,288.8h0M471.2,289h0M473.3,288.4h0M475.8,288.9h0M478.2,289.1h0M481,288.5h0M483.3,288.6h0M485.6,288.2h0M488.3,287.2h0M490.6,287.9h0M493.3,287.9h0M495.8,290.9h0M498,290.6h0M500.4,291.3h0M503.1,290.4h0M505.3,290.3h0M507.6,290.2h0M510.3,289.8h0M512.9,290h0M514.9,289.5h0M517.6,290.1h0M520.2,289.9h0M522.3,290.7h0M524.8,290.7h0M527.4,289.9h0M529.9,289.9h0M532.4,290h0M534.8,290.8h0M537.3,290.2h0M539.4,290.5h0M542.2,290.3h0M544.4,290.9h0M547.1,291.2h0M549.5,291.5h0M551.6,292h0M554.5,292.3h0M556.8,292.8h0M559,292.5h0M561.4,292.7h0M564,292.6h0M566.7,292.6h0M568.9,292.1h0M571.6,291.4h0M573.8,292.1h0M576.5,292.1h0M579,291.9h0M581.3,291.5h0M583.9,291.7h0M586.3,291.2h0M588.5,292.1h0M591,292.1h0M593.5,292h0M595.8,292h0M598.1,293.3h0M601.1,293.8h0M603.4,293h0M605.7,294.1h0M608,294h0M610.7,294h0M613,294.5h0" fill="none" stroke="#ccc" stroke-width="1.7" stroke-linecap="round"/>
<path d="M436.4,324.6 L439.1,321 L441.6,316.7 L443.9,315.2 L446.4,312.7 L449,311.9 L451.4,310.2 L453.9,309.7 L456.2,308.9 L458.7,307.5 L461.4,307.3 L463.7,305.8 L466,305 L468.5,305 L471.1,303.8 L473.6,303.5 L475.7,303.5 L478.2,303.3 L480.8,302.5 L483.3,302.2 L485.9,303 L488,302.3 L490.5,303 L493.1,302.9 L495.6,302.2 L497.9,302.3 L500.5,302.3 L502.8,302.5 L505.3,302.4 L507.7,302.4 L510.3,302.5 L512.4,302.9 L515.1,302.5 L517.6,302.4 L520.1,302.8 L522.2,302.3 L524.9,302.4 L527.1,303.3 L529.8,302.8 L532,302.9 L534.6,302.3 L537.1,302.8 L539.5,303 L542.1,302.4 L544.2,303.1 L546.7,303.1 L549.5,302.4 L551.8,303.1 L554.2,302.8 L556.7,303.1 L559.3,302.6 L561.6,303.1 L563.8,303.1 L566.6,302.2 L569.2,302.3 L571.4,303 L573.7,303.3 L576.6,302.5 L578.9,302.7 L581.3,302.9 L583.6,302.6 L586.4,302.6 L588.6,302.6 L591.1,302.6 L593.3,302.9 L596,302.6" stroke="#ff2020" stroke-width="1.2" fill="none" stroke-linejoin="round" stroke-linecap="round"/>
<path d="M436.4,324.6h0M439.1,321h0M441.6,316.7h0M443.9,315.2h0M446.4,312.7h0M449,311.9h0M451.4,310.2h0M453.9,309.7h0M456.2,308.9h0M458.7,307.5h0M461.4,307.3h0M463.7,305.8h0M466,305h0M468.5,305h0M471.1,303.8h0M473.6,303.5h0M475.7,303.5h0M478.2,303.3h0M480.8,302.5h0M483.3,302.2h0M485.9,303h0M488,302.3h0M490.5,303h0M493.1,302.9h0M495.6,302.2h0M497.9,302.3h0M500.5,302.3h0M502.8,302.5h0M505.3,302.4h0M507.7,302.4h0M510.3,302.5h0M512.4,302.9h0M515.1,302.5h0M517.6,302.4h0M520.1,302.8h0M522.2,302.3h0M524.9,302.4h0M527.1,303.3h0M529.8,302.8h0M532,302.9h0M534.6,302.3h0M537.1,302.8h0M539.5,303h0M542.1,302.4h0M544.2,303.1h0M546.7,303.1h0M549.5,302.4h0M551.8,303.1h0M554.2,302.8h0M556.7,303.1h0M559.3,302.6h0M561.6,303.1h0M563.8,303.1h0M566.6,302.2h0M569.2,302.3h0M571.4,303h0M573.7,303.3h0M576.6,302.5h0M578.9,302.7h0M581.3,302.9h0M583.6,302.6h0M586.4,302.6h0M588.6,302.6h0M591.1,302.6h0M593.3,302.9h0M596,302.6h0" fill="none" stroke="#ff2020" stroke-width="5.8" stroke-linecap="round"/>
<path d="M436.4,324.6h0M439.1,321h0M441.6,316.7h0M443.9,315.2h0M446.4,312.7h0M449,311.9h0M451.4,310.2h0M453.9,309.7h0M456.2,308.9h0M458.7,307.5h0M461.4,307.3h0M463.7,305.8h0M466,305h0M468.5,305h0M471.1,303.8h0M473.6,303.5h0M475.7,303.5h0M478.2,303.3h0M480.8,302.5h0M483.3,302.2h0M485.9,303h0M488,302.3h0M490.5,303h0M493.1,302.9h0M495.6,302.2h0M497.9,302.3h0M500.5,302.3h0M502.8,302.5h0M505.3,302.4h0M507.7,302.4h0M510.3,302.5h0M512.4,302.9h0M515.1,302.5h0M517.6,302.4h0M520.1,302.8h0M522.2,302.3h0M524.9,302.4h0M527.1,303.3h0M529.8,302.8h0M532,302.9h0M534.6,302.3h0M537.1,302.8h0M539.5,303h0M542.1,302.4h0M544.2,303.1h0M546.7,303.1h0M549.5,302.4h0M551.8,303.1h0M554.2,302.8h0M556.7,303.1h0M559.3,302.6h0M561.6,303.1h0M563.8,303.1h0M566.6,302.2h0M569.2,302.3h0M571.4,303h0M573.7,303.3h0M576.6,302.5h0M578.9,302.7h0M581.3,302.9h0M583.6,302.6h0M586.4,302.6h0M588.6,302.6h0M591.1,302.6h0M593.3,302.9h0M596,302.6h0" fill="none" stroke="#fff" stroke-width="1.7" stroke-linecap="round"/>
<path d="M436.4,364.1 L439,359.8 L441.5,351.8 L443.8,347.5 L446.3,344.2 L449,340.7 L451.3,338.3 L453.6,337 L456.4,334.2 L458.7,332.7 L461.3,331.6 L463.5,330.9 L466.2,329.1 L468.6,328.4 L471.1,327.4 L473.2,327.2 L475.7,325.9 L478.2,325.5 L480.7,323.9 L483.2,323.4 L485.7,323.1 L488.2,322.8 L490.6,321.7 L493.1,320.9 L495.7,320.3 L497.7,320.4 L500.2,319.6 L502.8,320 L505.3,319.7 L507.8,318.5 L510.3,318.3 L512.4,318.6 L514.9,318 L517.5,317.8 L520,316.8 L522.5,316.2 L524.9,316 L527.4,316.3 L529.7,315.4 L532.3,315.3 L534.6,315.2 L537.3,315.1 L539.9,314.9 L541.9,315.3 L544.3,314.2 L546.9,313.8 L549.1,314.7 L552,314.4 L554.1,314.4 L556.8,313.5 L559.2,314 L561.7,313.9 L564.3,313 L566.7,313.6 L568.9,313.7 L571.4,313.5 L574.1,313.4 L576.3,313.1 L578.6,313.2 L581.5,313.2 L583.8,313 L586.2,313.7 L588.6,313.4 L591,314.1 L593.3,313.2 L596.1,314.3 L598.2,314.1 L600.8,314.5 L603.2,314.5 L605.7,314.6 L608.2,314.2" stroke="#22ee22" stroke-width="1.2" fill="none" stroke-linejoin="round" stroke-linecap="round"/>
<path d="M436.4,364.1h0M439,359.8h0M441.5,351.8h0M443.8,347.5h0M446.3,344.2h0M449,340.7h0M451.3,338.3h0M453.6,337h0M456.4,334.2h0M458.7,332.7h0M461.3,331.6h0M463.5,330.9h0M466.2,329.1h0M468.6,328.4h0M471.1,327.4h0M473.2,327.2h0M475.7,325.9h0M478.2,325.5h0M480.7,323.9h0M483.2,323.4h0M485.7,323.1h0M488.2,322.8h0M490.6,321.7h0M493.1,320.9h0M495.7,320.3h0M497.7,320.4h0M500.2,319.6h0M502.8,320h0M505.3,319.7h0M507.8,318.5h0M510.3,318.3h0M512.4,318.6h0M514.9,318h0M517.5,317.8h0M520,316.8h0M522.5,316.2h0M524.9,316h0M527.4,316.3h0M529.7,315.4h0M532.3,315.3h0M534.6,315.2h0M537.3,315.1h0M539.9,314.9h0M541.9,315.3h0M544.3,314.2h0M546.9,313.8h0M549.1,314.7h0M552,314.4h0M554.1,314.4h0M556.8,313.5h0M559.2,314h0M561.7,313.9h0M564.3,313h0M566.7,313.6h0M568.9,313.7h0M571.4,313.5h0M574.1,313.4h0M576.3,313.1h0M578.6,313.2h0M581.5,313.2h0M583.8,313h0M586.2,313.7h0M588.6,313.4h0M591,314.1h0M593.3,313.2h0M596.1,314.3h0M598.2,314.1h0M600.8,314.5h0M603.2,314.5h0M605.7,314.6h0M608.2,314.2h0" fill="none" stroke="#22ee22" stroke-width="5.8" stroke-linecap="round"/>
<path d="M436.4,364.1h0M439,359.8h0M441.5,351.8h0M443.8,347.5h0M446.3,344.2h0M449,340.7h0M451.3,338.3h0M453.6,337h0M456.4,334.2h0M458.7,332.7h0M461.3,331.6h0M463.5,330.9h0M466.2,329.1h0M468.6,328.4h0M471.1,327.4h0M473.2,327.2h0M475.7,325.9h0M478.2,325.5h0M480.7,323.9h0M483.2,323.4h0M485.7,323.1h0M488.2,322.8h0M490.6,321.7h0M493.1,320.9h0M495.7,320.3h0M497.7,320.4h0M500.2,319.6h0M502.8,320h0M505.3,319.7h0M507.8,318.5h0M510.3,318.3h0M512.4,318.6h0M514.9,318h0M517.5,317.8h0M520,316.8h0M522.5,316.2h0M524.9,316h0M527.4,316.3h0M529.7,315.4h0M532.3,315.3h0M534.6,315.2h0M537.3,315.1h0M539.9,314.9h0M541.9,315.3h0M544.3,314.2h0M546.9,313.8h0M549.1,314.7h0M552,314.4h0M554.1,314.4h0M556.8,313.5h0M559.2,314h0M561.7,313.9h0M564.3,313h0M566.7,313.6h0M568.9,313.7h0M571.4,313.5h0M574.1,313.4h0M576.3,313.1h0M578.6,313.2h0M581.5,313.2h0M583.8,313h0M586.2,313.7h0M588.6,313.4h0M591,314.1h0M593.3,313.2h0M596.1,314.3h0M598.2,314.1h0M600.8,314.5h0M603.2,314.5h0M605.7,314.6h0M608.2,314.2h0" fill="none" stroke="#fff" stroke-width="1.7" stroke-linecap="round"/>
<path d="M436.4,390.2 L438.9,384.3 L441.4,377.6 L444,372.3 L446.4,367.8 L448.7,363.6 L451.3,360.2 L453.7,358 L456.1,354.8 L458.6,351.7 L461.1,349.4 L463.5,348.3 L465.9,346.2 L468.5,344.9 L470.8,343 L473.2,341.5 L476,340.5 L478.2,339.7 L480.6,337.9 L483,337.7 L485.4,337 L488.3,336 L490.8,335.3 L493.2,333.6 L495.6,333.6 L498.1,333.2 L500.5,331.6 L503,331.2 L505.4,330.6 L507.9,330.4 L510.3,329.7 L512.4,329.3 L514.9,329.1 L517.5,327.6 L520,327.1 L522.5,326.7 L524.9,326.3 L527.4,325.8 L529.7,326.6 L532.3,326.2 L534.6,325.1 L537.3,325.3 L539.9,324.9 L541.9,324.7 L544.3,324.5 L546.9,324.5 L549.1,324.2 L552,323.7 L554.1,323.3 L556.8,323.2 L559.2,322.8 L561.7,323.2 L564.3,323.2 L566.7,322.7 L568.9,322.3 L571.4,322.3 L574.1,322.5 L576.3,322.7 L578.6,322.9 L581.5,322.3 L583.8,322.8 L586.2,322.6 L588.6,322.3 L591,322.2 L593.3,322.3 L596.1,322.5 L598.2,322.2 L600.8,322.5 L603.2,322.1 L605.7,321.8 L608.2,322.2" stroke="#2222ee" stroke-width="1.2" fill="none" stroke-linejoin="round" stroke-linecap="round"/>
<path d="M436.4,390.2h0M438.9,384.3h0M441.4,377.6h0M444,372.3h0M446.4,367.8h0M448.7,363.6h0M451.3,360.2h0M453.7,358h0M456.1,354.8h0M458.6,351.7h0M461.1,349.4h0M463.5,348.3h0M465.9,346.2h0M468.5,344.9h0M470.8,343h0M473.2,341.5h0M476,340.5h0M478.2,339.7h0M480.6,337.9h0M483,337.7h0M485.4,337h0M488.3,336h0M490.8,335.3h0M493.2,333.6h0M495.6,333.6h0M498.1,333.2h0M500.5,331.6h0M503,331.2h0M505.4,330.6h0M507.9,330.4h0M510.3,329.7h0M512.4,329.3h0M514.9,329.1h0M517.5,327.6h0M520,327.1h0M522.5,326.7h0M524.9,326.3h0M527.4,325.8h0M529.7,326.6h0M532.3,326.2h0M534.6,325.1h0M537.3,325.3h0M539.9,324.9h0M541.9,324.7h0M544.3,324.5h0M546.9,324.5h0M549.1,324.2h0M552,323.7h0M554.1,323.3h0M556.8,323.2h0M559.2,322.8h0M561.7,323.2h0M564.3,323.2h0M566.7,322.7h0M568.9,322.3h0M571.4,322.3h0M574.1,322.5h0M576.3,322.7h0M578.6,322.9h0M581.5,322.3h0M583.8,322.8h0M586.2,322.6h0M588.6,322.3h0M591,322.2h0M593.3,322.3h0M596.1,322.5h0M598.2,322.2h0M600.8,322.5h0M603.2,322.1h0M605.7,321.8h0M608.2,322.2h0" fill="none" stroke="#2222ee" stroke-width="5.8" stroke-linecap="round"/>
<path d="M436.4,390.2h0M438.9,384.3h0M441.4,377.6h0M444,372.3h0M446.4,367.8h0M448.7,363.6h0M451.3,360.2h0M453.7,358h0M456.1,354.8h0M458.6,351.7h0M461.1,349.4h0M463.5,348.3h0M465.9,346.2h0M468.5,344.9h0M470.8,343h0M473.2,341.5h0M476,340.5h0M478.2,339.7h0M480.6,337.9h0M483,337.7h0M485.4,337h0M488.3,336h0M490.8,335.3h0M493.2,333.6h0M495.6,333.6h0M498.1,333.2h0M500.5,331.6h0M503,331.2h0M505.4,330.6h0M507.9,330.4h0M510.3,329.7h0M512.4,329.3h0M514.9,329.1h0M517.5,327.6h0M520,327.1h0M522.5,326.7h0M524.9,326.3h0M527.4,325.8h0M529.7,326.6h0M532.3,326.2h0M534.6,325.1h0M537.3,325.3h0M539.9,324.9h0M541.9,324.7h0M544.3,324.5h0M546.9,324.5h0M549.1,324.2h0M552,323.7h0M554.1,323.3h0M556.8,323.2h0M559.2,322.8h0M561.7,323.2h0M564.3,323.2h0M566.7,322.7h0M568.9,322.3h0M571.4,322.3h0M574.1,322.5h0M576.3,322.7h0M578.6,322.9h0M581.5,322.3h0M583.8,322.8h0M586.2,322.6h0M588.6,322.3h0M591,322.2h0M593.3,322.3h0M596.1,322.5h0M598.2,322.2h0M600.8,322.5h0M603.2,322.1h0M605.7,321.8h0M608.2,322.2h0" fill="none" stroke="#fff" stroke-width="1.7" stroke-linecap="round"/>
<path d="M436.4,434.5 L439,427.9 L441.3,419.9 L444,411.5 L446.3,406.9 L448.7,402.1 L451.2,396.8 L453.6,393.1 L456.2,389 L458.6,385 L460.9,382.3 L463.4,379.3 L466.2,377.8 L468.6,375.6 L470.9,373.9 L473.2,371.7 L475.7,369.2 L478.2,367.3 L480.9,364.8 L483.2,362.4 L485.7,360.9 L488.2,358.2 L490.4,356.7 L492.9,355.8 L495.5,353.3 L497.8,352.2 L500.2,351.1 L502.9,350.9 L505.3,349.2 L507.6,348.2 L510.3,348.2 L512.4,346.7 L514.9,346.8 L517.5,346 L520,345.6 L522.5,345.1 L524.9,344.1 L527.4,343.8 L529.9,342.3 L532.4,342.7 L534.8,341.9 L537.3,341.7 L539.4,340.6 L542.2,340.9 L544.4,340.8 L547.1,339.4 L549.5,339.5 L551.6,339.5 L554.5,339.4 L556.7,338.4 L559.2,338 L561.4,337.7 L564.1,337.7 L566.5,337.5 L569,336.7 L571.5,336.3 L573.6,336.1 L576.3,335.7 L578.6,335.5 L581.5,334.8 L583.5,335.2 L585.9,335.6 L588.5,334.8 L591.2,335 L593.5,334.2 L595.8,334.8 L598.2,334.8 L601.1,334.6 L603.4,334.3 L605.7,334.2 L607.9,334.3 L610.6,334.6 L613,333.6 L615.6,333.5 L617.8,334.2" stroke="#22eeee" stroke-width="1.2" fill="none" stroke-linejoin="round" stroke-linecap="round"/>
<path d="M436.4,434.5h0M439,427.9h0M441.3,419.9h0M444,411.5h0M446.3,406.9h0M448.7,402.1h0M451.2,396.8h0M453.6,393.1h0M456.2,389h0M458.6,385h0M460.9,382.3h0M463.4,379.3h0M466.2,377.8h0M468.6,375.6h0M470.9,373.9h0M473.2,371.7h0M475.7,369.2h0M478.2,367.3h0M480.9,364.8h0M483.2,362.4h0M485.7,360.9h0M488.2,358.2h0M490.4,356.7h0M492.9,355.8h0M495.5,353.3h0M497.8,352.2h0M500.2,351.1h0M502.9,350.9h0M505.3,349.2h0M507.6,348.2h0M510.3,348.2h0M512.4,346.7h0M514.9,346.8h0M517.5,346h0M520,345.6h0M522.5,345.1h0M524.9,344.1h0M527.4,343.8h0M529.9,342.3h0M532.4,342.7h0M534.8,341.9h0M537.3,341.7h0M539.4,340.6h0M542.2,340.9h0M544.4,340.8h0M547.1,339.4h0M549.5,339.5h0M551.6,339.5h0M554.5,339.4h0M556.7,338.4h0M559.2,338h0M561.4,337.7h0M564.1,337.7h0M566.5,337.5h0M569,336.7h0M571.5,336.3h0M573.6,336.1h0M576.3,335.7h0M578.6,335.5h0M581.5,334.8h0M583.5,335.2h0M585.9,335.6h0M588.5,334.8h0M591.2,335h0M593.5,334.2h0M595.8,334.8h0M598.2,334.8h0M601.1,334.6h0M603.4,334.3h0M605.7,334.2h0M607.9,334.3h0M610.6,334.6h0M613,333.6h0M615.6,333.5h0M617.8,334.2h0" fill="none" stroke="#22eeee" stroke-width="5.8" stroke-linecap="round"/>
<path d="M436.4,434.5h0M439,427.9h0M441.3,419.9h0M444,411.5h0M446.3,406.9h0M448.7,402.1h0M451.2,396.8h0M453.6,393.1h0M456.2,389h0M458.6,385h0M460.9,382.3h0M463.4,379.3h0M466.2,377.8h0M468.6,375.6h0M470.9,373.9h0M473.2,371.7h0M475.7,369.2h0M478.2,367.3h0M480.9,364.8h0M483.2,362.4h0M485.7,360.9h0M488.2,358.2h0M490.4,356.7h0M492.9,355.8h0M495.5,353.3h0M497.8,352.2h0M500.2,351.1h0M502.9,350.9h0M505.3,349.2h0M507.6,348.2h0M510.3,348.2h0M512.4,346.7h0M514.9,346.8h0M517.5,346h0M520,345.6h0M522.5,345.1h0M524.9,344.1h0M527.4,343.8h0M529.9,342.3h0M532.4,342.7h0M534.8,341.9h0M537.3,341.7h0M539.4,340.6h0M542.2,340.9h0M544.4,340.8h0M547.1,339.4h0M549.5,339.5h0M551.6,339.5h0M554.5,339.4h0M556.7,338.4h0M559.2,338h0M561.4,337.7h0M564.1,337.7h0M566.5,337.5h0M569,336.7h0M571.5,336.3h0M573.6,336.1h0M576.3,335.7h0M578.6,335.5h0M581.5,334.8h0M583.5,335.2h0M585.9,335.6h0M588.5,334.8h0M591.2,335h0M593.5,334.2h0M595.8,334.8h0M598.2,334.8h0M601.1,334.6h0M603.4,334.3h0M605.7,334.2h0M607.9,334.3h0M610.6,334.6h0M613,333.6h0M615.6,333.5h0M617.8,334.2h0" fill="none" stroke="#fff" stroke-width="1.7" stroke-linecap="round"/>
<path d="M436.4,454 L438.9,447.5 L441.4,440.3 L444,436.3 L446.3,432.7 L448.9,429 L451.2,425.3 L453.7,421.4 L456.2,417.2 L458.6,413.9 L460.9,411.7 L463.6,408.9 L466,405.4 L468.5,403.2 L471,400.3 L473.3,398.7 L475.9,396.1 L478.2,393.8 L480.6,391.7 L483,389.6 L485.8,388 L487.9,386.5 L490.6,384.6 L492.8,383.5 L495.4,381.8 L497.8,380.6 L500.3,378 L502.8,377.4 L505.2,375.6 L507.5,374.7 L510.3,373.2 L512.7,372.6 L515,371.4 L517.4,370 L520.1,368.5 L522.2,367.8 L525.1,366.5 L527.1,365.2 L529.7,364.6 L532.1,364 L534.6,362.5 L537.2,361.3 L539.4,360.6 L542.1,360.2 L544.2,359.3 L546.9,358.7 L549.2,357.7 L551.7,356.2 L554.5,355.3 L556.7,354.8 L559.3,354.1 L561.5,354.2 L563.9,353.9 L566.3,353.5 L568.8,352.2 L571.4,352.4 L574,351.3 L576.1,351 L578.8,350.9 L581,349.8 L583.6,349.4 L586.1,349.9 L588.8,348.8 L591,348.6 L593.3,348.5 L596.2,348.2 L598.6,347.1 L600.9,347.2 L603.1,347 L605.7,346.7 L608.2,346.1 L610.4,346.2 L612.9,346.3" stroke="#ff22ff" stroke-width="1.2" fill="none" stroke-linejoin="round" stroke-linecap="round"/>
<path d="M436.4,454h0M438.9,447.5h0M441.4,440.3h0M444,436.3h0M446.3,432.7h0M448.9,429h0M451.2,425.3h0M453.7,421.4h0M456.2,417.2h0M458.6,413.9h0M460.9,411.7h0M463.6,408.9h0M466,405.4h0M468.5,403.2h0M471,400.3h0M473.3,398.7h0M475.9,396.1h0M478.2,393.8h0M480.6,391.7h0M483,389.6h0M485.8,388h0M487.9,386.5h0M490.6,384.6h0M492.8,383.5h0M495.4,381.8h0M497.8,380.6h0M500.3,378h0M502.8,377.4h0M505.2,375.6h0M507.5,374.7h0M510.3,373.2h0M512.7,372.6h0M515,371.4h0M517.4,370h0M520.1,368.5h0M522.2,367.8h0M525.1,366.5h0M527.1,365.2h0M529.7,364.6h0M532.1,364h0M534.6,362.5h0M537.2,361.3h0M539.4,360.6h0M542.1,360.2h0M544.2,359.3h0M546.9,358.7h0M549.2,357.7h0M551.7,356.2h0M554.5,355.3h0M556.7,354.8h0M559.3,354.1h0M561.5,354.2h0M563.9,353.9h0M566.3,353.5h0M568.8,352.2h0M571.4,352.4h0M574,351.3h0M576.1,351h0M578.8,350.9h0M581,349.8h0M583.6,349.4h0M586.1,349.9h0M588.8,348.8h0M591,348.6h0M593.3,348.5h0M596.2,348.2h0M598.6,347.1h0M600.9,347.2h0M603.1,347h0M605.7,346.7h0M608.2,346.1h0M610.4,346.2h0M612.9,346.3h0" fill="none" stroke="#ff22ff" stroke-width="5.8" stroke-linecap="round"/>
<path d="M436.4,454h0M438.9,447.5h0M441.4,440.3h0M444,436.3h0M446.3,432.7h0M448.9,429h0M451.2,425.3h0M453.7,421.4h0M456.2,417.2h0M458.6,413.9h0M460.9,411.7h0M463.6,408.9h0M466,405.4h0M468.5,403.2h0M471,400.3h0M473.3,398.7h0M475.9,396.1h0M478.2,393.8h0M480.6,391.7h0M483,389.6h0M485.8,388h0M487.9,386.5h0M490.6,384.6h0M492.8,383.5h0M495.4,381.8h0M497.8,380.6h0M500.3,378h0M502.8,377.4h0M505.2,375.6h0M507.5,374.7h0M510.3,373.2h0M512.7,372.6h0M515,371.4h0M517.4,370h0M520.1,368.5h0M522.2,367.8h0M525.1,366.5h0M527.1,365.2h0M529.7,364.6h0M532.1,364h0M534.6,362.5h0M537.2,361.3h0M539.4,360.6h0M542.1,360.2h0M544.2,359.3h0M546.9,358.7h0M549.2,357.7h0M551.7,356.2h0M554.5,355.3h0M556.7,354.8h0M559.3,354.1h0M561.5,354.2h0M563.9,353.9h0M566.3,353.5h0M568.8,352.2h0M571.4,352.4h0M574,351.3h0M576.1,351h0M578.8,350.9h0M581,349.8h0M583.6,349.4h0M586.1,349.9h0M588.8,348.8h0M591,348.6h0M593.3,348.5h0M596.2,348.2h0M598.6,347.1h0M600.9,347.2h0M603.1,347h0M605.7,346.7h0M608.2,346.1h0M610.4,346.2h0M612.9,346.3h0" fill="none" stroke="#fff" stroke-width="1.7" stroke-linecap="round"/>
<path d="M436.4,462.9 L439,458.4 L441.5,451.6 L443.8,446.1 L446.3,442 L448.9,437.8 L451.3,435.8 L453.8,432.5 L456.1,428.7 L458.8,426.7 L461.1,423.7 L463.7,422 L466.1,420 L468.6,417.5 L471.1,416.1 L473.2,414.6 L475.7,413.1 L478.2,410.8 L480.8,409.6 L483.1,408.5 L485.7,406.6 L488,405.1 L490.4,403.4 L493.2,402.5 L495.5,401.2 L497.8,400.6 L500.5,399.3 L502.8,398 L505.2,396.4 L507.5,395.7 L510.3,394.2 L512.7,392.5 L515,392.1 L517.4,390.6 L520.1,388.7 L522.2,388.6 L525.1,386.3 L527.4,385.4 L529.9,384.6 L532.1,383.4 L534.5,382.2 L536.9,381.1 L539.4,379.7 L542,378.4 L544.5,377.1 L546.7,376.1 L549.4,375.7 L551.9,374.8 L554.6,373.6 L556.7,373.2 L559.3,371.9 L561.5,371.2 L563.9,370.6 L566.4,370.6 L568.9,368.9 L571.5,368.8 L574,367.8 L576.1,367.9 L578.7,366.7 L581.2,366.1 L583.6,365.5 L586,365 L588.4,364.7 L591.2,363.4 L593.5,363.3 L595.9,361.8 L598.3,361.4 L600.7,360.6 L603.3,360.1 L605.9,360.4 L608.1,360 L610.5,359 L613.1,358.7 L615.8,358.7 L618,358.9 L620.4,358.8 L622.7,358.6 L625.1,358.2 L628,357.5 L630.3,357.7 L632.5,357.3 L635.1,357.6 L637.5,357.5 L640.1,356.9 L642.4,356.9" stroke="#9030ee" stroke-width="1.2" fill="none" stroke-linejoin="round" stroke-linecap="round"/>
<path d="M436.4,462.9h0M439,458.4h0M441.5,451.6h0M443.8,446.1h0M446.3,442h0M448.9,437.8h0M451.3,435.8h0M453.8,432.5h0M456.1,428.7h0M458.8,426.7h0M461.1,423.7h0M463.7,422h0M466.1,420h0M468.6,417.5h0M471.1,416.1h0M473.2,414.6h0M475.7,413.1h0M478.2,410.8h0M480.8,409.6h0M483.1,408.5h0M485.7,406.6h0M488,405.1h0M490.4,403.4h0M493.2,402.5h0M495.5,401.2h0M497.8,400.6h0M500.5,399.3h0M502.8,398h0M505.2,396.4h0M507.5,395.7h0M510.3,394.2h0M512.7,392.5h0M515,392.1h0M517.4,390.6h0M520.1,388.7h0M522.2,388.6h0M525.1,386.3h0M527.4,385.4h0M529.9,384.6h0M532.1,383.4h0M534.5,382.2h0M536.9,381.1h0M539.4,379.7h0M542,378.4h0M544.5,377.1h0M546.7,376.1h0M549.4,375.7h0M551.9,374.8h0M554.6,373.6h0M556.7,373.2h0M559.3,371.9h0M561.5,371.2h0M563.9,370.6h0M566.4,370.6h0M568.9,368.9h0M571.5,368.8h0M574,367.8h0M576.1,367.9h0M578.7,366.7h0M581.2,366.1h0M583.6,365.5h0M586,365h0M588.4,364.7h0M591.2,363.4h0M593.5,363.3h0M595.9,361.8h0M598.3,361.4h0M600.7,360.6h0M603.3,360.1h0M605.9,360.4h0M608.1,360h0M610.5,359h0M613.1,358.7h0M615.8,358.7h0M618,358.9h0M620.4,358.8h0M622.7,358.6h0M625.1,358.2h0M628,357.5h0M630.3,357.7h0M632.5,357.3h0M635.1,357.6h0M637.5,357.5h0M640.1,356.9h0M642.4,356.9h0" fill="none" stroke="#9030ee" stroke-width="5.8" stroke-linecap="round"/>
<path d="M436.4,462.9h0M439,458.4h0M441.5,451.6h0M443.8,446.1h0M446.3,442h0M448.9,437.8h0M451.3,435.8h0M453.8,432.5h0M456.1,428.7h0M458.8,426.7h0M461.1,423.7h0M463.7,422h0M466.1,420h0M468.6,417.5h0M471.1,416.1h0M473.2,414.6h0M475.7,413.1h0M478.2,410.8h0M480.8,409.6h0M483.1,408.5h0M485.7,406.6h0M488,405.1h0M490.4,403.4h0M493.2,402.5h0M495.5,401.2h0M497.8,400.6h0M500.5,399.3h0M502.8,398h0M505.2,396.4h0M507.5,395.7h0M510.3,394.2h0M512.7,392.5h0M515,392.1h0M517.4,390.6h0M520.1,388.7h0M522.2,388.6h0M525.1,386.3h0M527.4,385.4h0M529.9,384.6h0M532.1,383.4h0M534.5,382.2h0M536.9,381.1h0M539.4,379.7h0M542,378.4h0M544.5,377.1h0M546.7,376.1h0M549.4,375.7h0M551.9,374.8h0M554.6,373.6h0M556.7,373.2h0M559.3,371.9h0M561.5,371.2h0M563.9,370.6h0M566.4,370.6h0M568.9,368.9h0M571.5,368.8h0M574,367.8h0M576.1,367.9h0M578.7,366.7h0M581.2,366.1h0M583.6,365.5h0M586,365h0M588.4,364.7h0M591.2,363.4h0M593.5,363.3h0M595.9,361.8h0M598.3,361.4h0M600.7,360.6h0M603.3,360.1h0M605.9,360.4h0M608.1,360h0M610.5,359h0M613.1,358.7h0M615.8,358.7h0M618,358.9h0M620.4,358.8h0M622.7,358.6h0M625.1,358.2h0M628,357.5h0M630.3,357.7h0M632.5,357.3h0M635.1,357.6h0M637.5,357.5h0M640.1,356.9h0M642.4,356.9h0" fill="none" stroke="#fff" stroke-width="1.7" stroke-linecap="round"/>
<path d="M436.6,323.8 L438.1,321.8 L439.5,320 L440.9,318.4 L442.3,316.9 L443.7,315.5 L445.1,314.3 L446.5,313.2 L447.9,312.2 L449.3,311.3 L450.7,310.5 L452.1,309.7 L453.5,309 L455,308.4 L456.4,307.9 L457.8,307.4 L459.2,306.9 L460.6,306.5 L462,306.1 L463.4,305.8 L464.8,305.5 L466.2,305.2 L467.6,305 L469,304.7 L470.4,304.5 L475.1,304 L479.8,303.6 L484.5,303.3 L489.2,303.1 L493.9,302.9 L498.6,302.8 L503.3,302.7 L508,302.7 L512.7,302.6 L517.4,302.6 L522.1,302.6 L526.8,302.6 L531.5,302.6 L536.2,302.6 L540.9,302.6 L545.5,302.6 L550.2,302.6 L554.9,302.6 L559.6,302.6 L564.3,302.5 L569,302.5 L573.7,302.5 L578.4,302.5 L583.1,302.5 L587.8,302.5 L592.5,302.5 L597.2,302.5 L597.4,302.5" stroke="#000" stroke-width="1.9" fill="none" stroke-linejoin="round" stroke-linecap="round"/>
<path d="M436.6,431.4 L438.1,427.7 L439.5,424 L440.9,420.6 L442.3,417.2 L443.7,414 L445.1,410.9 L446.5,407.9 L447.9,405.1 L449.3,402.4 L450.7,399.7 L452.1,397.2 L453.5,394.8 L455,392.4 L456.4,390.2 L457.8,388 L459.2,386 L460.6,384 L462,382.1 L463.4,380.2 L464.8,378.5 L466.2,376.8 L467.6,375.1 L469,373.6 L470.4,372.1 L475.1,367.5 L479.8,363.4 L484.5,359.9 L489.2,356.8 L493.9,354.1 L498.6,351.8 L503.3,349.7 L508,347.9 L512.7,346.3 L517.4,344.9 L522.1,343.7 L526.8,342.6 L531.5,341.7 L536.2,340.9 L540.9,340.1 L545.5,339.5 L550.2,339 L554.9,338.5 L559.6,338.1 L564.3,337.7 L569,337.4 L573.7,337.1 L578.4,336.9 L583.1,336.6 L587.8,336.5 L592.5,336.3 L597.2,336.1 L601.9,336 L606.6,335.9 L611.3,335.8 L616,335.7 L619.2,335.7" stroke="#000" stroke-width="1.9" fill="none" stroke-linejoin="round" stroke-linecap="round"/>
<path d="M436.4,457.4 L437.8,455.5 L439.2,453.6 L440.6,451.7 L442,449.8 L443.5,448 L444.9,446.2 L446.3,444.5 L447.7,442.8 L449.1,441.1 L450.5,439.4 L451.9,437.8 L453.3,436.2 L454.7,434.7 L456.1,433.1 L457.5,431.6 L458.9,430.1 L460.4,428.7 L461.8,427.3 L463.2,425.9 L464.6,424.5 L466,423.1 L467.4,421.8 L468.8,420.5 L470.2,419.2 L474.9,415.2 L479.6,411.3 L484.3,407.7 L489,404.3 L493.7,401.1 L498.4,398.1 L503.1,395.3 L507.8,392.7 L512.5,390.2 L517.1,387.8 L521.8,385.6 L526.5,383.6 L531.2,381.6 L535.9,379.8 L540.6,378.1 L545.3,376.4 L550,374.9 L554.7,373.5 L559.4,372.2 L564.1,370.9 L568.8,369.7 L573.5,368.6 L578.2,367.5 L582.9,366.6 L587.6,365.6 L592.3,364.8 L596.9,363.9 L601.6,363.2 L606.3,362.5 L611,361.8 L615.7,361.1 L620.4,360.5 L625.1,360 L629.8,359.4 L634.5,358.9 L639.2,358.5 L642.9,358.1" stroke="#000" stroke-width="1.9" fill="none" stroke-linejoin="round" stroke-linecap="round"/>
<rect x="399.2" y="279" width="269.4" height="198.2" stroke="#000" stroke-width="1.5" fill="none"/>
<line x1="410.8" y1="477.2" x2="410.8" y2="474.7" stroke="#000" stroke-width="1.2"/>
<line x1="434.3" y1="477.2" x2="434.3" y2="473.2" stroke="#000" stroke-width="1.2"/>
<line x1="457.8" y1="477.2" x2="457.8" y2="474.7" stroke="#000" stroke-width="1.2"/>
<line x1="481.2" y1="477.2" x2="481.2" y2="473.2" stroke="#000" stroke-width="1.2"/>
<line x1="504.7" y1="477.2" x2="504.7" y2="474.7" stroke="#000" stroke-width="1.2"/>
<line x1="528.2" y1="477.2" x2="528.2" y2="473.2" stroke="#000" stroke-width="1.2"/>
<line x1="551.6" y1="477.2" x2="551.6" y2="474.7" stroke="#000" stroke-width="1.2"/>
<line x1="575.1" y1="477.2" x2="575.1" y2="473.2" stroke="#000" stroke-width="1.2"/>
<line x1="598.6" y1="477.2" x2="598.6" y2="474.7" stroke="#000" stroke-width="1.2"/>
<line x1="622.1" y1="477.2" x2="622.1" y2="473.2" stroke="#000" stroke-width="1.2"/>
<line x1="645.5" y1="477.2" x2="645.5" y2="474.7" stroke="#000" stroke-width="1.2"/>
<text x="434.3" y="492.7" style="font-family:'Liberation Sans'" font-size="13" font-weight="bold" fill="#000" text-anchor="middle">0</text>
<text x="481.2" y="492.7" style="font-family:'Liberation Sans'" font-size="13" font-weight="bold" fill="#000" text-anchor="middle">200</text>
<text x="528.2" y="492.7" style="font-family:'Liberation Sans'" font-size="13" font-weight="bold" fill="#000" text-anchor="middle">400</text>
<text x="575.1" y="492.7" style="font-family:'Liberation Sans'" font-size="13" font-weight="bold" fill="#000" text-anchor="middle">600</text>
<text x="622.1" y="492.7" style="font-family:'Liberation Sans'" font-size="13" font-weight="bold" fill="#000" text-anchor="middle">800</text>
<text x="669" y="492.7" style="font-family:'Liberation Sans'" font-size="13" font-weight="bold" fill="#000" text-anchor="middle">1000</text>
<line x1="399.2" y1="463.6" x2="403.2" y2="463.6" stroke="#000" stroke-width="1.2"/>
<line x1="399.2" y1="449.9" x2="401.7" y2="449.9" stroke="#000" stroke-width="1.2"/>
<line x1="399.2" y1="436.2" x2="403.2" y2="436.2" stroke="#000" stroke-width="1.2"/>
<line x1="399.2" y1="422.5" x2="401.7" y2="422.5" stroke="#000" stroke-width="1.2"/>
<line x1="399.2" y1="408.9" x2="403.2" y2="408.9" stroke="#000" stroke-width="1.2"/>
<line x1="399.2" y1="395.2" x2="401.7" y2="395.2" stroke="#000" stroke-width="1.2"/>
<line x1="399.2" y1="381.5" x2="403.2" y2="381.5" stroke="#000" stroke-width="1.2"/>
<line x1="399.2" y1="367.8" x2="401.7" y2="367.8" stroke="#000" stroke-width="1.2"/>
<line x1="399.2" y1="354.1" x2="403.2" y2="354.1" stroke="#000" stroke-width="1.2"/>
<line x1="399.2" y1="340.4" x2="401.7" y2="340.4" stroke="#000" stroke-width="1.2"/>
<line x1="399.2" y1="326.8" x2="403.2" y2="326.8" stroke="#000" stroke-width="1.2"/>
<line x1="399.2" y1="313.1" x2="401.7" y2="313.1" stroke="#000" stroke-width="1.2"/>
<line x1="399.2" y1="299.4" x2="403.2" y2="299.4" stroke="#000" stroke-width="1.2"/>
<line x1="399.2" y1="285.7" x2="401.7" y2="285.7" stroke="#000" stroke-width="1.2"/>
<text x="395.9" y="468.2" style="font-family:'Liberation Sans'" font-size="13" font-weight="bold" fill="#000" text-anchor="end">10</text>
<text x="395.9" y="440.8" style="font-family:'Liberation Sans'" font-size="13" font-weight="bold" fill="#000" text-anchor="end">20</text>
<text x="395.9" y="413.5" style="font-family:'Liberation Sans'" font-size="13" font-weight="bold" fill="#000" text-anchor="end">30</text>
<text x="395.9" y="386.1" style="font-family:'Liberation Sans'" font-size="13" font-weight="bold" fill="#000" text-anchor="end">40</text>
<text x="395.9" y="358.7" style="font-family:'Liberation Sans'" font-size="13" font-weight="bold" fill="#000" text-anchor="end">50</text>
<text x="395.9" y="331.4" style="font-family:'Liberation Sans'" font-size="13" font-weight="bold" fill="#000" text-anchor="end">60</text>
<text x="395.9" y="304" style="font-family:'Liberation Sans'" font-size="13" font-weight="bold" fill="#000" text-anchor="end">70</text>
<text x="545.7" y="509.2" style="font-family:'Liberation Sans'" font-size="14" font-weight="bold" fill="#000" text-anchor="middle">Retention (sec)</text>
<text x="370" y="376" font-size="14" font-weight="bold" text-anchor="middle" transform="rotate(-90 370 376)">Resistance <tspan style="font-family:'Liberation Serif'" font-weight="normal" font-size="13">(MΩ)</tspan></text>
<text x="348.2" y="283.7" style="font-family:'Liberation Serif'" font-size="22" font-weight="normal" fill="#000" text-anchor="start">(d)</text>
<text x="408.8" y="295.2" style="font-family:'Liberation Sans'" font-size="10.1" font-weight="bold" fill="#111" text-anchor="start">HRS</text>
<text x="403.5" y="319.6" style="font-family:'Liberation Sans'" font-size="10.1" font-weight="bold" fill="#ff2020" text-anchor="start">LRS#1</text>
<text x="408.8" y="346.9" style="font-family:'Liberation Sans'" font-size="10.1" font-weight="bold" fill="#22ee22" text-anchor="start">LRS#2</text>
<text x="404.5" y="377.1" style="font-family:'Liberation Sans'" font-size="10.1" font-weight="bold" fill="#2222ee" text-anchor="start">LRS#3</text>
<text x="403.3" y="412" style="font-family:'Liberation Sans'" font-size="10.1" font-weight="bold" fill="#22eeee" text-anchor="start">LRS#4</text>
<text x="402.7" y="446.6" style="font-family:'Liberation Sans'" font-size="10.1" font-weight="bold" fill="#ff22ff" text-anchor="start">LRS#5</text>
<text x="401.5" y="473.4" style="font-family:'Liberation Sans'" font-size="10.1" font-weight="bold" fill="#9030ee" text-anchor="start">LRS#6</text>
<line x1="581.9" y1="372.8" x2="602.9" y2="372.8" stroke="#111111" stroke-width="1.6"/>
<circle cx="591.9" cy="372.8" r="2.6" fill="#111111"/>
<circle cx="591.3" cy="372.2" r="0.9" fill="#fff" opacity="0.8"/>
<text x="608.3" y="376.6" style="font-family:'Liberation Sans'" font-size="10.7" font-weight="bold" fill="#000" text-anchor="start">Read@0.1V</text>
<line x1="581.9" y1="386.7" x2="602.9" y2="386.7" stroke="#ff2020" stroke-width="1.6"/>
<circle cx="591.9" cy="386.7" r="2.6" fill="#ff2020"/>
<circle cx="591.3" cy="386.1" r="0.9" fill="#fff" opacity="0.8"/>
<text x="608.3" y="390.5" style="font-family:'Liberation Sans'" font-size="10.7" font-weight="bold" fill="#000" text-anchor="start">@-0.75V</text>
<line x1="581.9" y1="400.5" x2="602.9" y2="400.5" stroke="#22ee22" stroke-width="1.6"/>
<circle cx="591.9" cy="400.5" r="2.6" fill="#22ee22"/>
<circle cx="591.3" cy="399.9" r="0.9" fill="#fff" opacity="0.8"/>
<text x="608.3" y="404.3" style="font-family:'Liberation Sans'" font-size="10.7" font-weight="bold" fill="#000" text-anchor="start">@-1V</text>
<line x1="581.9" y1="414.4" x2="602.9" y2="414.4" stroke="#2222ee" stroke-width="1.6"/>
<circle cx="591.9" cy="414.4" r="2.6" fill="#2222ee"/>
<circle cx="591.3" cy="413.8" r="0.9" fill="#fff" opacity="0.8"/>
<text x="608.3" y="418.2" style="font-family:'Liberation Sans'" font-size="10.7" font-weight="bold" fill="#000" text-anchor="start">@-1.25V</text>
<line x1="581.9" y1="428.2" x2="602.9" y2="428.2" stroke="#22eeee" stroke-width="1.6"/>
<circle cx="591.9" cy="428.2" r="2.6" fill="#22eeee"/>
<circle cx="591.3" cy="427.6" r="0.9" fill="#fff" opacity="0.8"/>
<text x="608.3" y="432" style="font-family:'Liberation Sans'" font-size="10.7" font-weight="bold" fill="#000" text-anchor="start">@-1.5V</text>
<line x1="581.9" y1="442.1" x2="602.9" y2="442.1" stroke="#ff22ff" stroke-width="1.6"/>
<circle cx="591.9" cy="442.1" r="2.6" fill="#ff22ff"/>
<circle cx="591.3" cy="441.5" r="0.9" fill="#fff" opacity="0.8"/>
<text x="608.3" y="445.9" style="font-family:'Liberation Sans'" font-size="10.7" font-weight="bold" fill="#000" text-anchor="start">@-1.75V</text>
<line x1="581.9" y1="456" x2="602.9" y2="456" stroke="#9030ee" stroke-width="1.6"/>
<circle cx="591.9" cy="456" r="2.6" fill="#9030ee"/>
<circle cx="591.3" cy="455.4" r="0.9" fill="#fff" opacity="0.8"/>
<text x="608.3" y="459.8" style="font-family:'Liberation Sans'" font-size="10.7" font-weight="bold" fill="#000" text-anchor="start">@-2V</text>
<line x1="581.9" y1="469.8" x2="602.9" y2="469.8" stroke="#000" stroke-width="1.9"/>
<text x="608.3" y="473.6" style="font-family:'Liberation Sans'" font-size="10.7" font-weight="bold" fill="#000" text-anchor="start">Exp Fitting</text>
<text x="514.9" y="424.4" style="font-family:'Liberation Sans'" font-size="12.3" font-weight="bold" fill="#000" text-anchor="start">After SET:</text>
<line x1="514.9" y1="426.3" x2="573.5" y2="426.3" stroke="#000" stroke-width="1.2"/>
<line x1="282.8" y1="559.9" x2="320.3" y2="559.7" stroke="#2a2aa0" stroke-width="1.5" stroke-dasharray="1.3,1.6"/>
<line x1="284.1" y1="581" x2="320.3" y2="578.4" stroke="#2a2aa0" stroke-width="1.5" stroke-dasharray="1.3,1.6"/>
<line x1="296.5" y1="587.7" x2="320.3" y2="585.9" stroke="#2a2aa0" stroke-width="1.5" stroke-dasharray="1.3,1.6"/>
<g fill="#bbb" stroke="#111111" stroke-width="2.1">
<circle cx="76.2" cy="567.6" r="2.4"/>
<circle cx="78" cy="567.1" r="2.4"/>
<circle cx="79.7" cy="566.4" r="2.4"/>
<circle cx="81.5" cy="567.7" r="2.4"/>
<circle cx="83.1" cy="566.3" r="2.4"/>
<circle cx="84.9" cy="566.2" r="2.4"/>
<circle cx="86.7" cy="566.9" r="2.4"/>
<circle cx="88.4" cy="565.8" r="2.4"/>
<circle cx="90.2" cy="565.7" r="2.4"/>
<circle cx="91.7" cy="566.5" r="2.4"/>
<circle cx="93.2" cy="565.6" r="2.4"/>
<circle cx="94.8" cy="565.3" r="2.4"/>
<circle cx="96.4" cy="566.2" r="2.4"/>
<circle cx="98" cy="567.7" r="2.4"/>
<circle cx="99.7" cy="566" r="2.4"/>
<circle cx="101.3" cy="565.6" r="2.4"/>
<circle cx="103" cy="566.7" r="2.4"/>
<circle cx="104.6" cy="568" r="2.4"/>
<circle cx="106.3" cy="567.2" r="2.4"/>
<circle cx="107.9" cy="566.3" r="2.4"/>
<circle cx="109.4" cy="567.7" r="2.4"/>
<circle cx="110.9" cy="565.2" r="2.4"/>
<circle cx="112.4" cy="566.8" r="2.4"/>
<circle cx="114" cy="565.5" r="2.4"/>
<circle cx="115.5" cy="564.5" r="2.4"/>
<circle cx="117" cy="563.9" r="2.4"/>
<circle cx="118.6" cy="564.2" r="2.4"/>
<circle cx="120.1" cy="565.8" r="2.4"/>
<circle cx="121.7" cy="564.3" r="2.4"/>
<circle cx="123.2" cy="564.9" r="2.4"/>
<circle cx="124.7" cy="565.2" r="2.4"/>
<circle cx="126.2" cy="564.3" r="2.4"/>
<circle cx="127.7" cy="564.5" r="2.4"/>
<circle cx="129.2" cy="562.9" r="2.4"/>
<circle cx="130.6" cy="562.3" r="2.4"/>
<circle cx="132.5" cy="562.3" r="2.4"/>
<circle cx="134.4" cy="563.8" r="2.4"/>
<circle cx="136" cy="563.4" r="2.4"/>
<circle cx="137.6" cy="562.8" r="2.4"/>
<circle cx="139.1" cy="563.4" r="2.4"/>
<circle cx="140.6" cy="563.1" r="2.4"/>
<circle cx="142.1" cy="562.5" r="2.4"/>
<circle cx="144" cy="563.9" r="2.4"/>
<circle cx="145.9" cy="562.4" r="2.4"/>
<circle cx="147.8" cy="562.9" r="2.4"/>
<circle cx="149.2" cy="562.8" r="2.4"/>
<circle cx="150.7" cy="563.8" r="2.4"/>
<circle cx="152.3" cy="563.7" r="2.4"/>
<circle cx="153.9" cy="562.2" r="2.4"/>
<circle cx="155.4" cy="563.7" r="2.4"/>
<circle cx="156.4" cy="561.6" r="2.4"/>
<circle cx="158.3" cy="561.6" r="2.4"/>
<circle cx="159.7" cy="562.6" r="2.4"/>
<circle cx="161.2" cy="561" r="2.4"/>
<circle cx="162.7" cy="561.4" r="2.4"/>
<circle cx="164.3" cy="560.1" r="2.4"/>
<circle cx="165.8" cy="561.5" r="2.4"/>
<circle cx="167.4" cy="562.2" r="2.4"/>
<circle cx="168.9" cy="561.8" r="2.4"/>
<circle cx="170.5" cy="562.6" r="2.4"/>
<circle cx="172.1" cy="561" r="2.4"/>
<circle cx="173.6" cy="561.6" r="2.4"/>
<circle cx="175.2" cy="561.4" r="2.4"/>
<circle cx="176.8" cy="561.2" r="2.4"/>
<circle cx="178.3" cy="560.7" r="2.4"/>
<circle cx="179.8" cy="561.7" r="2.4"/>
<circle cx="181.3" cy="562.4" r="2.4"/>
<circle cx="182.9" cy="561.1" r="2.4"/>
<circle cx="184.4" cy="561.2" r="2.4"/>
<circle cx="185.9" cy="559.4" r="2.4"/>
<circle cx="187.4" cy="560.7" r="2.4"/>
<circle cx="188.9" cy="561" r="2.4"/>
<circle cx="190.4" cy="562.2" r="2.4"/>
<circle cx="191.9" cy="562" r="2.4"/>
<circle cx="193.5" cy="560.3" r="2.4"/>
<circle cx="195" cy="560" r="2.4"/>
<circle cx="196.5" cy="560.8" r="2.4"/>
<circle cx="198" cy="559" r="2.4"/>
<circle cx="199.5" cy="559.8" r="2.4"/>
<circle cx="201" cy="559.1" r="2.4"/>
<circle cx="202.6" cy="558.7" r="2.4"/>
<circle cx="204.1" cy="558.4" r="2.4"/>
<circle cx="205.1" cy="560.5" r="2.4"/>
<circle cx="206.6" cy="559.2" r="2.4"/>
<circle cx="208.1" cy="559.1" r="2.4"/>
<circle cx="209.6" cy="559.5" r="2.4"/>
<circle cx="211.2" cy="561.1" r="2.4"/>
<circle cx="212.7" cy="559.2" r="2.4"/>
<circle cx="214.2" cy="559.6" r="2.4"/>
<circle cx="215.7" cy="560.1" r="2.4"/>
<circle cx="217.2" cy="561.2" r="2.4"/>
<circle cx="218.8" cy="561.4" r="2.4"/>
<circle cx="220.3" cy="561.6" r="2.4"/>
<circle cx="221.8" cy="559.8" r="2.4"/>
<circle cx="223.3" cy="559.6" r="2.4"/>
<circle cx="224.9" cy="559.3" r="2.4"/>
<circle cx="226.4" cy="560.9" r="2.4"/>
<circle cx="227.9" cy="561.6" r="2.4"/>
<circle cx="228.9" cy="559.4" r="2.4"/>
<circle cx="230.4" cy="558.6" r="2.4"/>
<circle cx="232" cy="558.6" r="2.4"/>
<circle cx="233.5" cy="558.5" r="2.4"/>
<circle cx="235" cy="559.3" r="2.4"/>
<circle cx="236.5" cy="559.9" r="2.4"/>
<circle cx="238" cy="559.1" r="2.4"/>
<circle cx="239.5" cy="558" r="2.4"/>
<circle cx="241" cy="558.9" r="2.4"/>
<circle cx="242.5" cy="559.1" r="2.4"/>
<circle cx="244" cy="559.8" r="2.4"/>
<circle cx="245.6" cy="561.2" r="2.4"/>
<circle cx="247.1" cy="560.9" r="2.4"/>
<circle cx="248.6" cy="560.2" r="2.4"/>
<circle cx="250.1" cy="560.3" r="2.4"/>
<circle cx="251.7" cy="560.6" r="2.4"/>
<circle cx="253.2" cy="558.7" r="2.4"/>
<circle cx="254.8" cy="560.7" r="2.4"/>
<circle cx="256.3" cy="561" r="2.4"/>
<circle cx="257.9" cy="561.4" r="2.4"/>
<circle cx="259.6" cy="561.3" r="2.4"/>
<circle cx="261.3" cy="560" r="2.4"/>
<circle cx="263" cy="559.6" r="2.4"/>
<circle cx="264.8" cy="558.5" r="2.4"/>
<circle cx="266.5" cy="559.8" r="2.4"/>
<circle cx="268.3" cy="558.4" r="2.4"/>
<circle cx="270" cy="558" r="2.4"/>
<circle cx="271.6" cy="558.3" r="2.4"/>
<circle cx="273.2" cy="558.2" r="2.4"/>
<circle cx="274.7" cy="558.8" r="2.4"/>
<circle cx="276.5" cy="558.1" r="2.4"/>
<circle cx="278.1" cy="557.7" r="2.4"/>
<circle cx="279.8" cy="557.9" r="2.4"/>
</g>
<g fill="#fff" stroke="#ff1a1a" stroke-width="2.1">
<circle cx="67.5" cy="588.7" r="2.4"/>
<circle cx="68.9" cy="584.9" r="2.4"/>
<circle cx="69.9" cy="586.2" r="2.4"/>
<circle cx="71.3" cy="584.3" r="2.4"/>
<circle cx="72.1" cy="581.6" r="2.4"/>
<circle cx="73.6" cy="580" r="2.4"/>
<circle cx="75.3" cy="579.1" r="2.4"/>
<circle cx="77.1" cy="577.2" r="2.4"/>
<circle cx="78.5" cy="578.9" r="2.4"/>
<circle cx="80" cy="579.7" r="2.4"/>
<circle cx="81.2" cy="577.6" r="2.4"/>
<circle cx="82.9" cy="576.6" r="2.4"/>
<circle cx="84.1" cy="574.5" r="2.4"/>
<circle cx="86.1" cy="573.5" r="2.4"/>
<circle cx="87.8" cy="574" r="2.4"/>
<circle cx="89.9" cy="573.6" r="2.4"/>
<circle cx="91" cy="575.6" r="2.4"/>
<circle cx="92.3" cy="573.5" r="2.4"/>
<circle cx="94" cy="575.3" r="2.4"/>
<circle cx="95.9" cy="574.5" r="2.4"/>
<circle cx="97.4" cy="572.6" r="2.4"/>
<circle cx="98.9" cy="573.4" r="2.4"/>
<circle cx="100.5" cy="571.5" r="2.4"/>
<circle cx="102.1" cy="572.7" r="2.4"/>
<circle cx="103.2" cy="574.8" r="2.4"/>
<circle cx="104.9" cy="574.9" r="2.4"/>
<circle cx="106.5" cy="574.2" r="2.4"/>
<circle cx="108.2" cy="572.2" r="2.4"/>
<circle cx="109.9" cy="571.8" r="2.4"/>
<circle cx="111.8" cy="570.8" r="2.4"/>
<circle cx="113.2" cy="572.7" r="2.4"/>
<circle cx="114.7" cy="572.4" r="2.4"/>
<circle cx="116.2" cy="573.2" r="2.4"/>
<circle cx="117.7" cy="571.7" r="2.4"/>
<circle cx="119.2" cy="570.7" r="2.4"/>
<circle cx="120.8" cy="572.6" r="2.4"/>
<circle cx="122.3" cy="574" r="2.4"/>
<circle cx="123.9" cy="573.9" r="2.4"/>
<circle cx="125.5" cy="573.6" r="2.4"/>
<circle cx="127" cy="573.5" r="2.4"/>
<circle cx="128.6" cy="573.2" r="2.4"/>
<circle cx="129.7" cy="571" r="2.4"/>
<circle cx="131.2" cy="571.3" r="2.4"/>
<circle cx="132.8" cy="570.8" r="2.4"/>
<circle cx="134.3" cy="569.2" r="2.4"/>
<circle cx="135.9" cy="568.6" r="2.4"/>
<circle cx="137.4" cy="569.4" r="2.4"/>
<circle cx="138.9" cy="569.5" r="2.4"/>
<circle cx="140.5" cy="571.1" r="2.4"/>
<circle cx="142" cy="572.7" r="2.4"/>
<circle cx="143.6" cy="571.2" r="2.4"/>
<circle cx="145.1" cy="572.5" r="2.4"/>
<circle cx="146.7" cy="573.1" r="2.4"/>
<circle cx="148.2" cy="573.1" r="2.4"/>
<circle cx="149.8" cy="570.8" r="2.4"/>
<circle cx="151.3" cy="569.3" r="2.4"/>
<circle cx="152.8" cy="568.8" r="2.4"/>
<circle cx="154.3" cy="568.4" r="2.4"/>
<circle cx="155.8" cy="568.2" r="2.4"/>
<circle cx="157.2" cy="569.8" r="2.4"/>
<circle cx="158.6" cy="571.3" r="2.4"/>
<circle cx="160.5" cy="571.6" r="2.4"/>
<circle cx="162.2" cy="570.2" r="2.4"/>
<circle cx="163.8" cy="570.3" r="2.4"/>
<circle cx="165.3" cy="570.9" r="2.4"/>
<circle cx="166.3" cy="568.3" r="2.4"/>
<circle cx="167.8" cy="569.6" r="2.4"/>
<circle cx="169.7" cy="570.9" r="2.4"/>
<circle cx="171.6" cy="570.8" r="2.4"/>
<circle cx="173.5" cy="569.5" r="2.4"/>
<circle cx="175" cy="567.9" r="2.4"/>
<circle cx="176.6" cy="569.7" r="2.4"/>
<circle cx="178.2" cy="568.5" r="2.4"/>
<circle cx="179.8" cy="569.9" r="2.4"/>
<circle cx="181.7" cy="571.1" r="2.4"/>
<circle cx="183.1" cy="569.3" r="2.4"/>
<circle cx="184.6" cy="568.7" r="2.4"/>
<circle cx="186" cy="570.6" r="2.4"/>
<circle cx="187.5" cy="570.4" r="2.4"/>
<circle cx="188.6" cy="568.2" r="2.4"/>
<circle cx="190.1" cy="567.3" r="2.4"/>
<circle cx="191.6" cy="567.1" r="2.4"/>
<circle cx="193.2" cy="570" r="2.4"/>
<circle cx="194.7" cy="570.6" r="2.4"/>
<circle cx="196.3" cy="568.3" r="2.4"/>
<circle cx="197.9" cy="570.2" r="2.4"/>
<circle cx="199.4" cy="571.4" r="2.4"/>
<circle cx="201" cy="570.6" r="2.4"/>
<circle cx="202.5" cy="569.2" r="2.4"/>
<circle cx="204.1" cy="569.4" r="2.4"/>
<circle cx="205.6" cy="567.9" r="2.4"/>
<circle cx="207.1" cy="566.8" r="2.4"/>
<circle cx="208.6" cy="570.2" r="2.4"/>
<circle cx="210.1" cy="570.1" r="2.4"/>
<circle cx="211.7" cy="569.6" r="2.4"/>
<circle cx="213.2" cy="570.9" r="2.4"/>
<circle cx="214.7" cy="569.4" r="2.4"/>
<circle cx="216.2" cy="570.6" r="2.4"/>
<circle cx="217.8" cy="570.8" r="2.4"/>
<circle cx="219.3" cy="568.4" r="2.4"/>
<circle cx="220.8" cy="567.7" r="2.4"/>
<circle cx="222.3" cy="567.6" r="2.4"/>
<circle cx="223.8" cy="567.3" r="2.4"/>
<circle cx="225.4" cy="568.5" r="2.4"/>
<circle cx="226.9" cy="567.6" r="2.4"/>
<circle cx="228.4" cy="567.9" r="2.4"/>
<circle cx="229.9" cy="566.9" r="2.4"/>
<circle cx="231.5" cy="569.5" r="2.4"/>
<circle cx="233" cy="568.3" r="2.4"/>
<circle cx="234.5" cy="568.2" r="2.4"/>
<circle cx="236" cy="568.6" r="2.4"/>
<circle cx="237.5" cy="570" r="2.4"/>
<circle cx="239.1" cy="568.6" r="2.4"/>
<circle cx="240.6" cy="570" r="2.4"/>
<circle cx="242.1" cy="568.8" r="2.4"/>
<circle cx="243.6" cy="568.5" r="2.4"/>
<circle cx="245.1" cy="568.4" r="2.4"/>
<circle cx="246.7" cy="566.3" r="2.4"/>
<circle cx="248.2" cy="567.2" r="2.4"/>
<circle cx="249.7" cy="566.5" r="2.4"/>
<circle cx="251.2" cy="565.5" r="2.4"/>
<circle cx="252.7" cy="568.2" r="2.4"/>
<circle cx="254.3" cy="566.7" r="2.4"/>
<circle cx="255.8" cy="567.3" r="2.4"/>
<circle cx="257.4" cy="568.5" r="2.4"/>
<circle cx="259" cy="568.2" r="2.4"/>
<circle cx="260.6" cy="567.2" r="2.4"/>
<circle cx="262.2" cy="567.5" r="2.4"/>
<circle cx="263.8" cy="567.8" r="2.4"/>
<circle cx="265.4" cy="568.7" r="2.4"/>
<circle cx="267" cy="566.4" r="2.4"/>
<circle cx="268.6" cy="567.3" r="2.4"/>
<circle cx="270.2" cy="566.3" r="2.4"/>
<circle cx="271.7" cy="566.1" r="2.4"/>
<circle cx="273.2" cy="567.9" r="2.4"/>
<circle cx="274.7" cy="567.5" r="2.4"/>
<circle cx="276.5" cy="567.5" r="2.4"/>
<circle cx="278.3" cy="568.2" r="2.4"/>
<circle cx="279.8" cy="569" r="2.4"/>
<circle cx="281.6" cy="567.4" r="2.4"/>
<circle cx="283.3" cy="567.5" r="2.4"/>
<circle cx="284.8" cy="567" r="2.4"/>
<circle cx="286.6" cy="567.5" r="2.4"/>
<circle cx="288.4" cy="566.7" r="2.4"/>
<circle cx="290.3" cy="566.7" r="2.4"/>
<circle cx="291.8" cy="566.5" r="2.4"/>
<circle cx="293.4" cy="568.3" r="2.4"/>
<circle cx="294.9" cy="568" r="2.4"/>
<circle cx="296.4" cy="568.6" r="2.4"/>
<circle cx="298.1" cy="569.1" r="2.4"/>
<circle cx="299.2" cy="566.7" r="2.4"/>
<circle cx="301" cy="567.1" r="2.4"/>
<circle cx="302.8" cy="568.8" r="2.4"/>
<circle cx="304.5" cy="569.1" r="2.4"/>
<circle cx="305.7" cy="566.5" r="2.4"/>
<circle cx="307.4" cy="565.7" r="2.4"/>
<circle cx="309" cy="566.7" r="2.4"/>
<circle cx="310.5" cy="565.7" r="2.4"/>
<circle cx="312.2" cy="566.1" r="2.4"/>
<circle cx="313.8" cy="567.8" r="2.4"/>
</g>
<g fill="#fff" stroke="#1aee1a" stroke-width="2.1">
<circle cx="68.2" cy="664.7" r="2.4"/>
<circle cx="68.5" cy="663.1" r="2.4"/>
<circle cx="68.9" cy="658.7" r="2.4"/>
<circle cx="69.3" cy="657" r="2.4"/>
<circle cx="69.7" cy="653" r="2.4"/>
<circle cx="69.9" cy="653.7" r="2.4"/>
<circle cx="70.4" cy="652.2" r="2.4"/>
<circle cx="70.5" cy="649.2" r="2.4"/>
<circle cx="70.9" cy="649.3" r="2.4"/>
<circle cx="71.3" cy="646.5" r="2.4"/>
<circle cx="72" cy="645.9" r="2.4"/>
<circle cx="72.9" cy="640.4" r="2.4"/>
<circle cx="74.2" cy="637.6" r="2.4"/>
<circle cx="74.9" cy="635.1" r="2.4"/>
<circle cx="75.7" cy="632.6" r="2.4"/>
<circle cx="76.5" cy="632.3" r="2.4"/>
<circle cx="76.9" cy="629.3" r="2.4"/>
<circle cx="78" cy="628.3" r="2.4"/>
<circle cx="78.9" cy="624.8" r="2.4"/>
<circle cx="80.2" cy="624.3" r="2.4"/>
<circle cx="81.8" cy="620.2" r="2.4"/>
<circle cx="82.7" cy="621.9" r="2.4"/>
<circle cx="84.4" cy="620.8" r="2.4"/>
<circle cx="85.3" cy="616.5" r="2.4"/>
<circle cx="87" cy="614.2" r="2.4"/>
<circle cx="88.4" cy="614.1" r="2.4"/>
<circle cx="89.9" cy="611.5" r="2.4"/>
<circle cx="91.3" cy="609.2" r="2.4"/>
<circle cx="92.8" cy="610.7" r="2.4"/>
<circle cx="94.3" cy="609.7" r="2.4"/>
<circle cx="95.1" cy="607" r="2.4"/>
<circle cx="96.8" cy="604.5" r="2.4"/>
<circle cx="97.6" cy="606.4" r="2.4"/>
<circle cx="99.2" cy="604.7" r="2.4"/>
<circle cx="100.8" cy="604" r="2.4"/>
<circle cx="101.7" cy="601.2" r="2.4"/>
<circle cx="103.5" cy="599.3" r="2.4"/>
<circle cx="104.8" cy="600.8" r="2.4"/>
<circle cx="106.6" cy="598.2" r="2.4"/>
<circle cx="108" cy="600.5" r="2.4"/>
<circle cx="109.4" cy="599.8" r="2.4"/>
<circle cx="111.3" cy="599.7" r="2.4"/>
<circle cx="112.2" cy="596.7" r="2.4"/>
<circle cx="113.7" cy="598.4" r="2.4"/>
<circle cx="115.2" cy="595.6" r="2.4"/>
<circle cx="116.7" cy="597.5" r="2.4"/>
<circle cx="118.2" cy="596.3" r="2.4"/>
<circle cx="119.8" cy="595.1" r="2.4"/>
<circle cx="121.3" cy="595.3" r="2.4"/>
<circle cx="122.8" cy="596.5" r="2.4"/>
<circle cx="124.2" cy="594" r="2.4"/>
<circle cx="126.1" cy="592.2" r="2.4"/>
<circle cx="127.6" cy="592.8" r="2.4"/>
<circle cx="129" cy="591.6" r="2.4"/>
<circle cx="130.5" cy="590.4" r="2.4"/>
<circle cx="132" cy="589.9" r="2.4"/>
<circle cx="133.9" cy="588.9" r="2.4"/>
<circle cx="135.3" cy="588.9" r="2.4"/>
<circle cx="136.8" cy="589.1" r="2.4"/>
<circle cx="138.3" cy="588.9" r="2.4"/>
<circle cx="139.8" cy="590.4" r="2.4"/>
<circle cx="141.3" cy="588.9" r="2.4"/>
<circle cx="142.8" cy="588.9" r="2.4"/>
<circle cx="144.3" cy="587.5" r="2.4"/>
<circle cx="145.8" cy="587.5" r="2.4"/>
<circle cx="147.3" cy="586" r="2.4"/>
<circle cx="148.8" cy="586.2" r="2.4"/>
<circle cx="150.6" cy="587.6" r="2.4"/>
<circle cx="152.5" cy="587.5" r="2.4"/>
<circle cx="154.4" cy="585.9" r="2.4"/>
<circle cx="155.9" cy="586.3" r="2.4"/>
<circle cx="157.5" cy="588.1" r="2.4"/>
<circle cx="158.1" cy="585.5" r="2.4"/>
<circle cx="160" cy="587.1" r="2.4"/>
<circle cx="161.7" cy="586.1" r="2.4"/>
<circle cx="163.5" cy="585.8" r="2.4"/>
<circle cx="165.4" cy="585.6" r="2.4"/>
<circle cx="166.9" cy="585.5" r="2.4"/>
<circle cx="168.4" cy="586" r="2.4"/>
<circle cx="169.9" cy="587.3" r="2.4"/>
<circle cx="171.5" cy="585.1" r="2.4"/>
<circle cx="173.1" cy="586.2" r="2.4"/>
<circle cx="174.8" cy="585.9" r="2.4"/>
<circle cx="176.4" cy="585.5" r="2.4"/>
<circle cx="178.1" cy="584.3" r="2.4"/>
<circle cx="179.8" cy="583.6" r="2.4"/>
<circle cx="181.7" cy="582.1" r="2.4"/>
<circle cx="183.6" cy="581.8" r="2.4"/>
<circle cx="185.1" cy="581.4" r="2.4"/>
<circle cx="186" cy="583.8" r="2.4"/>
<circle cx="187.5" cy="582.7" r="2.4"/>
<circle cx="189.1" cy="581.8" r="2.4"/>
<circle cx="190.6" cy="581.1" r="2.4"/>
<circle cx="191.6" cy="583.8" r="2.4"/>
<circle cx="193.2" cy="584.8" r="2.4"/>
<circle cx="194.7" cy="584.3" r="2.4"/>
<circle cx="196.3" cy="582.5" r="2.4"/>
<circle cx="197.9" cy="581.7" r="2.4"/>
<circle cx="199.4" cy="581.5" r="2.4"/>
<circle cx="201" cy="582" r="2.4"/>
<circle cx="202.5" cy="580.9" r="2.4"/>
<circle cx="204.1" cy="581.6" r="2.4"/>
<circle cx="205.6" cy="581.1" r="2.4"/>
<circle cx="207.1" cy="583.6" r="2.4"/>
<circle cx="208.6" cy="584.4" r="2.4"/>
<circle cx="210.1" cy="583" r="2.4"/>
<circle cx="211.7" cy="581.3" r="2.4"/>
<circle cx="213.2" cy="583.5" r="2.4"/>
<circle cx="214.7" cy="581.6" r="2.4"/>
<circle cx="216.2" cy="581.1" r="2.4"/>
<circle cx="217.8" cy="579.5" r="2.4"/>
<circle cx="219.3" cy="580.4" r="2.4"/>
<circle cx="220.8" cy="581" r="2.4"/>
<circle cx="222.3" cy="581.3" r="2.4"/>
<circle cx="223.8" cy="580.1" r="2.4"/>
<circle cx="225.4" cy="580.9" r="2.4"/>
<circle cx="226.9" cy="579.1" r="2.4"/>
<circle cx="228.4" cy="579.4" r="2.4"/>
<circle cx="229.9" cy="578.8" r="2.4"/>
<circle cx="231.5" cy="579.7" r="2.4"/>
<circle cx="233" cy="578.5" r="2.4"/>
<circle cx="234.6" cy="578" r="2.4"/>
<circle cx="236.2" cy="578.8" r="2.4"/>
<circle cx="237.8" cy="578.7" r="2.4"/>
<circle cx="239.4" cy="579.9" r="2.4"/>
<circle cx="241" cy="580" r="2.4"/>
<circle cx="242.6" cy="580.8" r="2.4"/>
<circle cx="244.1" cy="580.7" r="2.4"/>
<circle cx="245.7" cy="580.7" r="2.4"/>
<circle cx="247.2" cy="581.3" r="2.4"/>
<circle cx="248.7" cy="579.5" r="2.4"/>
<circle cx="250.2" cy="578.5" r="2.4"/>
<circle cx="251.6" cy="580.7" r="2.4"/>
<circle cx="252.9" cy="578.1" r="2.4"/>
<circle cx="254.9" cy="579.4" r="2.4"/>
<circle cx="256.7" cy="579.4" r="2.4"/>
<circle cx="257.9" cy="577.1" r="2.4"/>
<circle cx="259.6" cy="579.3" r="2.4"/>
<circle cx="261.2" cy="580.2" r="2.4"/>
<circle cx="262.8" cy="579.4" r="2.4"/>
<circle cx="264.4" cy="579.5" r="2.4"/>
<circle cx="265.9" cy="579.8" r="2.4"/>
<circle cx="267.3" cy="577.3" r="2.4"/>
<circle cx="269.1" cy="577.9" r="2.4"/>
<circle cx="270.8" cy="578.1" r="2.4"/>
<circle cx="272.3" cy="579.5" r="2.4"/>
<circle cx="274.3" cy="580" r="2.4"/>
<circle cx="276.1" cy="580.5" r="2.4"/>
<circle cx="277.7" cy="580" r="2.4"/>
<circle cx="279.6" cy="580.9" r="2.4"/>
<circle cx="281" cy="581.1" r="2.4"/>
</g>
<g fill="#fff" stroke="#1a1aee" stroke-width="2.1">
<circle cx="68.2" cy="723.2" r="2.4"/>
<circle cx="68.4" cy="719.3" r="2.4"/>
<circle cx="68.8" cy="716.5" r="2.4"/>
<circle cx="69" cy="714.3" r="2.4"/>
<circle cx="69.3" cy="715.2" r="2.4"/>
<circle cx="69.7" cy="712.1" r="2.4"/>
<circle cx="70.2" cy="709.3" r="2.4"/>
<circle cx="70.6" cy="706.3" r="2.4"/>
<circle cx="70.8" cy="703.2" r="2.4"/>
<circle cx="71.1" cy="704.1" r="2.4"/>
<circle cx="71.7" cy="701" r="2.4"/>
<circle cx="72.3" cy="698.4" r="2.4"/>
<circle cx="72.8" cy="694.7" r="2.4"/>
<circle cx="73.3" cy="694.6" r="2.4"/>
<circle cx="73.7" cy="691.9" r="2.4"/>
<circle cx="74.1" cy="689.3" r="2.4"/>
<circle cx="74.9" cy="689.1" r="2.4"/>
<circle cx="75.4" cy="686.2" r="2.4"/>
<circle cx="76" cy="685.8" r="2.4"/>
<circle cx="76.9" cy="683.6" r="2.4"/>
<circle cx="77.5" cy="680.7" r="2.4"/>
<circle cx="78.6" cy="678.8" r="2.4"/>
<circle cx="79.6" cy="676.7" r="2.4"/>
<circle cx="80.8" cy="671.7" r="2.4"/>
<circle cx="81.9" cy="668.9" r="2.4"/>
<circle cx="82.8" cy="669.2" r="2.4"/>
<circle cx="83.8" cy="666.4" r="2.4"/>
<circle cx="85" cy="662.9" r="2.4"/>
<circle cx="86.3" cy="660.3" r="2.4"/>
<circle cx="87.4" cy="661.1" r="2.4"/>
<circle cx="88.9" cy="659.7" r="2.4"/>
<circle cx="90.2" cy="656.8" r="2.4"/>
<circle cx="91.9" cy="655.3" r="2.4"/>
<circle cx="93.5" cy="653.4" r="2.4"/>
<circle cx="94.5" cy="650.9" r="2.4"/>
<circle cx="95.2" cy="652.7" r="2.4"/>
<circle cx="96.3" cy="649.8" r="2.4"/>
<circle cx="97.3" cy="651.1" r="2.4"/>
<circle cx="99" cy="650.1" r="2.4"/>
<circle cx="99.4" cy="646.4" r="2.4"/>
<circle cx="100.8" cy="645.6" r="2.4"/>
<circle cx="102.4" cy="645.8" r="2.4"/>
<circle cx="103.9" cy="644.1" r="2.4"/>
<circle cx="105.1" cy="641.9" r="2.4"/>
<circle cx="106.7" cy="640" r="2.4"/>
<circle cx="107.5" cy="642" r="2.4"/>
<circle cx="108.8" cy="639.1" r="2.4"/>
<circle cx="110.6" cy="638.6" r="2.4"/>
<circle cx="111.9" cy="636.3" r="2.4"/>
<circle cx="113.6" cy="636.2" r="2.4"/>
<circle cx="114.8" cy="637.4" r="2.4"/>
<circle cx="115.2" cy="634.6" r="2.4"/>
<circle cx="116.9" cy="635.4" r="2.4"/>
<circle cx="118.6" cy="633.7" r="2.4"/>
<circle cx="120.4" cy="633.6" r="2.4"/>
<circle cx="121.7" cy="630.9" r="2.4"/>
<circle cx="123" cy="632.1" r="2.4"/>
<circle cx="124.8" cy="630.2" r="2.4"/>
<circle cx="125.7" cy="627.6" r="2.4"/>
<circle cx="127.5" cy="625.8" r="2.4"/>
<circle cx="129.3" cy="626.5" r="2.4"/>
<circle cx="131.1" cy="625.6" r="2.4"/>
<circle cx="132.9" cy="624" r="2.4"/>
<circle cx="134.7" cy="623.6" r="2.4"/>
<circle cx="136.4" cy="624.9" r="2.4"/>
<circle cx="137.8" cy="621.7" r="2.4"/>
<circle cx="139.2" cy="623" r="2.4"/>
<circle cx="141.1" cy="623.1" r="2.4"/>
<circle cx="142.1" cy="620.2" r="2.4"/>
<circle cx="143.5" cy="621.7" r="2.4"/>
<circle cx="145.4" cy="620.8" r="2.4"/>
<circle cx="147.2" cy="620.6" r="2.4"/>
<circle cx="148.1" cy="618" r="2.4"/>
<circle cx="149.8" cy="616.8" r="2.4"/>
<circle cx="151.3" cy="616" r="2.4"/>
<circle cx="152.2" cy="618" r="2.4"/>
<circle cx="153.8" cy="616.5" r="2.4"/>
<circle cx="155.5" cy="614.4" r="2.4"/>
<circle cx="157.5" cy="613" r="2.4"/>
<circle cx="159.3" cy="611.3" r="2.4"/>
<circle cx="161.1" cy="610.4" r="2.4"/>
<circle cx="161.5" cy="613.1" r="2.4"/>
<circle cx="163.2" cy="611.3" r="2.4"/>
<circle cx="164.5" cy="613" r="2.4"/>
<circle cx="165.4" cy="610.8" r="2.4"/>
<circle cx="167.3" cy="609.5" r="2.4"/>
<circle cx="168.7" cy="609.8" r="2.4"/>
<circle cx="170.2" cy="608.3" r="2.4"/>
<circle cx="171.8" cy="608.2" r="2.4"/>
<circle cx="172.8" cy="610.2" r="2.4"/>
<circle cx="174.4" cy="610.3" r="2.4"/>
<circle cx="176" cy="609.7" r="2.4"/>
<circle cx="177.7" cy="608.4" r="2.4"/>
<circle cx="179.3" cy="608.8" r="2.4"/>
<circle cx="181.2" cy="608.6" r="2.4"/>
<circle cx="183" cy="606.6" r="2.4"/>
<circle cx="184.8" cy="603.6" r="2.4"/>
<circle cx="186.3" cy="605" r="2.4"/>
<circle cx="188.2" cy="603.9" r="2.4"/>
<circle cx="189.7" cy="604.4" r="2.4"/>
<circle cx="191.1" cy="603.9" r="2.4"/>
<circle cx="192.6" cy="602" r="2.4"/>
<circle cx="194.1" cy="600.1" r="2.4"/>
<circle cx="195.1" cy="602.7" r="2.4"/>
<circle cx="196.6" cy="600.2" r="2.4"/>
<circle cx="198.1" cy="600.4" r="2.4"/>
<circle cx="199.6" cy="599.7" r="2.4"/>
<circle cx="201.1" cy="599" r="2.4"/>
<circle cx="202.6" cy="600.2" r="2.4"/>
<circle cx="204.1" cy="601.3" r="2.4"/>
<circle cx="205.6" cy="598.7" r="2.4"/>
<circle cx="207.1" cy="599.1" r="2.4"/>
<circle cx="208.5" cy="597.7" r="2.4"/>
<circle cx="210" cy="598" r="2.4"/>
<circle cx="211.5" cy="597.3" r="2.4"/>
<circle cx="213" cy="596" r="2.4"/>
<circle cx="214.5" cy="595.3" r="2.4"/>
<circle cx="216" cy="595.1" r="2.4"/>
<circle cx="217.5" cy="597.6" r="2.4"/>
<circle cx="219" cy="596.7" r="2.4"/>
<circle cx="220.5" cy="595.1" r="2.4"/>
<circle cx="222" cy="597.1" r="2.4"/>
<circle cx="223.5" cy="598" r="2.4"/>
<circle cx="224.9" cy="596" r="2.4"/>
<circle cx="226.4" cy="593.9" r="2.4"/>
<circle cx="227.9" cy="593.3" r="2.4"/>
<circle cx="229.4" cy="592.5" r="2.4"/>
<circle cx="230.9" cy="593" r="2.4"/>
<circle cx="232.4" cy="592" r="2.4"/>
<circle cx="233.9" cy="592.1" r="2.4"/>
<circle cx="235.4" cy="592" r="2.4"/>
<circle cx="236.9" cy="593" r="2.4"/>
<circle cx="238.4" cy="594.4" r="2.4"/>
<circle cx="239.9" cy="594.2" r="2.4"/>
<circle cx="241.3" cy="592.7" r="2.4"/>
<circle cx="242.8" cy="592" r="2.4"/>
<circle cx="244.3" cy="592" r="2.4"/>
<circle cx="245.8" cy="591.3" r="2.4"/>
<circle cx="247.3" cy="590.7" r="2.4"/>
<circle cx="248.8" cy="589.3" r="2.4"/>
<circle cx="250.3" cy="589.5" r="2.4"/>
<circle cx="251.8" cy="592.2" r="2.4"/>
<circle cx="253.3" cy="589.7" r="2.4"/>
<circle cx="254.8" cy="590.2" r="2.4"/>
<circle cx="256.3" cy="590.8" r="2.4"/>
<circle cx="257.9" cy="591.8" r="2.4"/>
<circle cx="259.5" cy="589.6" r="2.4"/>
<circle cx="261.1" cy="589" r="2.4"/>
<circle cx="262.7" cy="588.6" r="2.4"/>
<circle cx="264.4" cy="589" r="2.4"/>
<circle cx="266" cy="589.3" r="2.4"/>
<circle cx="267.6" cy="591.3" r="2.4"/>
<circle cx="269.2" cy="591.6" r="2.4"/>
<circle cx="270.7" cy="591.8" r="2.4"/>
<circle cx="272.2" cy="588.5" r="2.4"/>
<circle cx="273.7" cy="587.3" r="2.4"/>
<circle cx="275.2" cy="589.5" r="2.4"/>
<circle cx="277" cy="590.9" r="2.4"/>
<circle cx="278.7" cy="589.7" r="2.4"/>
<circle cx="280.5" cy="589.6" r="2.4"/>
<circle cx="281.8" cy="587.3" r="2.4"/>
<circle cx="283.7" cy="587.8" r="2.4"/>
<circle cx="285" cy="590" r="2.4"/>
<circle cx="286.7" cy="590.3" r="2.4"/>
<circle cx="288.4" cy="590.4" r="2.4"/>
<circle cx="289.9" cy="590.7" r="2.4"/>
<circle cx="291.2" cy="588" r="2.4"/>
<circle cx="292.8" cy="586.3" r="2.4"/>
</g>
<rect x="57.1" y="550.2" width="263.2" height="193.7" stroke="#000" stroke-width="1.5" fill="none"/>
<line x1="66.5" y1="743.9" x2="66.5" y2="739.9" stroke="#000" stroke-width="1.2"/>
<line x1="66.5" y1="550.2" x2="66.5" y2="554.2" stroke="#000" stroke-width="1.2"/>
<line x1="89.6" y1="743.9" x2="89.6" y2="741.4" stroke="#000" stroke-width="1.2"/>
<line x1="89.6" y1="550.2" x2="89.6" y2="552.7" stroke="#000" stroke-width="1.2"/>
<line x1="112.7" y1="743.9" x2="112.7" y2="739.9" stroke="#000" stroke-width="1.2"/>
<line x1="112.7" y1="550.2" x2="112.7" y2="554.2" stroke="#000" stroke-width="1.2"/>
<line x1="135.8" y1="743.9" x2="135.8" y2="741.4" stroke="#000" stroke-width="1.2"/>
<line x1="135.8" y1="550.2" x2="135.8" y2="552.7" stroke="#000" stroke-width="1.2"/>
<line x1="158.9" y1="743.9" x2="158.9" y2="739.9" stroke="#000" stroke-width="1.2"/>
<line x1="158.9" y1="550.2" x2="158.9" y2="554.2" stroke="#000" stroke-width="1.2"/>
<line x1="181.9" y1="743.9" x2="181.9" y2="741.4" stroke="#000" stroke-width="1.2"/>
<line x1="181.9" y1="550.2" x2="181.9" y2="552.7" stroke="#000" stroke-width="1.2"/>
<line x1="205" y1="743.9" x2="205" y2="739.9" stroke="#000" stroke-width="1.2"/>
<line x1="205" y1="550.2" x2="205" y2="554.2" stroke="#000" stroke-width="1.2"/>
<line x1="228.1" y1="743.9" x2="228.1" y2="741.4" stroke="#000" stroke-width="1.2"/>
<line x1="228.1" y1="550.2" x2="228.1" y2="552.7" stroke="#000" stroke-width="1.2"/>
<line x1="251.2" y1="743.9" x2="251.2" y2="739.9" stroke="#000" stroke-width="1.2"/>
<line x1="251.2" y1="550.2" x2="251.2" y2="554.2" stroke="#000" stroke-width="1.2"/>
<line x1="274.3" y1="743.9" x2="274.3" y2="741.4" stroke="#000" stroke-width="1.2"/>
<line x1="274.3" y1="550.2" x2="274.3" y2="552.7" stroke="#000" stroke-width="1.2"/>
<line x1="297.4" y1="743.9" x2="297.4" y2="739.9" stroke="#000" stroke-width="1.2"/>
<line x1="297.4" y1="550.2" x2="297.4" y2="554.2" stroke="#000" stroke-width="1.2"/>
<line x1="320.5" y1="743.9" x2="320.5" y2="741.4" stroke="#000" stroke-width="1.2"/>
<line x1="320.5" y1="550.2" x2="320.5" y2="552.7" stroke="#000" stroke-width="1.2"/>
<text x="66.5" y="758.6" style="font-family:'Liberation Sans'" font-size="13" font-weight="bold" fill="#000" text-anchor="middle">0</text>
<text x="112.7" y="758.6" style="font-family:'Liberation Sans'" font-size="13" font-weight="bold" fill="#000" text-anchor="middle">500</text>
<text x="158.9" y="758.6" style="font-family:'Liberation Sans'" font-size="13" font-weight="bold" fill="#000" text-anchor="middle">1000</text>
<text x="205" y="758.6" style="font-family:'Liberation Sans'" font-size="13" font-weight="bold" fill="#000" text-anchor="middle">1500</text>
<text x="251.2" y="758.6" style="font-family:'Liberation Sans'" font-size="13" font-weight="bold" fill="#000" text-anchor="middle">2000</text>
<text x="297.4" y="758.6" style="font-family:'Liberation Sans'" font-size="13" font-weight="bold" fill="#000" text-anchor="middle">2500</text>
<line x1="57.1" y1="743.9" x2="61.1" y2="743.9" stroke="#000" stroke-width="1.2"/>
<line x1="320.3" y1="743.9" x2="316.3" y2="743.9" stroke="#000" stroke-width="1.2"/>
<line x1="57.1" y1="727.1" x2="59.6" y2="727.1" stroke="#000" stroke-width="1.2"/>
<line x1="320.3" y1="727.1" x2="317.8" y2="727.1" stroke="#000" stroke-width="1.2"/>
<line x1="57.1" y1="710.3" x2="61.1" y2="710.3" stroke="#000" stroke-width="1.2"/>
<line x1="320.3" y1="710.3" x2="316.3" y2="710.3" stroke="#000" stroke-width="1.2"/>
<line x1="57.1" y1="693.5" x2="59.6" y2="693.5" stroke="#000" stroke-width="1.2"/>
<line x1="320.3" y1="693.5" x2="317.8" y2="693.5" stroke="#000" stroke-width="1.2"/>
<line x1="57.1" y1="676.7" x2="61.1" y2="676.7" stroke="#000" stroke-width="1.2"/>
<line x1="320.3" y1="676.7" x2="316.3" y2="676.7" stroke="#000" stroke-width="1.2"/>
<line x1="57.1" y1="659.9" x2="59.6" y2="659.9" stroke="#000" stroke-width="1.2"/>
<line x1="320.3" y1="659.9" x2="317.8" y2="659.9" stroke="#000" stroke-width="1.2"/>
<line x1="57.1" y1="643" x2="61.1" y2="643" stroke="#000" stroke-width="1.2"/>
<line x1="320.3" y1="643" x2="316.3" y2="643" stroke="#000" stroke-width="1.2"/>
<line x1="57.1" y1="626.2" x2="59.6" y2="626.2" stroke="#000" stroke-width="1.2"/>
<line x1="320.3" y1="626.2" x2="317.8" y2="626.2" stroke="#000" stroke-width="1.2"/>
<line x1="57.1" y1="609.4" x2="61.1" y2="609.4" stroke="#000" stroke-width="1.2"/>
<line x1="320.3" y1="609.4" x2="316.3" y2="609.4" stroke="#000" stroke-width="1.2"/>
<line x1="57.1" y1="592.6" x2="59.6" y2="592.6" stroke="#000" stroke-width="1.2"/>
<line x1="320.3" y1="592.6" x2="317.8" y2="592.6" stroke="#000" stroke-width="1.2"/>
<line x1="57.1" y1="575.8" x2="61.1" y2="575.8" stroke="#000" stroke-width="1.2"/>
<line x1="320.3" y1="575.8" x2="316.3" y2="575.8" stroke="#000" stroke-width="1.2"/>
<line x1="57.1" y1="559" x2="59.6" y2="559" stroke="#000" stroke-width="1.2"/>
<line x1="320.3" y1="559" x2="317.8" y2="559" stroke="#000" stroke-width="1.2"/>
<text x="53" y="748.5" style="font-family:'Liberation Sans'" font-size="13" font-weight="bold" fill="#000" text-anchor="end">20</text>
<text x="53" y="714.9" style="font-family:'Liberation Sans'" font-size="13" font-weight="bold" fill="#000" text-anchor="end">40</text>
<text x="53" y="681.3" style="font-family:'Liberation Sans'" font-size="13" font-weight="bold" fill="#000" text-anchor="end">60</text>
<text x="53" y="647.6" style="font-family:'Liberation Sans'" font-size="13" font-weight="bold" fill="#000" text-anchor="end">80</text>
<text x="53" y="614" style="font-family:'Liberation Sans'" font-size="13" font-weight="bold" fill="#000" text-anchor="end">100</text>
<text x="53" y="580.4" style="font-family:'Liberation Sans'" font-size="13" font-weight="bold" fill="#000" text-anchor="end">120</text>
<text x="190.7" y="777" style="font-family:'Liberation Sans'" font-size="14" font-weight="bold" fill="#000" text-anchor="middle">Long Retention (sec)</text>
<text x="24.7" y="644.8" font-size="14" font-weight="bold" text-anchor="middle" transform="rotate(-90 24.7 644.8)">Resistance <tspan style="font-family:'Liberation Serif'" font-weight="normal" font-size="13">(MΩ)</tspan></text>
<text x="4.7" y="549" style="font-family:'Liberation Serif'" font-size="22" font-weight="normal" fill="#000" text-anchor="start">(e)</text>
<text x="64.2" y="563.4" style="font-family:'Liberation Sans'" font-size="10.2" font-weight="bold" fill="#111111" text-anchor="start">HRS</text>
<text x="70.9" y="598.8" style="font-family:'Liberation Sans'" font-size="10.2" font-weight="bold" fill="#ff1a1a" text-anchor="start">LRS#1</text>
<text x="85.2" y="634.5" style="font-family:'Liberation Sans'" font-size="10.2" font-weight="bold" fill="#1aee1a" text-anchor="start">LRS#2</text>
<text x="102.3" y="665" style="font-family:'Liberation Sans'" font-size="10.2" font-weight="bold" fill="#1a1aee" text-anchor="start">LRS#3</text>
<text x="214.6" y="667.6" style="font-family:'Liberation Sans'" font-size="12.4" font-weight="bold" fill="#000" text-anchor="start">After SET:</text>
<line x1="214.6" y1="669.6" x2="273.8" y2="669.6" stroke="#000" stroke-width="1.2"/>
<line x1="217.4" y1="680.2" x2="243.4" y2="680.2" stroke="#111111" stroke-width="1.8"/>
<circle cx="230.4" cy="680.2" r="2.9" fill="#111111"/>
<circle cx="229.7" cy="679.5" r="1" fill="#fff" opacity="0.8"/>
<text x="246.2" y="684.2" style="font-family:'Liberation Sans'" font-size="11.1" font-weight="bold" fill="#000" text-anchor="start">Read@0.1V</text>
<line x1="217.4" y1="694.7" x2="243.4" y2="694.7" stroke="#ff1a1a" stroke-width="1.8"/>
<circle cx="230.4" cy="694.7" r="2.9" fill="#ff1a1a"/>
<circle cx="229.7" cy="694" r="1" fill="#fff" opacity="0.8"/>
<text x="246.2" y="698.7" style="font-family:'Liberation Sans'" font-size="11.1" font-weight="bold" fill="#000" text-anchor="start">@-1V</text>
<line x1="217.4" y1="709.1" x2="243.4" y2="709.1" stroke="#1aee1a" stroke-width="1.8"/>
<circle cx="230.4" cy="709.1" r="2.9" fill="#1aee1a"/>
<circle cx="229.7" cy="708.4" r="1" fill="#fff" opacity="0.8"/>
<text x="246.2" y="713.1" style="font-family:'Liberation Sans'" font-size="11.1" font-weight="bold" fill="#000" text-anchor="start">@-1.5V</text>
<line x1="217.4" y1="723.6" x2="243.4" y2="723.6" stroke="#1a1aee" stroke-width="1.8"/>
<circle cx="230.4" cy="723.6" r="2.9" fill="#1a1aee"/>
<circle cx="229.7" cy="722.9" r="1" fill="#fff" opacity="0.8"/>
<text x="246.2" y="727.6" style="font-family:'Liberation Sans'" font-size="11.1" font-weight="bold" fill="#000" text-anchor="start">@-2V</text>
<path d="M425.9,686.4 L543.3,656.8 M543.3,656.8 L648.4,693.2 M424.7,662.2 L543.5,636.2 M543.5,636.2 L650,668.5 M423.4,638.1 L543.8,615.6 M543.8,615.6 L651.7,643.7 M422.2,614 L544.1,595 M544.1,595 L653.4,619 M420.9,589.8 L544.3,574.4 M544.3,574.4 L655,594.2 M419.6,565.7 L544.6,553.8 M544.6,553.8 L656.7,569.4 M439,707.1 L431.9,554.2 M439,707.1 L534.5,764.2 M459.3,701.3 L453.9,552.4 M459.3,701.3 L556.3,755.2 M479.5,695.5 L475.9,550.6 M479.5,695.5 L578.2,746.2 M499.8,689.7 L497.9,548.8 M499.8,689.7 L600.1,737.2 M520.1,684 L519.8,547 M520.1,684 L622,728.2 M540.3,678.2 L541.8,545.1 M540.3,678.2 L643.8,719.2 M553.4,681.5 L556,546.3 M436.7,716.4 L553.4,681.5 M563.7,685.5 L567.2,547.7 M446.1,722.3 L563.7,685.5 M574.1,689.6 L578.5,549.1 M455.5,728.2 L574.1,689.6 M584.5,693.6 L589.8,550.5 M465,734.1 L584.5,693.6 M594.9,697.7 L601,551.9 M474.5,740 L594.9,697.7 M605.2,701.8 L612.3,553.2 M483.9,745.8 L605.2,701.8 M615.6,705.8 L623.6,554.6 M493.4,751.7 L615.6,705.8 M626,709.9 L634.9,556 M502.8,757.6 L626,709.9 M636.3,713.9 L646.1,557.4 M512.2,763.5 L636.3,713.9" stroke="#d4d4d4" stroke-width="0.7" fill="none"/>
<path d="M419.1,555.3 L544.7,544.9 L657.4,558.8 M544.7,544.9 L543,677.4 M657.4,558.8 L646.7,718 M427.2,710.5 L543,677.4 L646.7,718" stroke="#a0a0a0" stroke-width="0.9" fill="none"/>
<path d="M482.7,693.4 L482.6,691.5 L482.4,689.1 L482.2,686.2 L482,682.9 L481.7,679.4 L481.5,675.8 L481.3,672.3 L481.1,668.9 L480.9,665.9 L480.9,663.3 L480.9,659.8 L481.2,655.9 L481.8,653.3 L482.3,651.5 L482.4,650.9 M481.9,654.4 L481.7,652.5 L481.4,650 L481.1,646.8 L480.8,643.3 L480.4,639.6 L480.1,635.9 L479.7,632.3 L479.4,628.9 L479.1,626 L478.9,623.7 L478.8,622.7 M478.8,622.7 L478,619.8 L476.7,617.2 L474.9,614.1 L472.5,611.4 L469.9,609.4 L466.8,607.5 L463.4,605.8 L460.3,604.6 L457,603.4 L453.6,602.5 L450.2,601.7 L446.8,601.4 L443.1,601.4 L439.4,601.8 L436,602.2 L433.6,602.5 L433.4,602.5 M433.4,603.6 L435.6,605.6 L438.8,608.1 L442,610.1 L445.1,612 L446,612.5 M445.8,617.2 L447.7,618.8 L450.5,621.1 L453.6,623.6 L456.5,625.9 L459.6,628.4 L462.8,630.8 L465.4,632.8 L466.5,633.6 M466.7,637.9 L468.9,639.8 L471.9,642.5 L474.5,645.2 L476.8,647.9 L478.6,650.6 L480.2,653.9 L480.7,655.7 M482.4,650.9 L482.5,648.8 L482.6,646 L482.7,642.6 L482.8,639.1 L482.9,635.9 L483,632.9 L483.2,630.1 L483.3,627.2 L483.5,624.3 L483.7,621.3 L483.9,618.4 L484.1,615.5 L484.3,612.5 L484.6,609.5 L484.8,606.6 L485.1,603.6 L485.3,600.6 L485.6,597.7 L485.8,594.9 L486.2,592 L486.6,589.1 L487,586.1 L487.4,583.2 L488,580.2 L488.7,577.5 L489.7,574.7 L490.7,572 L491.9,569.4 L493.5,567 L495.4,564.8 L497.5,563 L500,561.3 L502.7,559.8 L505.5,558.5 L508.3,557.3 L511.3,556.3 L514.5,555.6 L517.7,554.9 L520.8,554.4 L523.7,553.9 L527.5,553.5 L531.2,553.2 L534.2,553.1 L535.4,553 M483.5,657.1 L483.6,655.2 L483.8,652.6 L484.1,649.5 L484.3,646.1 L484.6,642.7 L484.9,639.5 L485.1,636.6 L485.4,633.4 L485.7,630.5 L486,627.7 L486.2,625 L486.5,622 L486.8,619.2 L487.1,616.2 L487.4,613.2 L487.7,610.3 L488,607.4 L488.3,604.5 L488.7,601.4 L489.1,598.5 L489.6,595.6 L490.1,592.9 L490.8,590 L491.5,587.1 L492.4,584.4 L493.5,581.7 L494.7,579.2 L496.2,576.7 L497.8,574.3 L499.7,572.1 L501.9,570.1 L504.2,568.4 L506.8,566.8 L509.5,565.3 L512.2,563.8 L515,562.4 L517.9,561.1 L520.8,559.9 L523.6,558.7 L526.2,557.5 L529.4,555.9 L532.4,554.5 L534.7,553.3 L535.4,553" stroke="#ff0000" stroke-width="2.6" fill="none" stroke-linejoin="round" stroke-linecap="round"/>
<path d="M484.3,694.2 L484.2,692.3 L484,689.9 L483.8,686.9 L483.6,683.7 L483.3,680.2 L483.1,676.6 L482.9,673 L482.7,669.7 L482.6,666.6 L482.5,664 L482.5,660.5 L482.9,656.6 L483.4,654 L483.9,652.2 L484.1,651.5 M483.5,655.1 L483.3,653.2 L483.1,650.6 L482.8,647.5 L482.4,644 L482.1,640.3 L481.7,636.5 L481.4,632.9 L481,629.5 L480.7,626.6 L480.5,624.3 L480.4,623.3 M480.4,623.3 L479.6,620.3 L478.3,617.8 L476.5,614.7 L474.2,612 L471.6,609.9 L468.5,608.1 L465,606.4 L461.9,605.1 L458.7,604 L455.3,603 L451.8,602.3 L448.4,602 L444.7,602 L441,602.4 L437.7,602.8 L435.2,603.1 L435,603.2 M435.1,604.2 L437.3,606.2 L440.4,608.7 L443.6,610.8 L446.7,612.6 L447.6,613.1 M447.4,617.8 L449.3,619.4 L452.1,621.7 L455.2,624.3 L458.1,626.6 L461.3,629 L464.4,631.4 L467.1,633.4 L468.1,634.2 M468.3,638.5 L470.5,640.5 L473.5,643.2 L476.1,645.8 L478.4,648.6 L480.3,651.2 L481.9,654.6 L482.4,656.4 M484.1,651.5 L484.1,649.5 L484.2,646.6 L484.3,643.2 L484.4,639.8 L484.5,636.5 L484.7,633.6 L484.8,630.7 L485,627.8 L485.1,624.9 L485.3,621.8 L485.5,619 L485.7,616 L486,613 L486.2,610 L486.5,607.1 L486.7,604.2 L487,601.2 L487.2,598.3 L487.5,595.4 L487.9,592.5 L488.3,589.6 L488.7,586.6 L489.1,583.6 L489.7,580.7 L490.4,577.9 L491.4,575.1 L492.4,572.4 L493.7,569.8 L495.2,567.4 L497.1,565.2 L499.3,563.4 L501.7,561.7 L504.4,560.2 L507.2,558.8 L510.1,557.7 L513,556.7 L516.2,555.9 L519.4,555.2 L522.6,554.7 L525.4,554.2 L529.2,553.8 L533,553.5 L536,553.3 L537.2,553.3 M485.1,657.8 L485.2,655.9 L485.4,653.3 L485.7,650.1 L486,646.7 L486.2,643.3 L486.5,640.1 L486.8,637.2 L487.1,634 L487.3,631.1 L487.6,628.3 L487.9,625.5 L488.2,622.6 L488.5,619.7 L488.8,616.8 L489,613.8 L489.3,610.8 L489.7,607.9 L490,605 L490.4,601.9 L490.8,599 L491.2,596.1 L491.8,593.3 L492.5,590.5 L493.2,587.6 L494.1,584.8 L495.2,582.2 L496.4,579.6 L497.9,577.1 L499.5,574.7 L501.4,572.5 L503.6,570.5 L505.9,568.8 L508.5,567.2 L511.2,565.6 L514,564.2 L516.7,562.8 L519.6,561.5 L522.5,560.2 L525.3,559 L528,557.8 L531.2,556.2 L534.2,554.8 L536.5,553.6 L537.2,553.3" stroke="#00e000" stroke-width="2.6" fill="none" stroke-linejoin="round" stroke-linecap="round"/>
<path d="M485.9,695 L485.8,693.1 L485.6,690.7 L485.4,687.7 L485.2,684.4 L484.9,680.9 L484.7,677.3 L484.5,673.8 L484.3,670.4 L484.2,667.3 L484.1,664.7 L484.1,661.2 L484.5,657.3 L485,654.7 L485.5,652.8 L485.7,652.2 M485.1,655.8 L484.9,653.9 L484.7,651.3 L484.4,648.2 L484.1,644.6 L483.7,640.9 L483.3,637.2 L483,633.5 L482.7,630.1 L482.4,627.2 L482.2,624.9 L482.1,623.9 M482.1,623.9 L481.3,620.9 L480,618.4 L478.2,615.3 L475.8,612.6 L473.2,610.5 L470.1,608.6 L466.7,606.9 L463.6,605.7 L460.3,604.6 L456.9,603.6 L453.4,602.9 L450.1,602.5 L446.4,602.6 L442.6,603 L439.3,603.4 L436.9,603.8 L436.6,603.8 M436.7,604.8 L438.9,606.8 L442,609.3 L445.2,611.4 L448.3,613.2 L449.2,613.7 M449,618.5 L451,620.1 L453.7,622.4 L456.9,624.9 L459.8,627.2 L462.9,629.6 L466.1,632.1 L468.7,634.1 L469.7,634.9 M469.9,639.2 L472.1,641.1 L475.1,643.8 L477.7,646.5 L480,649.3 L481.9,651.9 L483.5,655.2 L484,657.1 M485.7,652.2 L485.7,650.2 L485.8,647.3 L485.9,643.9 L486.1,640.4 L486.2,637.2 L486.3,634.2 L486.5,631.3 L486.6,628.4 L486.8,625.5 L487,622.4 L487.2,619.6 L487.4,616.6 L487.6,613.6 L487.9,610.5 L488.1,607.6 L488.4,604.7 L488.7,601.7 L488.9,598.8 L489.2,595.9 L489.5,593 L490,590.1 L490.4,587.1 L490.8,584.1 L491.4,581.1 L492.1,578.3 L493.1,575.5 L494.1,572.8 L495.4,570.2 L496.9,567.8 L498.8,565.6 L501,563.7 L503.5,562.1 L506.2,560.5 L509,559.2 L511.8,558 L514.8,557 L518,556.2 L521.2,555.5 L524.3,555 L527.2,554.5 L531,554 L534.8,553.8 L537.8,553.6 L539,553.5 M486.7,658.5 L486.9,656.6 L487.1,653.9 L487.3,650.8 L487.6,647.4 L487.9,643.9 L488.1,640.7 L488.4,637.8 L488.7,634.6 L489,631.7 L489.3,628.9 L489.5,626.1 L489.8,623.2 L490.1,620.3 L490.4,617.3 L490.7,614.3 L491,611.3 L491.3,608.4 L491.7,605.5 L492.1,602.4 L492.5,599.5 L492.9,596.6 L493.5,593.8 L494.1,591 L494.9,588 L495.8,585.3 L496.9,582.6 L498.1,580 L499.6,577.5 L501.2,575.1 L503.1,572.9 L505.3,570.8 L507.6,569.1 L510.2,567.5 L513,566 L515.7,564.5 L518.5,563.1 L521.4,561.8 L524.3,560.5 L527.1,559.3 L529.8,558.1 L533,556.5 L536,555 L538.3,553.9 L539,553.5" stroke="#0000ff" stroke-width="2.6" fill="none" stroke-linejoin="round" stroke-linecap="round"/>
<path d="M487.5,695.7 L487.3,693.9 L487.2,691.4 L487,688.5 L486.8,685.2 L486.5,681.7 L486.3,678.1 L486.1,674.5 L485.9,671.1 L485.8,668 L485.7,665.4 L485.7,661.9 L486.1,658 L486.7,655.3 L487.2,653.5 L487.3,652.9 M486.7,656.5 L486.6,654.6 L486.3,652 L486,648.8 L485.7,645.3 L485.3,641.6 L485,637.8 L484.6,634.1 L484.3,630.8 L484,627.8 L483.8,625.5 L483.7,624.5 M483.7,624.5 L482.9,621.5 L481.6,618.9 L479.8,615.8 L477.5,613.1 L474.9,611.1 L471.8,609.2 L468.3,607.5 L465.2,606.3 L462,605.2 L458.5,604.2 L455.1,603.5 L451.7,603.1 L448,603.2 L444.3,603.6 L440.9,604.1 L438.5,604.4 L438.2,604.4 M438.3,605.4 L440.5,607.4 L443.6,610 L446.8,612 L450,613.8 L450.8,614.4 M450.6,619.1 L452.6,620.7 L455.4,623 L458.5,625.5 L461.4,627.9 L464.5,630.3 L467.7,632.7 L470.3,634.7 L471.3,635.5 M471.6,639.9 L473.7,641.8 L476.7,644.5 L479.3,647.2 L481.6,650 L483.5,652.6 L485.1,655.9 L485.6,657.7 M487.3,652.9 L487.4,650.8 L487.5,647.9 L487.6,644.5 L487.7,641 L487.8,637.8 L488,634.8 L488.1,631.9 L488.2,629 L488.4,626.1 L488.6,623 L488.8,620.1 L489.1,617.2 L489.3,614.1 L489.6,611.1 L489.8,608.2 L490.1,605.2 L490.3,602.2 L490.6,599.3 L490.9,596.4 L491.2,593.5 L491.6,590.6 L492.1,587.5 L492.5,584.5 L493.1,581.6 L493.8,578.8 L494.8,576 L495.8,573.2 L497.1,570.6 L498.6,568.1 L500.6,565.9 L502.7,564.1 L505.2,562.4 L507.9,560.9 L510.7,559.5 L513.6,558.3 L516.5,557.3 L519.7,556.5 L523,555.8 L526.1,555.3 L529,554.8 L532.8,554.3 L536.5,554 L539.6,553.9 L540.8,553.8 M488.3,659.2 L488.5,657.3 L488.7,654.6 L488.9,651.4 L489.2,648 L489.5,644.6 L489.8,641.4 L490,638.4 L490.3,635.2 L490.6,632.3 L490.9,629.5 L491.2,626.7 L491.5,623.8 L491.8,620.9 L492.1,617.9 L492.4,614.9 L492.7,611.9 L493,609 L493.4,606 L493.8,603 L494.2,600 L494.6,597.1 L495.2,594.3 L495.8,591.4 L496.6,588.5 L497.5,585.7 L498.6,583.1 L499.8,580.5 L501.3,577.9 L502.9,575.5 L504.9,573.3 L507,571.2 L509.4,569.5 L512,567.9 L514.7,566.4 L517.5,564.9 L520.2,563.5 L523.1,562.1 L526,560.8 L528.8,559.6 L531.5,558.4 L534.7,556.8 L537.7,555.3 L540.1,554.2 L540.8,553.8" stroke="#00ffff" stroke-width="2.6" fill="none" stroke-linejoin="round" stroke-linecap="round"/>
<path d="M489,696.5 L488.9,694.7 L488.8,692.2 L488.6,689.3 L488.3,686 L488.1,682.4 L487.9,678.8 L487.7,675.2 L487.5,671.8 L487.4,668.7 L487.3,666.1 L487.3,662.6 L487.7,658.7 L488.3,656 L488.8,654.2 L488.9,653.5 M488.4,657.2 L488.2,655.2 L487.9,652.6 L487.6,649.5 L487.3,645.9 L487,642.2 L486.6,638.4 L486.3,634.8 L485.9,631.4 L485.7,628.4 L485.5,626.1 L485.4,625.1 M485.4,625.1 L484.6,622.1 L483.3,619.5 L481.5,616.4 L479.1,613.7 L476.5,611.6 L473.4,609.8 L470,608.1 L466.9,606.9 L463.6,605.7 L460.2,604.8 L456.7,604.1 L453.3,603.7 L449.6,603.8 L445.9,604.2 L442.5,604.7 L440.1,605 L439.9,605 M439.9,606.1 L442.1,608.1 L445.2,610.6 L448.4,612.6 L451.6,614.5 L452.5,615 M452.2,619.8 L454.2,621.4 L457,623.7 L460.1,626.2 L463,628.5 L466.1,630.9 L469.3,633.4 L471.9,635.4 L472.9,636.1 M473.2,640.5 L475.3,642.4 L478.3,645.1 L480.9,647.8 L483.2,650.6 L485.1,653.3 L486.7,656.6 L487.2,658.4 M488.9,653.5 L489,651.5 L489.1,648.6 L489.2,645.2 L489.3,641.7 L489.5,638.4 L489.6,635.4 L489.7,632.5 L489.9,629.6 L490.1,626.7 L490.3,623.6 L490.5,620.7 L490.7,617.7 L491,614.7 L491.2,611.6 L491.5,608.7 L491.7,605.7 L492,602.7 L492.3,599.8 L492.6,596.9 L492.9,594 L493.3,591 L493.8,588 L494.2,585 L494.8,582 L495.5,579.2 L496.5,576.4 L497.5,573.6 L498.8,571 L500.4,568.5 L502.3,566.3 L504.4,564.5 L506.9,562.8 L509.6,561.3 L512.5,559.9 L515.3,558.7 L518.3,557.6 L521.5,556.8 L524.7,556.2 L527.8,555.6 L530.7,555.1 L534.5,554.6 L538.3,554.3 L541.3,554.2 L542.5,554.1 M489.9,659.9 L490.1,657.9 L490.3,655.3 L490.6,652.1 L490.9,648.7 L491.1,645.2 L491.4,642 L491.7,639.1 L492,635.9 L492.3,632.9 L492.6,630.1 L492.8,627.3 L493.2,624.3 L493.4,621.4 L493.7,618.4 L494,615.4 L494.4,612.4 L494.7,609.5 L495.1,606.5 L495.4,603.5 L495.8,600.5 L496.3,597.6 L496.8,594.8 L497.5,591.9 L498.3,589 L499.2,586.2 L500.3,583.5 L501.5,580.9 L503,578.4 L504.7,575.9 L506.6,573.7 L508.8,571.6 L511.1,569.9 L513.7,568.3 L516.4,566.7 L519.2,565.2 L522,563.8 L524.9,562.4 L527.8,561.1 L530.6,559.9 L533.3,558.7 L536.5,557.1 L539.5,555.6 L541.8,554.4 L542.5,554.1" stroke="#ff00ff" stroke-width="2.6" fill="none" stroke-linejoin="round" stroke-linecap="round"/>
<path d="M490.6,697.3 L490.5,695.5 L490.3,693 L490.1,690 L489.9,686.7 L489.7,683.2 L489.5,679.6 L489.3,676 L489.1,672.6 L489,669.5 L488.9,666.8 L488.9,663.3 L489.3,659.4 L489.9,656.7 L490.4,654.9 L490.5,654.2 M490,657.8 L489.8,655.9 L489.6,653.3 L489.3,650.1 L488.9,646.6 L488.6,642.8 L488.2,639.1 L487.9,635.4 L487.6,632 L487.3,629 L487.1,626.7 L487,625.7 M487,625.7 L486.2,622.7 L484.9,620.1 L483.1,617 L480.8,614.3 L478.2,612.2 L475.1,610.3 L471.6,608.7 L468.5,607.4 L465.3,606.3 L461.8,605.4 L458.3,604.6 L455,604.3 L451.3,604.4 L447.5,604.8 L444.2,605.3 L441.7,605.6 L441.5,605.6 M441.5,606.7 L443.7,608.7 L446.9,611.2 L450.1,613.3 L453.2,615.1 L454.1,615.6 M453.9,620.4 L455.8,622 L458.6,624.3 L461.7,626.8 L464.6,629.2 L467.8,631.6 L470.9,634 L473.5,636 L474.6,636.8 M474.8,641.2 L477,643.1 L480,645.8 L482.6,648.5 L484.9,651.3 L486.7,653.9 L488.3,657.3 L488.8,659.1 M490.5,654.2 L490.6,652.1 L490.7,649.2 L490.8,645.8 L491,642.3 L491.1,639 L491.2,636 L491.4,633.1 L491.5,630.2 L491.7,627.2 L491.9,624.1 L492.1,621.3 L492.4,618.3 L492.6,615.2 L492.9,612.2 L493.2,609.2 L493.4,606.3 L493.7,603.2 L494,600.3 L494.3,597.4 L494.6,594.5 L495,591.5 L495.4,588.5 L495.9,585.4 L496.5,582.5 L497.2,579.6 L498.2,576.8 L499.3,574.1 L500.5,571.4 L502.1,568.9 L504,566.7 L506.2,564.9 L508.7,563.2 L511.4,561.6 L514.2,560.2 L517.1,559 L520,558 L523.2,557.1 L526.5,556.5 L529.6,555.9 L532.5,555.4 L536.3,554.9 L540.1,554.6 L543.1,554.4 L544.3,554.3 M491.5,660.5 L491.7,658.6 L491.9,655.9 L492.2,652.8 L492.5,649.3 L492.8,645.9 L493.1,642.6 L493.3,639.7 L493.6,636.5 L493.9,633.5 L494.2,630.7 L494.5,627.9 L494.8,624.9 L495.1,622 L495.4,619 L495.7,616 L496,612.9 L496.4,610 L496.7,607.1 L497.1,604 L497.5,601 L498,598.1 L498.5,595.3 L499.2,592.4 L500,589.4 L500.9,586.6 L502,583.9 L503.3,581.3 L504.7,578.8 L506.4,576.4 L508.3,574.1 L510.5,572 L512.8,570.3 L515.4,568.6 L518.2,567.1 L521,565.6 L523.7,564.1 L526.6,562.8 L529.5,561.5 L532.4,560.2 L535.1,559 L538.3,557.4 L541.3,555.9 L543.6,554.7 L544.3,554.3" stroke="#ffff00" stroke-width="2.6" fill="none" stroke-linejoin="round" stroke-linecap="round"/>
<path d="M492.2,698.1 L492.1,696.3 L491.9,693.8 L491.7,690.8 L491.5,687.5 L491.3,683.9 L491.1,680.3 L490.9,676.7 L490.7,673.3 L490.6,670.2 L490.5,667.5 L490.5,664 L490.9,660 L491.5,657.4 L492,655.5 L492.2,654.9 M491.6,658.5 L491.4,656.6 L491.2,654 L490.9,650.8 L490.6,647.2 L490.2,643.5 L489.9,639.7 L489.5,636 L489.2,632.6 L489,629.6 L488.7,627.3 L488.7,626.3 M488.7,626.3 L487.9,623.3 L486.6,620.7 L484.8,617.6 L482.4,614.9 L479.8,612.8 L476.7,610.9 L473.2,609.2 L470.2,608 L466.9,606.9 L463.5,605.9 L460,605.2 L456.6,604.9 L452.9,605 L449.1,605.4 L445.8,605.9 L443.3,606.2 L443.1,606.3 M443.1,607.3 L445.4,609.3 L448.5,611.9 L451.7,613.9 L454.8,615.7 L455.7,616.2 M455.5,621 L457.4,622.6 L460.2,624.9 L463.3,627.5 L466.2,629.8 L469.4,632.2 L472.5,634.7 L475.2,636.7 L476.2,637.4 M476.4,641.8 L478.6,643.8 L481.6,646.5 L484.2,649.2 L486.5,652 L488.4,654.6 L489.9,658 L490.4,659.8 M492.2,654.9 L492.2,652.8 L492.3,649.9 L492.5,646.5 L492.6,642.9 L492.7,639.7 L492.9,636.6 L493,633.7 L493.2,630.8 L493.4,627.8 L493.6,624.7 L493.8,621.8 L494,618.8 L494.3,615.8 L494.6,612.7 L494.8,609.8 L495.1,606.8 L495.4,603.7 L495.6,600.8 L495.9,597.9 L496.3,595 L496.7,592 L497.1,588.9 L497.6,585.9 L498.2,582.9 L498.9,580.1 L499.9,577.2 L501,574.5 L502.2,571.8 L503.8,569.3 L505.7,567.1 L507.9,565.2 L510.4,563.5 L513.1,562 L515.9,560.6 L518.8,559.3 L521.8,558.3 L525,557.5 L528.2,556.8 L531.4,556.2 L534.3,555.7 L538.1,555.2 L541.9,554.9 L544.9,554.7 L546.1,554.6 M493.2,661.2 L493.3,659.3 L493.6,656.6 L493.8,653.4 L494.1,650 L494.4,646.5 L494.7,643.2 L495,640.3 L495.3,637.1 L495.6,634.1 L495.9,631.3 L496.2,628.5 L496.5,625.5 L496.8,622.6 L497.1,619.6 L497.4,616.5 L497.7,613.5 L498,610.6 L498.4,607.6 L498.8,604.5 L499.2,601.5 L499.7,598.6 L500.2,595.8 L500.9,592.8 L501.7,589.9 L502.6,587.1 L503.7,584.4 L505,581.8 L506.4,579.2 L508.1,576.8 L510,574.5 L512.2,572.4 L514.6,570.6 L517.2,569 L519.9,567.4 L522.7,565.9 L525.5,564.5 L528.4,563.1 L531.3,561.8 L534.1,560.5 L536.8,559.3 L540,557.7 L543.1,556.2 L545.4,555 L546.1,554.6" stroke="#909000" stroke-width="2.6" fill="none" stroke-linejoin="round" stroke-linecap="round"/>
<path d="M493.8,698.9 L493.7,697.1 L493.5,694.6 L493.3,691.6 L493.1,688.3 L492.9,684.7 L492.7,681 L492.5,677.4 L492.3,674 L492.2,670.9 L492.1,668.2 L492.2,664.7 L492.6,660.7 L493.1,658 L493.7,656.2 L493.8,655.6 M493.2,659.2 L493,657.3 L492.8,654.6 L492.5,651.5 L492.2,647.9 L491.9,644.1 L491.5,640.3 L491.2,636.6 L490.9,633.2 L490.6,630.2 L490.4,627.9 L490.3,626.9 M490.3,626.9 L489.5,623.9 L488.2,621.3 L486.4,618.1 L484.1,615.4 L481.5,613.4 L478.4,611.5 L474.9,609.8 L471.8,608.6 L468.5,607.5 L465.1,606.5 L461.6,605.8 L458.2,605.5 L454.5,605.6 L450.8,606 L447.4,606.5 L445,606.9 L444.7,606.9 M444.8,607.9 L447,609.9 L450.1,612.5 L453.3,614.5 L456.5,616.3 L457.3,616.8 M457.1,621.7 L459,623.3 L461.8,625.6 L465,628.1 L467.9,630.4 L471,632.9 L474.2,635.3 L476.8,637.3 L477.8,638.1 M478,642.5 L480.2,644.4 L483.2,647.1 L485.8,649.8 L488.1,652.6 L490,655.3 L491.6,658.7 L492.1,660.5 M493.8,655.6 L493.9,653.5 L494,650.5 L494.1,647.1 L494.2,643.6 L494.4,640.3 L494.5,637.2 L494.7,634.3 L494.8,631.4 L495,628.4 L495.2,625.3 L495.5,622.4 L495.7,619.4 L496,616.3 L496.2,613.3 L496.5,610.3 L496.8,607.3 L497,604.2 L497.3,601.3 L497.6,598.4 L498,595.4 L498.4,592.5 L498.8,589.4 L499.3,586.4 L499.9,583.4 L500.6,580.5 L501.6,577.7 L502.7,574.9 L503.9,572.2 L505.5,569.7 L507.5,567.5 L509.6,565.6 L512.1,563.9 L514.8,562.3 L517.7,560.9 L520.5,559.7 L523.5,558.6 L526.7,557.8 L530,557.1 L533.1,556.5 L536,556 L539.9,555.5 L543.6,555.1 L546.7,555 L547.9,554.9 M494.8,661.9 L494.9,660 L495.2,657.3 L495.4,654.1 L495.7,650.6 L496,647.1 L496.3,643.9 L496.6,640.9 L496.9,637.7 L497.2,634.7 L497.5,631.9 L497.8,629.1 L498.1,626.1 L498.4,623.1 L498.7,620.1 L499,617.1 L499.4,614 L499.7,611.1 L500.1,608.1 L500.5,605 L500.9,602 L501.4,599.1 L501.9,596.2 L502.6,593.3 L503.4,590.3 L504.3,587.5 L505.4,584.8 L506.7,582.2 L508.2,579.6 L509.8,577.2 L511.7,574.9 L513.9,572.8 L516.3,571 L518.9,569.4 L521.7,567.8 L524.4,566.3 L527.2,564.8 L530.1,563.4 L533.1,562.1 L535.9,560.8 L538.6,559.6 L541.8,558 L544.8,556.4 L547.2,555.2 L547.9,554.9" stroke="#000080" stroke-width="2.6" fill="none" stroke-linejoin="round" stroke-linecap="round"/>
<path d="M495.3,699.7 L495.2,697.9 L495.1,695.4 L494.9,692.4 L494.7,689 L494.5,685.4 L494.3,681.8 L494.1,678.2 L493.9,674.7 L493.8,671.6 L493.7,668.9 L493.8,665.4 L494.2,661.4 L494.8,658.7 L495.3,656.9 L495.4,656.2 M494.8,659.9 L494.7,657.9 L494.4,655.3 L494.1,652.1 L493.8,648.5 L493.5,644.8 L493.2,640.9 L492.8,637.2 L492.5,633.8 L492.3,630.8 L492,628.5 L492,627.4 M492,627.4 L491.2,624.4 L489.9,621.8 L488.1,618.7 L485.7,616 L483.1,613.9 L480,612 L476.5,610.4 L473.5,609.2 L470.2,608.1 L466.7,607.1 L463.3,606.4 L459.9,606.1 L456.2,606.2 L452.4,606.6 L449,607.1 L446.6,607.5 L446.3,607.5 M446.4,608.5 L448.6,610.6 L451.7,613.1 L454.9,615.1 L458.1,617 L458.9,617.5 M458.7,622.3 L460.7,623.9 L463.5,626.2 L466.6,628.8 L469.5,631.1 L472.6,633.5 L475.8,636 L478.4,638 L479.4,638.7 M479.7,643.2 L481.8,645.1 L484.8,647.8 L487.4,650.5 L489.7,653.3 L491.6,656 L493.2,659.3 L493.7,661.2 M495.4,656.2 L495.5,654.1 L495.6,651.2 L495.7,647.8 L495.9,644.2 L496,640.9 L496.2,637.9 L496.3,634.9 L496.5,632 L496.7,629 L496.9,625.9 L497.1,623 L497.4,620 L497.6,616.9 L497.9,613.8 L498.2,610.8 L498.4,607.8 L498.7,604.7 L499,601.8 L499.3,598.9 L499.7,595.9 L500.1,592.9 L500.5,589.9 L501,586.8 L501.6,583.8 L502.4,580.9 L503.3,578.1 L504.4,575.3 L505.7,572.6 L507.2,570.1 L509.2,567.9 L511.4,566 L513.8,564.3 L516.6,562.7 L519.4,561.3 L522.3,560 L525.3,559 L528.5,558.1 L531.7,557.4 L534.9,556.8 L537.8,556.3 L541.6,555.7 L545.4,555.4 L548.5,555.2 L549.7,555.1 M496.4,662.6 L496.6,660.7 L496.8,658 L497.1,654.8 L497.4,651.3 L497.7,647.8 L498,644.5 L498.2,641.5 L498.6,638.3 L498.9,635.3 L499.2,632.5 L499.5,629.6 L499.8,626.6 L500.1,623.7 L500.4,620.7 L500.7,617.6 L501,614.6 L501.4,611.6 L501.8,608.6 L502.2,605.5 L502.6,602.5 L503,599.5 L503.6,596.7 L504.3,593.8 L505.1,590.8 L506,588 L507.1,585.3 L508.4,582.6 L509.9,580 L511.5,577.6 L513.5,575.3 L515.7,573.2 L518,571.4 L520.6,569.7 L523.4,568.1 L526.2,566.6 L529,565.1 L531.9,563.7 L534.8,562.4 L537.6,561.1 L540.3,559.9 L543.6,558.2 L546.6,556.7 L549,555.5 L549.7,555.1" stroke="#800080" stroke-width="2.6" fill="none" stroke-linejoin="round" stroke-linecap="round"/>
<path d="M496.9,700.5 L496.8,698.6 L496.7,696.1 L496.5,693.1 L496.3,689.8 L496.1,686.2 L495.9,682.5 L495.7,678.9 L495.5,675.5 L495.4,672.3 L495.3,669.6 L495.4,666.1 L495.8,662.1 L496.4,659.4 L496.9,657.6 L497,656.9 M496.5,660.6 L496.3,658.6 L496,656 L495.8,652.8 L495.5,649.2 L495.1,645.4 L494.8,641.6 L494.5,637.9 L494.2,634.4 L493.9,631.4 L493.7,629.1 L493.6,628 M493.6,628 L492.8,625 L491.5,622.4 L489.7,619.3 L487.4,616.6 L484.8,614.5 L481.7,612.6 L478.2,610.9 L475.1,609.7 L471.8,608.6 L468.4,607.7 L464.9,607 L461.5,606.7 L457.8,606.8 L454,607.3 L450.7,607.7 L448.2,608.1 L448,608.1 M448,609.2 L450.2,611.2 L453.3,613.7 L456.5,615.8 L459.7,617.6 L460.6,618.1 M460.3,622.9 L462.3,624.6 L465.1,626.9 L468.2,629.4 L471.1,631.7 L474.2,634.2 L477.4,636.6 L480,638.6 L481.1,639.4 M481.3,643.8 L483.4,645.7 L486.4,648.5 L489,651.2 L491.3,654 L493.2,656.6 L494.8,660 L495.3,661.9 M497,656.9 L497.1,654.8 L497.2,651.8 L497.4,648.4 L497.5,644.8 L497.6,641.5 L497.8,638.5 L498,635.5 L498.1,632.6 L498.3,629.6 L498.5,626.5 L498.8,623.6 L499,620.5 L499.3,617.4 L499.6,614.3 L499.8,611.3 L500.1,608.3 L500.4,605.3 L500.7,602.3 L501,599.4 L501.4,596.4 L501.8,593.4 L502.2,590.3 L502.7,587.3 L503.3,584.3 L504.1,581.4 L505,578.5 L506.1,575.7 L507.4,573 L508.9,570.5 L510.9,568.3 L513.1,566.4 L515.6,564.6 L518.3,563 L521.2,561.6 L524,560.3 L527,559.3 L530.2,558.4 L533.5,557.7 L536.7,557.1 L539.6,556.6 L543.4,556 L547.2,555.7 L550.2,555.5 L551.4,555.4 M498,663.3 L498.2,661.3 L498.4,658.6 L498.7,655.4 L499,651.9 L499.3,648.4 L499.6,645.1 L499.9,642.2 L500.2,638.9 L500.5,635.9 L500.8,633.1 L501.1,630.2 L501.4,627.2 L501.7,624.3 L502.1,621.2 L502.4,618.1 L502.7,615.1 L503,612.1 L503.4,609.1 L503.8,606 L504.3,603 L504.7,600 L505.3,597.2 L506,594.2 L506.8,591.3 L507.7,588.4 L508.8,585.7 L510.1,583.1 L511.6,580.4 L513.2,578 L515.2,575.7 L517.4,573.6 L519.8,571.8 L522.4,570.1 L525.1,568.5 L527.9,567 L530.7,565.5 L533.6,564.1 L536.6,562.7 L539.4,561.4 L542.1,560.2 L545.4,558.5 L548.4,557 L550.7,555.8 L551.4,555.4" stroke="#800000" stroke-width="2.6" fill="none" stroke-linejoin="round" stroke-linecap="round"/>
<path d="M498.5,701.3 L498.4,699.4 L498.3,696.9 L498.1,693.9 L497.9,690.6 L497.7,687 L497.5,683.3 L497.3,679.6 L497.1,676.2 L497,673 L496.9,670.4 L497,666.8 L497.4,662.8 L498,660.1 L498.5,658.2 L498.7,657.6 M498.1,661.3 L497.9,659.3 L497.7,656.6 L497.4,653.4 L497.1,649.8 L496.8,646 L496.4,642.2 L496.1,638.5 L495.8,635 L495.5,632 L495.3,629.6 L495.2,628.6 M495.2,628.6 L494.5,625.6 L493.2,623 L491.4,619.9 L489,617.1 L486.4,615.1 L483.3,613.2 L479.8,611.5 L476.8,610.3 L473.5,609.2 L470,608.3 L466.5,607.6 L463.1,607.3 L459.4,607.4 L455.6,607.9 L452.3,608.4 L449.8,608.7 L449.6,608.7 M449.6,609.8 L451.8,611.8 L455,614.4 L458.2,616.4 L461.3,618.2 L462.2,618.7 M462,623.6 L463.9,625.2 L466.7,627.5 L469.8,630 L472.7,632.4 L475.9,634.8 L479,637.2 L481.7,639.2 L482.7,640 M482.9,644.5 L485.1,646.4 L488.1,649.1 L490.7,651.8 L492.9,654.6 L494.8,657.3 L496.4,660.7 L496.9,662.5 M498.7,657.6 L498.7,655.5 L498.8,652.5 L499,649 L499.1,645.5 L499.3,642.2 L499.4,639.1 L499.6,636.1 L499.8,633.2 L500,630.2 L500.2,627 L500.4,624.1 L500.7,621.1 L500.9,618 L501.2,614.9 L501.5,611.9 L501.8,608.9 L502.1,605.8 L502.4,602.8 L502.7,599.8 L503,596.9 L503.5,593.9 L503.9,590.8 L504.4,587.7 L505,584.7 L505.8,581.8 L506.7,579 L507.8,576.1 L509.1,573.4 L510.7,570.9 L512.6,568.6 L514.8,566.7 L517.3,565 L520,563.4 L522.9,561.9 L525.8,560.7 L528.8,559.6 L532,558.7 L535.3,558 L538.4,557.4 L541.3,556.9 L545.2,556.3 L549,556 L552,555.8 L553.2,555.7 M499.6,664 L499.8,662 L500,659.3 L500.3,656.1 L500.6,652.6 L500.9,649.1 L501.2,645.8 L501.5,642.8 L501.8,639.5 L502.2,636.5 L502.5,633.7 L502.8,630.8 L503.1,627.8 L503.4,624.8 L503.7,621.8 L504,618.7 L504.4,615.6 L504.7,612.7 L505.1,609.7 L505.5,606.5 L505.9,603.5 L506.4,600.5 L507,597.7 L507.7,594.7 L508.5,591.7 L509.4,588.9 L510.5,586.1 L511.8,583.5 L513.3,580.9 L515,578.4 L516.9,576.1 L519.1,574 L521.5,572.2 L524.1,570.5 L526.9,568.9 L529.7,567.3 L532.5,565.8 L535.4,564.4 L538.3,563 L541.2,561.8 L543.9,560.5 L547.1,558.8 L550.2,557.3 L552.5,556 L553.2,555.7" stroke="#008000" stroke-width="2.6" fill="none" stroke-linejoin="round" stroke-linecap="round"/>
<path d="M500.1,702.1 L500,700.2 L499.8,697.7 L499.7,694.7 L499.5,691.3 L499.3,687.7 L499.1,684 L498.9,680.4 L498.7,676.9 L498.6,673.8 L498.5,671.1 L498.6,667.5 L499,663.5 L499.6,660.8 L500.1,658.9 L500.3,658.2 M499.7,661.9 L499.5,660 L499.3,657.3 L499,654.1 L498.7,650.5 L498.4,646.7 L498.1,642.8 L497.7,639.1 L497.4,635.6 L497.2,632.6 L497,630.2 L496.9,629.2 M496.9,629.2 L496.1,626.2 L494.8,623.6 L493,620.4 L490.7,617.7 L488.1,615.6 L485,613.8 L481.5,612.1 L478.4,610.9 L475.1,609.8 L471.7,608.8 L468.2,608.2 L464.8,607.9 L461.1,608 L457.3,608.5 L453.9,609 L451.4,609.3 L451.2,609.4 M451.2,610.4 L453.5,612.4 L456.6,615 L459.8,617 L463,618.8 L463.8,619.3 M463.6,624.2 L465.5,625.8 L468.3,628.1 L471.4,630.7 L474.4,633 L477.5,635.4 L480.7,637.9 L483.3,639.9 L484.3,640.7 M484.5,645.1 L486.7,647.1 L489.7,649.8 L492.3,652.5 L494.6,655.3 L496.5,658 L498,661.4 L498.5,663.2 M500.3,658.2 L500.4,656.1 L500.5,653.2 L500.6,649.7 L500.8,646.1 L500.9,642.8 L501.1,639.7 L501.2,636.7 L501.4,633.8 L501.6,630.8 L501.9,627.6 L502.1,624.7 L502.3,621.6 L502.6,618.5 L502.9,615.4 L503.2,612.4 L503.5,609.4 L503.8,606.3 L504,603.3 L504.4,600.3 L504.7,597.4 L505.2,594.4 L505.6,591.3 L506.1,588.2 L506.7,585.2 L507.5,582.3 L508.4,579.4 L509.5,576.6 L510.8,573.8 L512.4,571.3 L514.3,569 L516.5,567.1 L519,565.4 L521.8,563.7 L524.6,562.3 L527.5,561 L530.5,559.9 L533.8,559 L537,558.3 L540.2,557.7 L543.1,557.2 L546.9,556.6 L550.7,556.2 L553.8,556 L555,555.9 M501.2,664.7 L501.4,662.7 L501.7,660 L501.9,656.7 L502.3,653.2 L502.6,649.7 L502.9,646.4 L503.2,643.4 L503.5,640.1 L503.8,637.1 L504.1,634.3 L504.4,631.4 L504.7,628.4 L505.1,625.4 L505.4,622.3 L505.7,619.2 L506,616.2 L506.4,613.2 L506.8,610.2 L507.2,607 L507.6,604 L508.1,601 L508.7,598.2 L509.4,595.2 L510.2,592.2 L511.1,589.3 L512.2,586.6 L513.5,583.9 L515,581.3 L516.7,578.8 L518.6,576.5 L520.8,574.3 L523.2,572.5 L525.8,570.8 L528.6,569.2 L531.4,567.7 L534.2,566.2 L537.1,564.7 L540.1,563.4 L542.9,562.1 L545.6,560.8 L548.9,559.1 L551.9,557.5 L554.3,556.3 L555,555.9" stroke="#008080" stroke-width="2.6" fill="none" stroke-linejoin="round" stroke-linecap="round"/>
<path d="M501.7,702.9 L501.6,701 L501.4,698.5 L501.3,695.5 L501.1,692.1 L500.9,688.5 L500.7,684.8 L500.5,681.1 L500.3,677.6 L500.2,674.5 L500.2,671.8 L500.2,668.2 L500.6,664.2 L501.2,661.4 L501.8,659.6 L501.9,658.9 M501.3,662.6 L501.1,660.7 L500.9,658 L500.6,654.7 L500.3,651.1 L500,647.3 L499.7,643.5 L499.4,639.7 L499.1,636.2 L498.8,633.2 L498.6,630.8 L498.5,629.8 M498.5,629.8 L497.8,626.8 L496.5,624.1 L494.7,621 L492.4,618.3 L489.7,616.2 L486.6,614.3 L483.1,612.7 L480,611.5 L476.8,610.4 L473.3,609.4 L469.8,608.7 L466.4,608.4 L462.7,608.6 L458.9,609.1 L455.5,609.6 L453.1,610 L452.8,610 M452.9,611 L455.1,613 L458.2,615.6 L461.4,617.6 L464.6,619.5 L465.4,620 M465.2,624.9 L467.1,626.5 L469.9,628.8 L473.1,631.3 L476,633.7 L479.1,636.1 L482.3,638.5 L484.9,640.5 L485.9,641.3 M486.1,645.8 L488.3,647.7 L491.3,650.5 L493.9,653.2 L496.2,656 L498.1,658.7 L499.6,662.1 L500.1,663.9 M501.9,658.9 L502,656.8 L502.1,653.8 L502.2,650.3 L502.4,646.7 L502.6,643.4 L502.7,640.3 L502.9,637.3 L503.1,634.4 L503.3,631.4 L503.5,628.2 L503.7,625.3 L504,622.2 L504.3,619.1 L504.6,616 L504.8,612.9 L505.1,609.9 L505.4,606.8 L505.7,603.8 L506,600.8 L506.4,597.9 L506.9,594.8 L507.3,591.7 L507.8,588.6 L508.4,585.6 L509.2,582.7 L510.2,579.8 L511.2,577 L512.5,574.3 L514.1,571.7 L516.1,569.4 L518.3,567.5 L520.8,565.7 L523.5,564.1 L526.4,562.6 L529.3,561.3 L532.3,560.3 L535.5,559.4 L538.8,558.6 L541.9,558 L544.9,557.5 L548.7,556.9 L552.5,556.5 L555.6,556.3 L556.8,556.2 M502.9,665.4 L503,663.4 L503.3,660.6 L503.6,657.4 L503.9,653.9 L504.2,650.4 L504.5,647 L504.8,644 L505.1,640.7 L505.4,637.7 L505.8,634.9 L506.1,632 L506.4,629 L506.7,626 L507,622.9 L507.4,619.8 L507.7,616.7 L508.1,613.7 L508.5,610.7 L508.9,607.5 L509.3,604.5 L509.8,601.5 L510.4,598.6 L511.1,595.7 L511.9,592.6 L512.8,589.8 L513.9,587 L515.2,584.3 L516.7,581.7 L518.4,579.2 L520.3,576.9 L522.6,574.7 L524.9,572.9 L527.6,571.2 L530.4,569.6 L533.2,568 L535.9,566.5 L538.9,565.1 L541.8,563.7 L544.7,562.4 L547.4,561.1 L550.7,559.4 L553.7,557.8 L556.1,556.6 L556.8,556.2" stroke="#2020c0" stroke-width="2.6" fill="none" stroke-linejoin="round" stroke-linecap="round"/>
<path d="M503.2,703.7 L503.2,701.8 L503,699.3 L502.8,696.2 L502.6,692.8 L502.4,689.2 L502.3,685.5 L502.1,681.9 L501.9,678.4 L501.8,675.2 L501.8,672.5 L501.8,668.9 L502.3,664.8 L502.9,662.1 L503.4,660.2 L503.5,659.6 M502.9,663.3 L502.8,661.3 L502.5,658.6 L502.3,655.4 L502,651.8 L501.6,648 L501.3,644.1 L501,640.3 L500.7,636.9 L500.5,633.8 L500.3,631.4 L500.2,630.4 M500.2,630.4 L499.4,627.4 L498.1,624.7 L496.3,621.6 L494,618.9 L491.4,616.8 L488.3,614.9 L484.8,613.2 L481.7,612 L478.4,610.9 L475,610 L471.5,609.3 L468,609 L464.3,609.2 L460.5,609.7 L457.2,610.2 L454.7,610.6 L454.4,610.6 M454.5,611.7 L456.7,613.7 L459.8,616.2 L463,618.3 L466.2,620.1 L467.1,620.6 M466.8,625.5 L468.8,627.1 L471.6,629.4 L474.7,632 L477.6,634.3 L480.7,636.7 L483.9,639.2 L486.5,641.2 L487.6,642 M487.8,646.5 L489.9,648.4 L492.9,651.1 L495.5,653.8 L497.8,656.7 L499.7,659.3 L501.3,662.8 L501.7,664.6 M503.5,659.6 L503.6,657.5 L503.7,654.5 L503.9,651 L504,647.4 L504.2,644 L504.4,640.9 L504.5,637.9 L504.7,635 L504.9,631.9 L505.2,628.8 L505.4,625.8 L505.7,622.8 L505.9,619.6 L506.2,616.5 L506.5,613.5 L506.8,610.4 L507.1,607.3 L507.4,604.3 L507.7,601.3 L508.1,598.4 L508.5,595.3 L509,592.2 L509.5,589.1 L510.1,586 L510.9,583.1 L511.9,580.2 L513,577.4 L514.2,574.7 L515.8,572.1 L517.8,569.8 L520,567.9 L522.5,566.1 L525.3,564.5 L528.1,563 L531,561.7 L534,560.6 L537.3,559.7 L540.5,558.9 L543.7,558.3 L546.6,557.8 L550.5,557.2 L554.3,556.8 L557.3,556.6 L558.6,556.5 M504.5,666 L504.7,664.1 L504.9,661.3 L505.2,658.1 L505.5,654.5 L505.8,651 L506.2,647.7 L506.4,644.7 L506.8,641.4 L507.1,638.3 L507.4,635.5 L507.7,632.6 L508.1,629.5 L508.4,626.5 L508.7,623.5 L509,620.3 L509.4,617.2 L509.7,614.3 L510.1,611.2 L510.6,608 L511,605 L511.5,602 L512,599.1 L512.8,596.1 L513.6,593.1 L514.5,590.2 L515.6,587.5 L516.9,584.8 L518.4,582.1 L520.1,579.6 L522.1,577.3 L524.3,575.1 L526.7,573.3 L529.3,571.6 L532.1,569.9 L534.9,568.4 L537.7,566.8 L540.6,565.4 L543.6,564 L546.5,562.7 L549.2,561.4 L552.4,559.7 L555.5,558.1 L557.9,556.9 L558.6,556.5" stroke="#ff8000" stroke-width="2.6" fill="none" stroke-linejoin="round" stroke-linecap="round"/>
<path d="M504.8,704.5 L504.7,702.6 L504.6,700.1 L504.4,697 L504.2,693.6 L504,690 L503.9,686.3 L503.7,682.6 L503.5,679.1 L503.4,675.9 L503.4,673.2 L503.4,669.6 L503.9,665.5 L504.5,662.8 L505,660.9 L505.1,660.2 M504.5,664 L504.4,662 L504.2,659.3 L503.9,656.1 L503.6,652.4 L503.3,648.6 L503,644.7 L502.7,640.9 L502.4,637.5 L502.1,634.4 L501.9,632 L501.8,631 M501.8,631 L501.1,627.9 L499.8,625.3 L498,622.2 L495.7,619.4 L493,617.3 L489.9,615.5 L486.4,613.8 L483.3,612.6 L480.1,611.5 L476.6,610.6 L473.1,609.9 L469.7,609.6 L465.9,609.8 L462.1,610.3 L458.8,610.8 L456.3,611.2 L456.1,611.2 M456.1,612.3 L458.3,614.3 L461.4,616.9 L464.7,618.9 L467.8,620.7 L468.7,621.2 M468.4,626.1 L470.4,627.8 L473.2,630.1 L476.3,632.6 L479.2,634.9 L482.3,637.4 L485.5,639.8 L488.2,641.8 L489.2,642.6 M489.4,647.1 L491.5,649.1 L494.5,651.8 L497.1,654.5 L499.4,657.3 L501.3,660 L502.9,663.4 L503.4,665.3 M505.1,660.2 L505.2,658.1 L505.4,655.1 L505.5,651.6 L505.7,648 L505.8,644.7 L506,641.6 L506.2,638.5 L506.4,635.6 L506.6,632.5 L506.8,629.4 L507.1,626.4 L507.3,623.3 L507.6,620.2 L507.9,617 L508.2,614 L508.5,611 L508.8,607.8 L509.1,604.8 L509.4,601.8 L509.8,598.8 L510.2,595.8 L510.7,592.7 L511.2,589.6 L511.8,586.5 L512.6,583.6 L513.6,580.7 L514.7,577.8 L516,575.1 L517.5,572.5 L519.5,570.2 L521.7,568.2 L524.2,566.5 L527,564.8 L529.9,563.3 L532.8,562 L535.8,560.9 L539,560 L542.3,559.2 L545.5,558.6 L548.4,558.1 L552.2,557.5 L556.1,557.1 L559.1,556.9 L560.3,556.8 M506.1,666.7 L506.3,664.7 L506.5,662 L506.8,658.7 L507.1,655.2 L507.5,651.6 L507.8,648.3 L508.1,645.3 L508.4,642 L508.7,638.9 L509.1,636.1 L509.4,633.2 L509.7,630.1 L510,627.1 L510.4,624 L510.7,620.9 L511,617.8 L511.4,614.8 L511.8,611.7 L512.2,608.6 L512.7,605.5 L513.2,602.5 L513.7,599.6 L514.5,596.6 L515.3,593.6 L516.2,590.7 L517.3,587.9 L518.6,585.2 L520.1,582.5 L521.8,580 L523.8,577.7 L526,575.5 L528.4,573.7 L531,571.9 L533.8,570.3 L536.6,568.7 L539.4,567.2 L542.4,565.7 L545.4,564.3 L548.2,563 L550.9,561.7 L554.2,560 L557.3,558.4 L559.6,557.1 L560.3,556.8" stroke="#8000ff" stroke-width="2.6" fill="none" stroke-linejoin="round" stroke-linecap="round"/>
<path d="M506.4,705.3 L506.3,703.4 L506.2,700.8 L506,697.8 L505.8,694.4 L505.6,690.7 L505.4,687 L505.3,683.3 L505.1,679.8 L505,676.6 L505,673.9 L505,670.3 L505.5,666.2 L506.1,663.5 L506.6,661.6 L506.8,660.9 M506.2,664.7 L506,662.7 L505.8,660 L505.5,656.7 L505.2,653.1 L504.9,649.2 L504.6,645.3 L504.3,641.6 L504,638.1 L503.8,635 L503.6,632.6 L503.5,631.6 M503.5,631.6 L502.7,628.5 L501.4,625.9 L499.6,622.7 L497.3,620 L494.7,617.9 L491.6,616 L488.1,614.4 L485,613.2 L481.7,612.1 L478.2,611.2 L474.7,610.5 L471.3,610.2 L467.6,610.4 L463.8,610.9 L460.4,611.4 L457.9,611.8 L457.7,611.8 M457.7,612.9 L459.9,614.9 L463.1,617.5 L466.3,619.5 L469.4,621.3 L470.3,621.8 M470,626.8 L472,628.4 L474.8,630.7 L477.9,633.3 L480.8,635.6 L484,638 L487.2,640.5 L489.8,642.5 L490.8,643.3 M491,647.8 L493.2,649.7 L496.2,652.5 L498.8,655.2 L501,658 L502.9,660.7 L504.5,664.1 L505,666 M506.8,660.9 L506.9,658.8 L507,655.8 L507.1,652.3 L507.3,648.6 L507.5,645.3 L507.6,642.2 L507.8,639.2 L508,636.2 L508.2,633.1 L508.5,629.9 L508.7,627 L509,623.9 L509.3,620.7 L509.6,617.6 L509.9,614.5 L510.2,611.5 L510.5,608.3 L510.8,605.3 L511.1,602.3 L511.5,599.3 L511.9,596.3 L512.4,593.1 L512.9,590 L513.5,586.9 L514.3,584 L515.3,581.1 L516.4,578.2 L517.7,575.5 L519.3,572.9 L521.2,570.6 L523.4,568.6 L526,566.8 L528.7,565.2 L531.6,563.7 L534.5,562.4 L537.5,561.2 L540.8,560.3 L544,559.6 L547.2,558.9 L550.1,558.4 L554,557.7 L557.8,557.4 L560.9,557.1 L562.1,557 M507.7,667.4 L507.9,665.4 L508.2,662.7 L508.4,659.4 L508.8,655.8 L509.1,652.3 L509.4,648.9 L509.7,645.9 L510.1,642.6 L510.4,639.5 L510.7,636.6 L511,633.7 L511.4,630.7 L511.7,627.7 L512,624.6 L512.4,621.4 L512.7,618.3 L513.1,615.3 L513.5,612.3 L513.9,609.1 L514.4,606 L514.9,603 L515.4,600.1 L516.2,597.1 L517,594 L517.9,591.1 L519,588.3 L520.3,585.6 L521.9,583 L523.5,580.4 L525.5,578.1 L527.7,575.9 L530.1,574 L532.8,572.3 L535.6,570.7 L538.4,569.1 L541.2,567.5 L544.1,566 L547.1,564.6 L550,563.3 L552.7,562 L556,560.3 L559,558.7 L561.4,557.4 L562.1,557" stroke="#ff0080" stroke-width="2.6" fill="none" stroke-linejoin="round" stroke-linecap="round"/>
<path d="M508,706.1 L507.9,704.2 L507.8,701.6 L507.6,698.6 L507.4,695.1 L507.2,691.5 L507,687.8 L506.9,684.1 L506.7,680.5 L506.6,677.3 L506.6,674.6 L506.7,671 L507.1,666.9 L507.7,664.2 L508.2,662.3 L508.4,661.6 M507.8,665.3 L507.6,663.4 L507.4,660.6 L507.1,657.4 L506.9,653.7 L506.5,649.9 L506.2,646 L505.9,642.2 L505.6,638.7 L505.4,635.6 L505.2,633.2 L505.1,632.2 M505.1,632.2 L504.4,629.1 L503.1,626.5 L501.3,623.3 L499,620.6 L496.3,618.5 L493.2,616.6 L489.7,614.9 L486.6,613.8 L483.3,612.7 L479.9,611.7 L476.4,611.1 L473,610.8 L469.2,611 L465.4,611.5 L462,612 L459.5,612.4 L459.3,612.5 M459.3,613.5 L461.6,615.5 L464.7,618.1 L467.9,620.1 L471.1,622 L471.9,622.5 M471.7,627.4 L473.6,629 L476.4,631.3 L479.5,633.9 L482.5,636.2 L485.6,638.7 L488.8,641.1 L491.4,643.1 L492.4,643.9 M492.6,648.4 L494.8,650.4 L497.8,653.1 L500.4,655.8 L502.7,658.7 L504.5,661.4 L506.1,664.8 L506.6,666.7 M508.4,661.6 L508.5,659.4 L508.6,656.4 L508.8,652.9 L508.9,649.3 L509.1,645.9 L509.3,642.8 L509.5,639.8 L509.7,636.8 L509.9,633.7 L510.1,630.5 L510.4,627.5 L510.6,624.4 L510.9,621.3 L511.2,618.1 L511.5,615.1 L511.8,612 L512.1,608.9 L512.4,605.8 L512.8,602.8 L513.2,599.8 L513.6,596.7 L514.1,593.6 L514.6,590.5 L515.2,587.4 L516,584.4 L517,581.5 L518.1,578.6 L519.4,575.9 L521,573.3 L523,571 L525.2,569 L527.7,567.2 L530.5,565.5 L533.4,564 L536.3,562.7 L539.3,561.6 L542.5,560.6 L545.8,559.9 L549,559.2 L551.9,558.7 L555.8,558 L559.6,557.6 L562.7,557.4 L563.9,557.3 M509.3,668.1 L509.5,666.1 L509.8,663.3 L510.1,660.1 L510.4,656.5 L510.7,652.9 L511.1,649.6 L511.4,646.5 L511.7,643.2 L512,640.1 L512.4,637.2 L512.7,634.3 L513,631.3 L513.4,628.2 L513.7,625.1 L514,622 L514.4,618.9 L514.8,615.8 L515.2,612.8 L515.6,609.6 L516,606.5 L516.5,603.5 L517.1,600.6 L517.8,597.5 L518.7,594.5 L519.6,591.6 L520.7,588.8 L522.1,586.1 L523.6,583.4 L525.3,580.9 L527.2,578.5 L529.5,576.3 L531.9,574.4 L534.5,572.7 L537.3,571 L540.1,569.4 L542.9,567.9 L545.9,566.4 L548.9,565 L551.7,563.6 L554.5,562.3 L557.7,560.6 L560.8,558.9 L563.2,557.7 L563.9,557.3" stroke="#ffffff" stroke-width="2.6" fill="none" stroke-linejoin="round" stroke-linecap="round"/>
<path d="M509.6,706.9 L509.5,705 L509.3,702.4 L509.2,699.3 L509,695.9 L508.8,692.3 L508.6,688.5 L508.5,684.8 L508.3,681.3 L508.2,678.1 L508.2,675.3 L508.3,671.7 L508.7,667.6 L509.3,664.8 L509.9,662.9 L510,662.3 M509.4,666 L509.2,664 L509,661.3 L508.8,658 L508.5,654.4 L508.2,650.5 L507.9,646.6 L507.6,642.8 L507.3,639.3 L507,636.2 L506.9,633.8 L506.8,632.8 M506.8,632.8 L506,629.7 L504.7,627 L502.9,623.9 L500.6,621.1 L498,619 L494.9,617.2 L491.4,615.5 L488.3,614.3 L485,613.2 L481.5,612.3 L478,611.7 L474.6,611.4 L470.8,611.6 L467,612.1 L463.6,612.7 L461.2,613.1 L460.9,613.1 M461,614.2 L463.2,616.2 L466.3,618.7 L469.5,620.8 L472.7,622.6 L473.6,623.1 M473.3,628.1 L475.2,629.7 L478,632 L481.2,634.5 L484.1,636.9 L487.2,639.3 L490.4,641.8 L493,643.8 L494.1,644.6 M494.2,649.1 L496.4,651 L499.4,653.8 L502,656.5 L504.3,659.3 L506.2,662.1 L507.7,665.5 L508.2,667.4 M510,662.3 L510.1,660.1 L510.2,657.1 L510.4,653.6 L510.6,649.9 L510.8,646.5 L510.9,643.4 L511.1,640.4 L511.3,637.4 L511.5,634.3 L511.8,631.1 L512,628.1 L512.3,625 L512.6,621.8 L512.9,618.7 L513.2,615.6 L513.5,612.5 L513.8,609.4 L514.1,606.3 L514.5,603.3 L514.8,600.3 L515.3,597.2 L515.8,594.1 L516.3,590.9 L516.9,587.8 L517.7,584.9 L518.7,581.9 L519.8,579 L521.1,576.3 L522.7,573.7 L524.7,571.3 L526.9,569.4 L529.4,567.5 L532.2,565.9 L535.1,564.4 L538,563 L541,561.9 L544.3,561 L547.6,560.2 L550.8,559.5 L553.7,558.9 L557.6,558.3 L561.4,557.9 L564.5,557.7 L565.7,557.6 M511,668.8 L511.1,666.8 L511.4,664 L511.7,660.7 L512,657.2 L512.4,653.6 L512.7,650.2 L513,647.1 L513.3,643.8 L513.7,640.7 L514,637.8 L514.3,634.9 L514.7,631.8 L515,628.8 L515.4,625.7 L515.7,622.5 L516.1,619.4 L516.4,616.4 L516.8,613.3 L517.3,610.1 L517.7,607 L518.2,604 L518.8,601 L519.5,598 L520.4,595 L521.3,592 L522.4,589.2 L523.8,586.5 L525.3,583.8 L527,581.3 L528.9,578.9 L531.2,576.7 L533.6,574.8 L536.2,573 L539.1,571.4 L541.9,569.8 L544.7,568.2 L547.6,566.7 L550.6,565.3 L553.5,563.9 L556.2,562.6 L559.5,560.8 L562.6,559.2 L565,557.9 L565.7,557.6" stroke="#c0c0c0" stroke-width="2.6" fill="none" stroke-linejoin="round" stroke-linecap="round"/>
<path d="M511.1,707.7 L511.1,705.8 L510.9,703.2 L510.8,700.1 L510.6,696.7 L510.4,693 L510.2,689.2 L510.1,685.5 L509.9,682 L509.8,678.8 L509.8,676 L509.9,672.4 L510.3,668.3 L511,665.5 L511.5,663.6 L511.6,662.9 M511,666.7 L510.9,664.7 L510.7,662 L510.4,658.7 L510.1,655 L509.8,651.2 L509.5,647.2 L509.2,643.4 L508.9,639.9 L508.7,636.8 L508.5,634.4 L508.4,633.4 M508.4,633.4 L507.7,630.3 L506.4,627.6 L504.6,624.5 L502.3,621.7 L499.6,619.6 L496.5,617.7 L493,616.1 L489.9,614.9 L486.6,613.8 L483.2,612.9 L479.7,612.3 L476.2,612 L472.5,612.2 L468.7,612.7 L465.3,613.3 L462.8,613.7 L462.5,613.7 M462.6,614.8 L464.8,616.8 L467.9,619.4 L471.1,621.4 L474.3,623.2 L475.2,623.7 M474.9,628.7 L476.9,630.3 L479.7,632.6 L482.8,635.2 L485.7,637.5 L488.8,640 L492,642.4 L494.7,644.4 L495.7,645.2 M495.9,649.8 L498,651.7 L501,654.4 L503.6,657.2 L505.9,660 L507.8,662.7 L509.3,666.2 L509.8,668 M511.6,662.9 L511.7,660.8 L511.9,657.7 L512,654.2 L512.2,650.5 L512.4,647.1 L512.6,644 L512.8,641 L513,638 L513.2,634.9 L513.4,631.7 L513.7,628.7 L514,625.6 L514.3,622.4 L514.6,619.2 L514.9,616.1 L515.2,613 L515.5,609.9 L515.8,606.8 L516.1,603.8 L516.5,600.8 L517,597.7 L517.5,594.5 L518,591.4 L518.6,588.3 L519.4,585.3 L520.4,582.4 L521.5,579.5 L522.8,576.7 L524.4,574.1 L526.4,571.7 L528.6,569.7 L531.2,567.9 L533.9,566.2 L536.8,564.7 L539.7,563.4 L542.8,562.2 L546,561.3 L549.3,560.5 L552.5,559.8 L555.4,559.2 L559.3,558.6 L563.2,558.2 L566.2,557.9 L567.5,557.8 M512.6,669.5 L512.8,667.5 L513,664.7 L513.3,661.4 L513.7,657.8 L514,654.2 L514.3,650.8 L514.6,647.8 L515,644.4 L515.3,641.4 L515.7,638.4 L516,635.5 L516.3,632.4 L516.7,629.4 L517,626.2 L517.4,623.1 L517.7,619.9 L518.1,616.9 L518.5,613.8 L519,610.6 L519.4,607.5 L519.9,604.4 L520.5,601.5 L521.2,598.5 L522.1,595.4 L523,592.5 L524.1,589.7 L525.5,586.9 L527,584.2 L528.7,581.7 L530.7,579.3 L532.9,577.1 L535.3,575.2 L538,573.4 L540.8,571.7 L543.6,570.1 L546.4,568.5 L549.4,567 L552.4,565.6 L555.3,564.2 L558,562.9 L561.3,561.1 L564.4,559.5 L566.7,558.2 L567.5,557.8" stroke="#808080" stroke-width="2.6" fill="none" stroke-linejoin="round" stroke-linecap="round"/>
<path d="M512.7,708.5 L512.6,706.6 L512.5,704 L512.4,700.9 L512.2,697.4 L512,693.8 L511.8,690 L511.7,686.3 L511.5,682.7 L511.5,679.5 L511.4,676.7 L511.5,673.1 L511.9,669 L512.6,666.2 L513.1,664.3 L513.3,663.6 M512.6,667.4 L512.5,665.4 L512.3,662.7 L512,659.4 L511.7,655.7 L511.4,651.8 L511.1,647.9 L510.8,644 L510.6,640.5 L510.3,637.4 L510.2,635 L510.1,634 M510.1,634 L509.3,630.9 L508,628.2 L506.2,625 L503.9,622.3 L501.3,620.2 L498.2,618.3 L494.7,616.7 L491.6,615.5 L488.3,614.4 L484.8,613.5 L481.3,612.8 L477.9,612.6 L474.1,612.8 L470.3,613.3 L466.9,613.9 L464.4,614.3 L464.2,614.3 M464.2,615.4 L466.4,617.4 L469.5,620 L472.8,622 L475.9,623.8 L476.8,624.3 M476.5,629.3 L478.5,630.9 L481.3,633.3 L484.4,635.8 L487.3,638.2 L490.5,640.6 L493.6,643.1 L496.3,645.1 L497.3,645.9 M497.5,650.4 L499.6,652.4 L502.6,655.1 L505.2,657.8 L507.5,660.7 L509.4,663.4 L511,666.8 L511.4,668.7 M513.3,663.6 L513.4,661.4 L513.5,658.4 L513.7,654.8 L513.8,651.2 L514,647.8 L514.2,644.6 L514.4,641.6 L514.6,638.6 L514.8,635.5 L515.1,632.2 L515.3,629.3 L515.6,626.1 L515.9,622.9 L516.2,619.8 L516.5,616.7 L516.8,613.6 L517.2,610.4 L517.5,607.3 L517.8,604.3 L518.2,601.3 L518.7,598.2 L519.1,595 L519.7,591.8 L520.3,588.7 L521.1,585.7 L522.1,582.8 L523.2,579.9 L524.5,577.1 L526.1,574.5 L528.1,572.1 L530.4,570.1 L532.9,568.3 L535.7,566.6 L538.6,565.1 L541.5,563.7 L544.5,562.5 L547.8,561.6 L551.1,560.8 L554.3,560.1 L557.2,559.5 L561.1,558.9 L564.9,558.5 L568,558.2 L569.2,558.1 M514.2,670.2 L514.4,668.1 L514.6,665.4 L515,662 L515.3,658.5 L515.6,654.8 L516,651.4 L516.3,648.4 L516.6,645 L517,642 L517.3,639 L517.6,636.1 L518,633 L518.3,629.9 L518.7,626.8 L519,623.6 L519.4,620.5 L519.8,617.4 L520.2,614.3 L520.6,611.1 L521.1,608 L521.6,604.9 L522.2,602 L522.9,599 L523.8,595.9 L524.7,592.9 L525.9,590.1 L527.2,587.4 L528.7,584.6 L530.4,582.1 L532.4,579.7 L534.6,577.4 L537,575.6 L539.7,573.8 L542.5,572.1 L545.4,570.4 L548.2,568.9 L551.1,567.4 L554.1,565.9 L557,564.5 L559.8,563.2 L563.1,561.4 L566.1,559.8 L568.5,558.5 L569.2,558.1" stroke="#ffff80" stroke-width="2.6" fill="none" stroke-linejoin="round" stroke-linecap="round"/>
<path d="M514.3,709.3 L514.2,707.3 L514.1,704.8 L513.9,701.7 L513.8,698.2 L513.6,694.5 L513.4,690.7 L513.3,687 L513.1,683.4 L513.1,680.2 L513,677.4 L513.1,673.8 L513.6,669.7 L514.2,666.9 L514.7,664.9 L514.9,664.3 M514.3,668.1 L514.1,666.1 L513.9,663.3 L513.6,660 L513.4,656.3 L513.1,652.4 L512.8,648.5 L512.5,644.7 L512.2,641.1 L512,638 L511.8,635.6 L511.7,634.6 M511.7,634.6 L511,631.5 L509.7,628.8 L507.9,625.6 L505.6,622.8 L502.9,620.8 L499.8,618.9 L496.3,617.2 L493.2,616 L489.9,615 L486.4,614.1 L482.9,613.4 L479.5,613.2 L475.7,613.4 L471.9,613.9 L468.5,614.5 L466,614.9 L465.8,614.9 M465.8,616 L468,618 L471.2,620.6 L474.4,622.6 L477.6,624.5 L478.4,625 M478.1,630 L480.1,631.6 L482.9,633.9 L486,636.5 L488.9,638.8 L492.1,641.3 L495.3,643.7 L497.9,645.7 L498.9,646.5 M499.1,651.1 L501.3,653 L504.3,655.8 L506.9,658.5 L509.1,661.4 L511,664.1 L512.6,667.5 L513.1,669.4 M514.9,664.3 L515,662.1 L515.1,659 L515.3,655.5 L515.5,651.8 L515.7,648.4 L515.9,645.2 L516,642.2 L516.3,639.2 L516.5,636.1 L516.7,632.8 L517,629.8 L517.3,626.7 L517.6,623.5 L517.9,620.3 L518.2,617.2 L518.5,614.1 L518.8,610.9 L519.2,607.8 L519.5,604.8 L519.9,601.8 L520.4,598.6 L520.8,595.5 L521.4,592.3 L522,589.2 L522.8,586.2 L523.8,583.2 L524.9,580.3 L526.2,577.5 L527.9,574.9 L529.9,572.5 L532.1,570.5 L534.6,568.6 L537.4,566.9 L540.3,565.4 L543.2,564 L546.3,562.9 L549.5,561.9 L552.8,561.1 L556,560.4 L559,559.8 L562.9,559.2 L566.7,558.7 L569.8,558.5 L571,558.4 M515.8,670.8 L516,668.8 L516.3,666 L516.6,662.7 L516.9,659.1 L517.3,655.5 L517.6,652.1 L517.9,649 L518.3,645.6 L518.6,642.6 L519,639.6 L519.3,636.7 L519.6,633.6 L520,630.5 L520.3,627.4 L520.7,624.2 L521.1,621 L521.4,618 L521.9,614.8 L522.3,611.6 L522.8,608.5 L523.3,605.4 L523.9,602.5 L524.6,599.4 L525.5,596.3 L526.4,593.4 L527.6,590.5 L528.9,587.8 L530.4,585.1 L532.1,582.5 L534.1,580.1 L536.4,577.8 L538.8,575.9 L541.5,574.1 L544.3,572.4 L547.1,570.8 L549.9,569.2 L552.9,567.7 L555.9,566.2 L558.8,564.8 L561.5,563.5 L564.8,561.7 L567.9,560 L570.3,558.7 L571,558.4" stroke="#80ffff" stroke-width="2.6" fill="none" stroke-linejoin="round" stroke-linecap="round"/>
<path d="M515.9,710.1 L515.8,708.1 L515.7,705.5 L515.5,702.4 L515.4,699 L515.2,695.3 L515,691.5 L514.9,687.7 L514.8,684.2 L514.7,680.9 L514.6,678.2 L514.7,674.5 L515.2,670.3 L515.8,667.5 L516.4,665.6 L516.5,664.9 M515.9,668.7 L515.7,666.7 L515.5,664 L515.3,660.7 L515,657 L514.7,653.1 L514.4,649.1 L514.1,645.3 L513.9,641.7 L513.6,638.6 L513.4,636.2 L513.4,635.1 M513.4,635.1 L512.6,632 L511.3,629.4 L509.5,626.2 L507.2,623.4 L504.6,621.3 L501.5,619.5 L498,617.8 L494.9,616.6 L491.6,615.6 L488.1,614.6 L484.6,614 L481.1,613.8 L477.4,614 L473.5,614.5 L470.1,615.1 L467.6,615.5 L467.4,615.6 M467.4,616.6 L469.7,618.7 L472.8,621.2 L476,623.3 L479.2,625.1 L480.1,625.6 M479.8,630.6 L481.7,632.2 L484.5,634.6 L487.6,637.1 L490.6,639.5 L493.7,641.9 L496.9,644.3 L499.5,646.4 L500.5,647.1 M500.7,651.7 L502.9,653.7 L505.9,656.4 L508.5,659.2 L510.8,662 L512.6,664.8 L514.2,668.2 L514.7,670.1 M516.5,664.9 L516.6,662.8 L516.8,659.7 L516.9,656.1 L517.1,652.4 L517.3,649 L517.5,645.9 L517.7,642.8 L517.9,639.7 L518.1,636.7 L518.4,633.4 L518.7,630.4 L518.9,627.2 L519.2,624 L519.6,620.8 L519.9,617.7 L520.2,614.6 L520.5,611.4 L520.8,608.3 L521.2,605.3 L521.6,602.2 L522.1,599.1 L522.5,595.9 L523.1,592.7 L523.7,589.6 L524.5,586.6 L525.5,583.6 L526.6,580.7 L528,577.9 L529.6,575.3 L531.6,572.9 L533.8,570.9 L536.4,569 L539.2,567.3 L542.1,565.7 L545,564.4 L548,563.2 L551.3,562.2 L554.6,561.4 L557.8,560.7 L560.7,560.1 L564.6,559.4 L568.5,559 L571.6,558.7 L572.8,558.6 M517.4,671.5 L517.6,669.5 L517.9,666.7 L518.2,663.4 L518.6,659.8 L518.9,656.1 L519.2,652.7 L519.6,649.6 L519.9,646.3 L520.3,643.2 L520.6,640.2 L520.9,637.2 L521.3,634.1 L521.7,631.1 L522,627.9 L522.4,624.7 L522.7,621.6 L523.1,618.5 L523.5,615.4 L524,612.1 L524.5,609 L525,605.9 L525.6,603 L526.3,599.9 L527.2,596.8 L528.1,593.8 L529.3,591 L530.6,588.2 L532.1,585.5 L533.8,582.9 L535.8,580.5 L538.1,578.2 L540.5,576.3 L543.2,574.5 L546,572.8 L548.8,571.1 L551.7,569.5 L554.7,568 L557.6,566.6 L560.5,565.2 L563.3,563.8 L566.6,562 L569.7,560.3 L572.1,559 L572.8,558.6" stroke="#ff80ff" stroke-width="2.6" fill="none" stroke-linejoin="round" stroke-linecap="round"/>
<path d="M517.5,710.9 L517.4,708.9 L517.3,706.3 L517.1,703.2 L517,699.7 L516.8,696 L516.6,692.2 L516.5,688.5 L516.4,684.9 L516.3,681.7 L516.2,678.9 L516.3,675.2 L516.8,671 L517.4,668.2 L518,666.3 L518.1,665.6 M517.5,669.4 L517.3,667.4 L517.1,664.7 L516.9,661.3 L516.6,657.6 L516.3,653.7 L516,649.7 L515.8,645.9 L515.5,642.3 L515.3,639.2 L515.1,636.8 L515,635.7 M515,635.7 L514.3,632.6 L513,629.9 L511.2,626.8 L508.9,624 L506.2,621.9 L503.1,620 L499.6,618.4 L496.5,617.2 L493.2,616.1 L489.7,615.2 L486.2,614.6 L482.8,614.4 L479,614.6 L475.2,615.1 L471.8,615.7 L469.3,616.2 L469,616.2 M469.1,617.3 L471.3,619.3 L474.4,621.9 L477.6,623.9 L480.8,625.7 L481.7,626.2 M481.4,631.2 L483.3,632.9 L486.1,635.2 L489.3,637.8 L492.2,640.1 L495.3,642.5 L498.5,645 L501.1,647 L502.2,647.8 M502.3,652.4 L504.5,654.3 L507.5,657.1 L510.1,659.8 L512.4,662.7 L514.3,665.4 L515.8,668.9 L516.3,670.8 M518.1,665.6 L518.2,663.4 L518.4,660.4 L518.6,656.8 L518.7,653.1 L518.9,649.6 L519.1,646.5 L519.3,643.4 L519.5,640.3 L519.8,637.2 L520,634 L520.3,631 L520.6,627.8 L520.9,624.6 L521.2,621.4 L521.5,618.3 L521.9,615.1 L522.2,611.9 L522.5,608.8 L522.9,605.8 L523.3,602.7 L523.7,599.6 L524.2,596.4 L524.8,593.2 L525.4,590.1 L526.2,587.1 L527.2,584.1 L528.4,581.1 L529.7,578.3 L531.3,575.7 L533.3,573.3 L535.5,571.2 L538.1,569.4 L540.9,567.6 L543.8,566.1 L546.7,564.7 L549.8,563.5 L553,562.5 L556.4,561.7 L559.6,561 L562.5,560.4 L566.4,559.7 L570.3,559.3 L573.4,559 L574.6,558.9 M519,672.2 L519.2,670.2 L519.5,667.4 L519.8,664 L520.2,660.4 L520.5,656.8 L520.9,653.3 L521.2,650.3 L521.6,646.9 L521.9,643.8 L522.3,640.8 L522.6,637.8 L523,634.7 L523.3,631.6 L523.7,628.5 L524,625.3 L524.4,622.1 L524.8,619 L525.2,615.9 L525.7,612.6 L526.1,609.5 L526.7,606.4 L527.3,603.4 L528,600.4 L528.9,597.3 L529.8,594.3 L531,591.4 L532.3,588.7 L533.8,585.9 L535.6,583.3 L537.6,580.9 L539.8,578.6 L542.2,576.7 L544.9,574.9 L547.7,573.2 L550.6,571.5 L553.4,569.9 L556.4,568.3 L559.4,566.9 L562.3,565.5 L565.1,564.1 L568.4,562.3 L571.4,560.6 L573.9,559.3 L574.6,558.9" stroke="#404040" stroke-width="2.6" fill="none" stroke-linejoin="round" stroke-linecap="round"/>
<path d="M519,711.7 L519,709.7 L518.8,707.1 L518.7,704 L518.5,700.5 L518.4,696.8 L518.2,693 L518.1,689.2 L518,685.6 L517.9,682.4 L517.8,679.6 L517.9,675.9 L518.4,671.7 L519.1,668.9 L519.6,667 L519.7,666.3 M519.1,670.1 L519,668.1 L518.8,665.3 L518.5,662 L518.3,658.3 L518,654.4 L517.7,650.4 L517.4,646.5 L517.1,642.9 L516.9,639.8 L516.7,637.4 L516.7,636.3 M516.7,636.3 L515.9,633.2 L514.7,630.5 L512.8,627.3 L510.5,624.6 L507.9,622.5 L504.8,620.6 L501.3,618.9 L498.2,617.8 L494.9,616.7 L491.4,615.8 L487.8,615.2 L484.4,614.9 L480.6,615.2 L476.8,615.7 L473.4,616.3 L470.9,616.8 L470.6,616.8 M470.7,617.9 L472.9,619.9 L476,622.5 L479.2,624.5 L482.4,626.3 L483.3,626.8 M483,631.9 L484.9,633.5 L487.8,635.8 L490.9,638.4 L493.8,640.7 L496.9,643.2 L500.1,645.6 L502.8,647.7 L503.8,648.4 M504,653.1 L506.1,655 L509.1,657.8 L511.7,660.5 L514,663.4 L515.9,666.1 L517.4,669.6 L517.9,671.5 M519.7,666.3 L519.9,664.1 L520,661 L520.2,657.4 L520.4,653.7 L520.6,650.3 L520.8,647.1 L521,644 L521.2,640.9 L521.4,637.8 L521.7,634.6 L522,631.5 L522.3,628.4 L522.6,625.1 L522.9,621.9 L523.2,618.8 L523.5,615.7 L523.9,612.5 L524.2,609.3 L524.5,606.3 L525,603.2 L525.4,600.1 L525.9,596.9 L526.5,593.7 L527.1,590.5 L527.9,587.5 L528.9,584.5 L530.1,581.5 L531.4,578.7 L533,576.1 L535,573.6 L537.3,571.6 L539.8,569.7 L542.6,568 L545.5,566.4 L548.5,565 L551.5,563.9 L554.8,562.9 L558.1,562 L561.3,561.3 L564.3,560.7 L568.2,560 L572,559.6 L575.1,559.3 L576.3,559.2 M520.7,672.9 L520.9,670.9 L521.1,668 L521.5,664.7 L521.8,661.1 L522.2,657.4 L522.5,654 L522.8,650.9 L523.2,647.5 L523.6,644.4 L523.9,641.4 L524.3,638.4 L524.6,635.3 L525,632.2 L525.3,629 L525.7,625.8 L526.1,622.6 L526.5,619.5 L526.9,616.4 L527.4,613.1 L527.8,610 L528.3,606.9 L528.9,603.9 L529.7,600.8 L530.6,597.7 L531.5,594.7 L532.7,591.9 L534,589.1 L535.6,586.3 L537.3,583.7 L539.3,581.3 L541.5,579 L544,577.1 L546.7,575.2 L549.5,573.5 L552.3,571.8 L555.2,570.2 L558.2,568.7 L561.2,567.2 L564.1,565.8 L566.8,564.4 L570.1,562.6 L573.2,560.9 L575.6,559.5 L576.3,559.2" stroke="#f0f000" stroke-width="3.6" fill="none" stroke-linejoin="round" stroke-linecap="round"/>
<path d="M519,711.7 L519,709.7 L518.8,707.1 L518.7,704 L518.5,700.5 L518.4,696.8 L518.2,693 L518.1,689.2 L518,685.6 L517.9,682.4 L517.8,679.6 L517.9,675.9 L518.4,671.7 L519.1,668.9 L519.6,667 L519.7,666.3 M519.1,670.1 L519,668.1 L518.8,665.3 L518.5,662 L518.3,658.3 L518,654.4 L517.7,650.4 L517.4,646.5 L517.1,642.9 L516.9,639.8 L516.7,637.4 L516.7,636.3 M516.7,636.3 L515.9,633.2 L514.7,630.5 L512.8,627.3 L510.5,624.6 L507.9,622.5 L504.8,620.6 L501.3,618.9 L498.2,617.8 L494.9,616.7 L491.4,615.8 L487.8,615.2 L484.4,614.9 L480.6,615.2 L476.8,615.7 L473.4,616.3 L470.9,616.8 L470.6,616.8 M470.7,617.9 L472.9,619.9 L476,622.5 L479.2,624.5 L482.4,626.3 L483.3,626.8 M483,631.9 L484.9,633.5 L487.8,635.8 L490.9,638.4 L493.8,640.7 L496.9,643.2 L500.1,645.6 L502.8,647.7 L503.8,648.4 M504,653.1 L506.1,655 L509.1,657.8 L511.7,660.5 L514,663.4 L515.9,666.1 L517.4,669.6 L517.9,671.5 M519.7,666.3 L519.9,664.1 L520,661 L520.2,657.4 L520.4,653.7 L520.6,650.3 L520.8,647.1 L521,644 L521.2,640.9 L521.4,637.8 L521.7,634.6 L522,631.5 L522.3,628.4 L522.6,625.1 L522.9,621.9 L523.2,618.8 L523.5,615.7 L523.9,612.5 L524.2,609.3 L524.5,606.3 L525,603.2 L525.4,600.1 L525.9,596.9 L526.5,593.7 L527.1,590.5 L527.9,587.5 L528.9,584.5 L530.1,581.5 L531.4,578.7 L533,576.1 L535,573.6 L537.3,571.6 L539.8,569.7 L542.6,568 L545.5,566.4 L548.5,565 L551.5,563.9 L554.8,562.9 L558.1,562 L561.3,561.3 L564.3,560.7 L568.2,560 L572,559.6 L575.1,559.3 L576.3,559.2 M520.7,672.9 L520.9,670.9 L521.1,668 L521.5,664.7 L521.8,661.1 L522.2,657.4 L522.5,654 L522.8,650.9 L523.2,647.5 L523.6,644.4 L523.9,641.4 L524.3,638.4 L524.6,635.3 L525,632.2 L525.3,629 L525.7,625.8 L526.1,622.6 L526.5,619.5 L526.9,616.4 L527.4,613.1 L527.8,610 L528.3,606.9 L528.9,603.9 L529.7,600.8 L530.6,597.7 L531.5,594.7 L532.7,591.9 L534,589.1 L535.6,586.3 L537.3,583.7 L539.3,581.3 L541.5,579 L544,577.1 L546.7,575.2 L549.5,573.5 L552.3,571.8 L555.2,570.2 L558.2,568.7 L561.2,567.2 L564.1,565.8 L566.8,564.4 L570.1,562.6 L573.2,560.9 L575.6,559.5 L576.3,559.2" stroke="#c8c800" stroke-width="3.4" fill="none" stroke-linecap="round" stroke-dasharray="0 4.5"/>
<path d="M581.7,659.7 L581.6,657.5 L580.6,655.2 L579.6,652.9 L578.4,650.5 L576.8,648.2 L575,646.4 L573.1,644.9 L570.9,643.6 L568.5,642.4 L565.8,641.3 L563.6,640.6 L561.3,639.9 L558.8,639.2 L556.2,638.7 L553.6,638.4 L551,638.2 L548.4,638.3 L545.6,638.7 L542.7,639.3 L540,640 L537.5,640.6 L535.5,641.1 L534.6,641.3 M534.6,642.5 L536,643.8 L538.2,645.7 L540.4,647.5 L542.8,648.9 L545.3,650.3 L547.2,651.4 L547.4,651.5 M546.9,657.1 L548.2,658.2 L550,659.7 L552.1,661.5 L554.4,663.4 L556.6,665.2 L558.7,666.8 L561,668.6 L563.3,670.5 L565.4,672.1 L567.2,673.4 L567.9,674 M567.9,679.1 L569.3,680.4 L571.3,682.3 L573.5,684.4 L575.3,686.4 L577,688.5 L578.5,690.7 L579.8,692.8 L581,695.4 L581.6,697.9 L581.7,698.6 M583.8,692.7 L583.9,691.1 L584.1,688.9 L584.3,686.3 L584.5,683.4 L584.8,680.5 L585,677.6 L585.3,674.9 L585.5,672.4 L585.7,669.9 L586,667.4 L586.2,665 L586.4,662.5 L586.7,660 L587,657.4 L587.3,655 L587.6,652.5 L587.9,650 L588.2,647.4 L588.5,644.8 L588.8,642.3 L589.2,639.8 L589.5,637.4 L589.8,634.8 L590.1,632.2 L590.5,629.7 L590.8,627.3 L591.1,624.9 L591.5,622.4 L592,619.9 L592.4,617.3 L592.9,614.8 L593.3,612.2 L593.9,609.7 L594.5,607.2 L595.2,604.7 L596,602.3 L596.9,599.9 L597.9,597.5 L598.9,595.2 L600.1,593 L601.5,590.8 L603.1,588.8 L604.8,587.1 L606.6,585.4 L608.7,583.8 L610.8,582.3 L613,580.9 L615.2,579.5 L617.4,578.3 L619.7,577.2 L622.1,576.2 L624.6,575.2 L627,574.4 L629.5,573.6 L631.8,573 L634,572.3 L636.9,571.5 L639.9,570.9 L642.6,570.4 L644.9,570 L646.6,569.7 M584.5,700 L584.7,698.5 L584.9,696.5 L585.2,694.1 L585.6,691.4 L585.9,688.5 L586.3,685.6 L586.6,682.7 L587,679.9 L587.3,677.4 L587.7,674.9 L588,672.1 L588.4,669.6 L588.7,667.2 L589,664.8 L589.4,662.5 L589.7,660 L590.1,657.5 L590.4,655.1 L590.8,652.5 L591.1,650 L591.5,647.4 L591.8,644.9 L592.2,642.4 L592.6,639.9 L593,637.4 L593.4,634.8 L593.8,632.2 L594.3,629.7 L594.7,627.2 L595.2,624.8 L595.8,622.4 L596.4,619.9 L597.1,617.4 L597.9,614.9 L598.7,612.5 L599.6,610.2 L600.6,607.9 L601.7,605.6 L602.9,603.3 L604.2,601.1 L605.7,599 L607.2,597 L609,595 L610.7,593.3 L612.7,591.7 L614.7,590.1 L616.8,588.6 L619,587 L621.2,585.6 L623.3,584.1 L625.5,582.7 L627.8,581.4 L630.1,580 L632.3,578.7 L634.4,577.5 L636.5,576.2 L639,574.6 L641.5,573 L643.7,571.6 L645.5,570.4 L646.6,569.7 M581.4,743.1 L581.4,706.1 L583.8,692.7 M583,697 L581.7,659.7 M547.4,651.5 L546.9,657.1 M567.9,674 L567.9,679.1" stroke="#ee1010" stroke-width="2.0" fill="none" stroke-linejoin="round"/>
<path d="M581.7,659.7h0M580.2,654.3h0M578.6,651h0M577.1,648.6h0M575.8,647.1h0M574.3,645.8h0M572.7,644.6h0M570.9,643.6h0M569.5,642.8h0M568,642.1h0M566.4,641.5h0M565,641h0M563.6,640.6h0M562.2,640.1h0M560.8,639.7h0M559.3,639.3h0M557.7,639h0M556.2,638.7h0M554.6,638.5h0M553.1,638.3h0M551.5,638.2h0M550,638.2h0M548.4,638.3h0M547.3,638.4h0M545.6,638.7h0M543.9,639h0M542.7,639.3h0M541,639.7h0M539.4,640.1h0M537.9,640.5h0M536.6,640.8h0M535.2,641.2h0M534.6,642.5h0M536.4,644.2h0M537.7,645.4h0M539.5,646.9h0M540.8,647.8h0M542.3,648.6h0M543.8,649.5h0M545.3,650.3h0M546.9,651.2h0M546.9,657.1h0M548.5,658.5h0M550,659.7h0M551.7,661.1h0M553,662.3h0M554.4,663.4h0M556.2,664.8h0M557.8,666.1h0M559.1,667.2h0M560.5,668.3h0M561.9,669.4h0M563.8,670.8h0M565,671.8h0M566.5,672.9h0M567.9,674h0M567.9,679.1h0M569.7,680.7h0M570.9,681.9h0M572.7,683.5h0M573.9,684.8h0M575.7,686.8h0M577,688.5h0M578.5,690.7h0M580,693.1h0M581.5,697.5h0M583.8,692.7h0M585.3,674.4h0M586.8,659h0M588.3,646.4h0M589.8,634.8h0M591.4,623.4h0M592.9,614.8h0M594.4,607.7h0M595.8,602.8h0M597.5,598.5h0M598.9,595.2h0M600.4,592.5h0M601.8,590.4h0M603.4,588.5h0M605.1,586.8h0M606.6,585.4h0M607.8,584.5h0M609.5,583.2h0M611.2,582h0M612.5,581.2h0M613.9,580.3h0M615.6,579.3h0M617,578.5h0M618.7,577.6h0M620.2,577h0M621.6,576.4h0M623.1,575.8h0M624.6,575.2h0M626,574.7h0M627.5,574.2h0M629,573.8h0M630.4,573.4h0M631.8,573h0M633.6,572.4h0M635,572h0M636.9,571.5h0M638.1,571.3h0M639.9,570.9h0M641,570.7h0M642.6,570.4h0M644.1,570.1h0M645.3,569.9h0M584.5,700h0M586.1,687.4h0M587.5,676h0M589,664.8h0M590.5,654.1h0M592,643.4h0M593.6,633.8h0M595,625.8h0M596.6,619.4h0M598,614.4h0M599.6,610.2h0M601,607h0M602.7,603.8h0M604.2,601.1h0M605.7,599h0M607.2,597h0M608.6,595.4h0M610,594h0M611.9,592.3h0M613.1,591.4h0M614.7,590.1h0M616.4,588.9h0M617.7,587.9h0M619.4,586.8h0M620.7,585.9h0M622,585h0M623.7,583.9h0M625.1,583h0M626.9,581.9h0M628.2,581.1h0M629.6,580.3h0M631.4,579.2h0M632.7,578.5h0M634.4,577.5h0M635.6,576.7h0M637.5,575.6h0M638.5,574.9h0M640,574h0M641.9,572.7h0M643.3,571.8h0M644.9,570.8h0M646.1,570h0" fill="none" stroke="#c00000" stroke-width="5.2" stroke-linecap="round"/>
<path d="M580.9,658.9h0M579.4,653.5h0M577.8,650.2h0M576.3,647.8h0M575,646.3h0M573.5,645h0M571.9,643.8h0M570.1,642.8h0M568.7,642h0M567.2,641.3h0M565.6,640.7h0M564.2,640.2h0M562.8,639.8h0M561.4,639.3h0M560,638.9h0M558.5,638.5h0M556.9,638.2h0M555.4,637.9h0M553.8,637.7h0M552.3,637.5h0M550.7,637.4h0M549.2,637.4h0M547.6,637.5h0M546.5,637.6h0M544.8,637.9h0M543.1,638.2h0M541.9,638.5h0M540.2,638.9h0M538.6,639.3h0M537.1,639.7h0M535.8,640h0M534.4,640.4h0M533.8,641.7h0M535.6,643.4h0M536.9,644.6h0M538.7,646.1h0M540,647h0M541.5,647.8h0M543,648.7h0M544.5,649.5h0M546.1,650.4h0M546.1,656.3h0M547.7,657.7h0M549.2,658.9h0M550.9,660.3h0M552.2,661.5h0M553.6,662.6h0M555.4,664h0M557,665.3h0M558.3,666.4h0M559.7,667.5h0M561.1,668.6h0M563,670h0M564.2,671h0M565.7,672.1h0M567.1,673.2h0M567.1,678.3h0M568.9,679.9h0M570.1,681.1h0M571.9,682.7h0M573.1,684h0M574.9,686h0M576.2,687.7h0M577.7,689.9h0M579.2,692.3h0M580.7,696.7h0M583,691.9h0M584.5,673.6h0M586,658.2h0M587.5,645.6h0M589,634h0M590.6,622.6h0M592.1,614h0M593.6,606.9h0M595,602h0M596.7,597.7h0M598.1,594.4h0M599.6,591.7h0M601,589.6h0M602.6,587.7h0M604.3,586h0M605.8,584.6h0M607,583.7h0M608.7,582.4h0M610.4,581.2h0M611.7,580.4h0M613.1,579.5h0M614.8,578.5h0M616.2,577.7h0M617.9,576.8h0M619.4,576.2h0M620.8,575.6h0M622.3,575h0M623.8,574.4h0M625.2,573.9h0M626.7,573.4h0M628.2,573h0M629.6,572.6h0M631,572.2h0M632.8,571.6h0M634.2,571.2h0M636.1,570.7h0M637.3,570.5h0M639.1,570.1h0M640.2,569.9h0M641.8,569.6h0M643.3,569.3h0M644.5,569.1h0M583.7,699.2h0M585.3,686.6h0M586.7,675.2h0M588.2,664h0M589.7,653.3h0M591.2,642.6h0M592.8,633h0M594.2,625h0M595.8,618.6h0M597.2,613.6h0M598.8,609.4h0M600.2,606.2h0M601.9,603h0M603.4,600.3h0M604.9,598.2h0M606.4,596.2h0M607.8,594.6h0M609.2,593.2h0M611.1,591.5h0M612.3,590.6h0M613.9,589.3h0M615.6,588.1h0M616.9,587.1h0M618.6,586h0M619.9,585.1h0M621.2,584.2h0M622.9,583.1h0M624.3,582.2h0M626.1,581.1h0M627.4,580.3h0M628.8,579.5h0M630.6,578.4h0M631.9,577.7h0M633.6,576.7h0M634.8,575.9h0M636.7,574.8h0M637.7,574.1h0M639.2,573.2h0M641.1,571.9h0M642.5,571h0M644.1,570h0M645.3,569.2h0" fill="none" stroke="#ff5050" stroke-width="1.6" stroke-linecap="round"/>
<path d="M581.4,743.1h0M581.4,706.1h0M583.8,692.7h0" fill="none" stroke="#c00000" stroke-width="5.2" stroke-linecap="round"/>
<path d="M580.6,742.3h0M580.6,705.3h0M583,691.9h0" fill="none" stroke="#ff5050" stroke-width="1.6" stroke-linecap="round"/>
<path d="M419.1,555.3 L427.2,710.5 L521.7,769.4 L646.7,718" stroke="#000" stroke-width="1.4" fill="none"/>
<line x1="427.2" y1="710.5" x2="430.7" y2="709.5" stroke="#000" stroke-width="1.1"/>
<text x="425.7" y="716" style="font-family:'Liberation Sans'" font-size="10.5" font-weight="bold" fill="#000" text-anchor="end">1E-11</text>
<line x1="425.9" y1="686.4" x2="429.5" y2="685.5" stroke="#000" stroke-width="1.1"/>
<text x="424.4" y="691.9" style="font-family:'Liberation Sans'" font-size="10.5" font-weight="bold" fill="#000" text-anchor="end">1E-10</text>
<line x1="424.7" y1="662.2" x2="428.2" y2="661.4" stroke="#000" stroke-width="1.1"/>
<text x="423.2" y="667.7" style="font-family:'Liberation Sans'" font-size="10.5" font-weight="bold" fill="#000" text-anchor="end">1E-9</text>
<line x1="423.4" y1="638.1" x2="427" y2="637.4" stroke="#000" stroke-width="1.1"/>
<text x="421.9" y="643.6" style="font-family:'Liberation Sans'" font-size="10.5" font-weight="bold" fill="#000" text-anchor="end">1E-8</text>
<line x1="422.2" y1="614" x2="425.8" y2="613.4" stroke="#000" stroke-width="1.1"/>
<text x="420.7" y="619.5" style="font-family:'Liberation Sans'" font-size="10.5" font-weight="bold" fill="#000" text-anchor="end">1E-7</text>
<line x1="420.9" y1="589.8" x2="424.6" y2="589.4" stroke="#000" stroke-width="1.1"/>
<text x="419.4" y="595.3" style="font-family:'Liberation Sans'" font-size="10.5" font-weight="bold" fill="#000" text-anchor="end">1E-6</text>
<line x1="419.6" y1="565.7" x2="423.4" y2="565.3" stroke="#000" stroke-width="1.1"/>
<text x="418.1" y="571.2" style="font-family:'Liberation Sans'" font-size="10.5" font-weight="bold" fill="#000" text-anchor="end">1E-5</text>
<text x="427.8" y="718.8" style="font-family:'Liberation Sans'" font-size="9" font-weight="bold" fill="#000" text-anchor="middle" transform="rotate(-24 427.8 718.8)">10</text>
<line x1="431" y1="712.9" x2="433.5" y2="711.7" stroke="#000" stroke-width="0.9"/>
<text x="437.1" y="725.3" style="font-family:'Liberation Sans'" font-size="9" font-weight="bold" fill="#000" text-anchor="middle" transform="rotate(-24 437.1 725.3)">20</text>
<line x1="440.2" y1="718.6" x2="442.7" y2="717.4" stroke="#000" stroke-width="0.9"/>
<text x="446.5" y="731.8" style="font-family:'Liberation Sans'" font-size="9" font-weight="bold" fill="#000" text-anchor="middle" transform="rotate(-24 446.5 731.8)">30</text>
<line x1="449.5" y1="724.4" x2="452" y2="723.2" stroke="#000" stroke-width="0.9"/>
<text x="455.8" y="738.4" style="font-family:'Liberation Sans'" font-size="9" font-weight="bold" fill="#000" text-anchor="middle" transform="rotate(-24 455.8 738.4)">40</text>
<line x1="458.7" y1="730.1" x2="461.2" y2="728.9" stroke="#000" stroke-width="0.9"/>
<text x="465.2" y="744.9" style="font-family:'Liberation Sans'" font-size="9" font-weight="bold" fill="#000" text-anchor="middle" transform="rotate(-24 465.2 744.9)">50</text>
<line x1="467.9" y1="735.9" x2="470.4" y2="734.7" stroke="#000" stroke-width="0.9"/>
<text x="474.5" y="751.4" style="font-family:'Liberation Sans'" font-size="9" font-weight="bold" fill="#000" text-anchor="middle" transform="rotate(-24 474.5 751.4)">60</text>
<line x1="477.2" y1="741.7" x2="479.7" y2="740.5" stroke="#000" stroke-width="0.9"/>
<text x="483.9" y="757.9" style="font-family:'Liberation Sans'" font-size="9" font-weight="bold" fill="#000" text-anchor="middle" transform="rotate(-24 483.9 757.9)">70</text>
<line x1="486.4" y1="747.4" x2="488.9" y2="746.2" stroke="#000" stroke-width="0.9"/>
<text x="493.2" y="764.5" style="font-family:'Liberation Sans'" font-size="9" font-weight="bold" fill="#000" text-anchor="middle" transform="rotate(-24 493.2 764.5)">80</text>
<line x1="495.7" y1="753.2" x2="498.2" y2="752" stroke="#000" stroke-width="0.9"/>
<text x="502.6" y="771" style="font-family:'Liberation Sans'" font-size="9" font-weight="bold" fill="#000" text-anchor="middle" transform="rotate(-24 502.6 771)">90</text>
<line x1="504.9" y1="758.9" x2="507.4" y2="757.7" stroke="#000" stroke-width="0.9"/>
<text x="511.9" y="777.5" style="font-family:'Liberation Sans'" font-size="9" font-weight="bold" fill="#000" text-anchor="middle" transform="rotate(-24 511.9 777.5)">100</text>
<line x1="514.1" y1="764.7" x2="516.6" y2="763.5" stroke="#000" stroke-width="0.9"/>
<text x="541.4" y="770.7" style="font-family:'Liberation Sans'" font-size="8.5" font-weight="bold" fill="#000" text-anchor="middle" transform="rotate(60 541.4 770.7)">-2</text>
<line x1="540.4" y1="761.7" x2="540.4" y2="759.2" stroke="#000" stroke-width="0.9"/>
<text x="564.5" y="761.2" style="font-family:'Liberation Sans'" font-size="8.5" font-weight="bold" fill="#000" text-anchor="middle" transform="rotate(60 564.5 761.2)">-1</text>
<line x1="563.5" y1="752.2" x2="563.5" y2="749.7" stroke="#000" stroke-width="0.9"/>
<text x="584.6" y="753" style="font-family:'Liberation Sans'" font-size="8.5" font-weight="bold" fill="#000" text-anchor="middle" transform="rotate(60 584.6 753)">0</text>
<line x1="583.6" y1="744" x2="583.6" y2="741.5" stroke="#000" stroke-width="0.9"/>
<text x="604.5" y="744.8" style="font-family:'Liberation Sans'" font-size="8.5" font-weight="bold" fill="#000" text-anchor="middle" transform="rotate(60 604.5 744.8)">1</text>
<line x1="603.5" y1="735.8" x2="603.5" y2="733.3" stroke="#000" stroke-width="0.9"/>
<text x="624.5" y="736.6" style="font-family:'Liberation Sans'" font-size="8.5" font-weight="bold" fill="#000" text-anchor="middle" transform="rotate(60 624.5 736.6)">2</text>
<line x1="623.5" y1="727.6" x2="623.5" y2="725.1" stroke="#000" stroke-width="0.9"/>
<text x="643.5" y="728.8" style="font-family:'Liberation Sans'" font-size="8.5" font-weight="bold" fill="#000" text-anchor="middle" transform="rotate(60 643.5 728.8)">3</text>
<line x1="642.5" y1="719.8" x2="642.5" y2="717.3" stroke="#000" stroke-width="0.9"/>
<text x="599.6" y="759.6" style="font-family:'Liberation Sans'" font-size="11" font-weight="bold" fill="#000" text-anchor="middle" transform="rotate(-21.5 599.6 759.6)">Voltage (V)</text>
<text x="449.3" y="754.1" style="font-family:'Liberation Sans'" font-size="12.5" font-weight="bold" fill="#000" text-anchor="middle" transform="rotate(34 449.3 754.1)">Cycles (#)</text>
<text x="386.5" y="633.5" style="font-family:'Liberation Sans'" font-size="13.5" font-weight="bold" fill="#000" text-anchor="middle" transform="rotate(92 386.5 633.5)">Current (A)</text>
<text x="350" y="547.3" style="font-family:'Liberation Serif'" font-size="22" font-weight="normal" fill="#000" text-anchor="start">(f)</text>
<line x1="470" y1="727.5" x2="492.4" y2="727.5" stroke="#ee1010" stroke-width="1.8"/>
<circle cx="481.9" cy="727.5" r="3" fill="#d80000"/>
<text x="496.3" y="731.6" font-size="11.1" font-weight="bold">Pt/ZnO/SiO<tspan font-size="8" dy="3">2-x</tspan><tspan dy="-3">/Pt</tspan></text>
</svg></body></html>
